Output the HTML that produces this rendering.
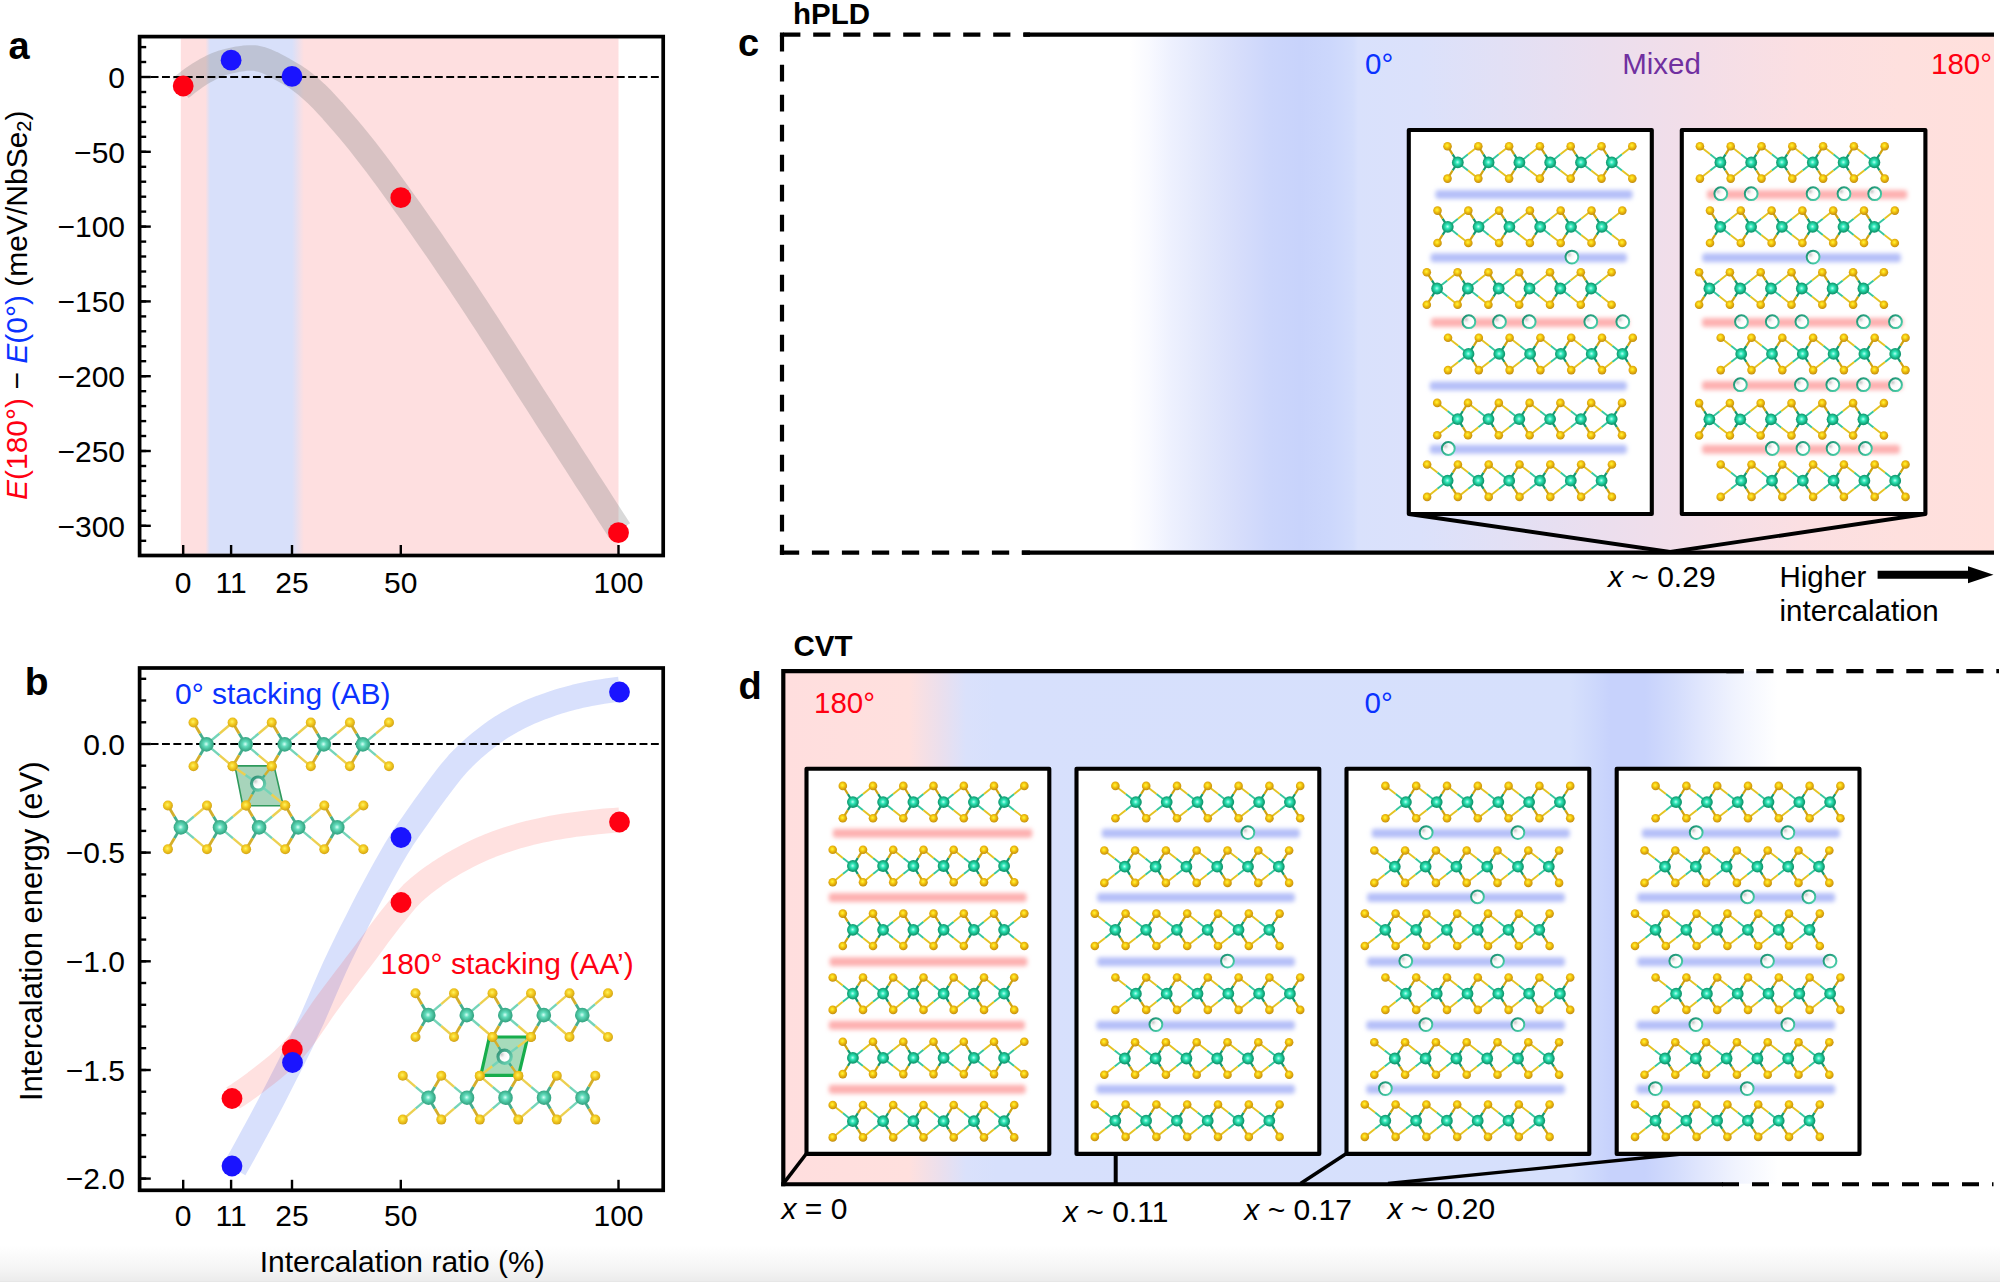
<!DOCTYPE html>
<html><head><meta charset="utf-8"><title>Figure</title>
<style>html,body{margin:0;padding:0;background:#fff}svg{display:block}text{font-family:"Liberation Sans", Arial, Helvetica, sans-serif}</style></head><body>
<svg width="2000" height="1282" viewBox="0 0 2000 1282">

<defs>
<radialGradient id="se" cx="0.45" cy="0.42" r="0.62">
<stop offset="0" stop-color="#fff23c"/><stop offset="0.25" stop-color="#fbdc1c"/><stop offset="0.55" stop-color="#e8b40c"/><stop offset="0.82" stop-color="#d09a0e"/><stop offset="1" stop-color="#ae7f12"/>
</radialGradient>
<radialGradient id="nb" cx="0.48" cy="0.48" r="0.6">
<stop offset="0" stop-color="#b8fff2"/><stop offset="0.3" stop-color="#2ee6b8"/><stop offset="0.68" stop-color="#14a87b"/><stop offset="1" stop-color="#0d805f"/>
</radialGradient>
<radialGradient id="se2" cx="0.45" cy="0.42" r="0.62">
<stop offset="0" stop-color="#fff460"/><stop offset="0.45" stop-color="#f4cc20"/><stop offset="0.8" stop-color="#dcae18"/><stop offset="1" stop-color="#c49a20"/>
</radialGradient>
<radialGradient id="nb2" cx="0.48" cy="0.48" r="0.6">
<stop offset="0" stop-color="#d8fff6"/><stop offset="0.3" stop-color="#62dcbc"/><stop offset="0.7" stop-color="#3db18e"/><stop offset="1" stop-color="#2f9878"/>
</radialGradient>
<radialGradient id="ic" cx="0.28" cy="0.32" r="0.48">
<stop offset="0" stop-color="#cacaca"/><stop offset="0.5" stop-color="#f6f6f6"/><stop offset="1" stop-color="#ffffff"/>
</radialGradient>
<linearGradient id="icr" x1="0" y1="0" x2="1" y2="1">
<stop offset="0" stop-color="#168c6c"/><stop offset="1" stop-color="#4fd6b0"/>
</linearGradient>
<linearGradient id="icr2" x1="0" y1="0" x2="1" y2="1">
<stop offset="0" stop-color="#2f8f74"/><stop offset="1" stop-color="#6fd8b8"/>
</linearGradient>
<filter id="bl" x="-5%" y="-60%" width="110%" height="220%"><feGaussianBlur stdDeviation="2"/></filter>
<linearGradient id="gc" gradientUnits="userSpaceOnUse" x1="1000" y1="0" x2="1994" y2="0">
<stop offset="0.0000" stop-color="#ffffff"/>
<stop offset="0.1308" stop-color="#ffffff"/>
<stop offset="0.1509" stop-color="#f8f9ff"/>
<stop offset="0.1710" stop-color="#eef1fe"/>
<stop offset="0.2012" stop-color="#e3e8fc"/>
<stop offset="0.2414" stop-color="#d6ddfb"/>
<stop offset="0.2716" stop-color="#ccd6fb"/>
<stop offset="0.3018" stop-color="#c8d3fb"/>
<stop offset="0.3320" stop-color="#ccd7fc"/>
<stop offset="0.3551" stop-color="#d3ddfc"/>
<stop offset="0.3602" stop-color="#d9e1fc"/>
<stop offset="0.4225" stop-color="#dbe1fb"/>
<stop offset="0.5030" stop-color="#e2e0f5"/>
<stop offset="0.6036" stop-color="#ebdeee"/>
<stop offset="0.7042" stop-color="#f3dee8"/>
<stop offset="0.8048" stop-color="#fbdfe2"/>
<stop offset="0.9054" stop-color="#fee0de"/>
<stop offset="1.0000" stop-color="#ffe0dc"/>
</linearGradient>
<linearGradient id="gd" gradientUnits="userSpaceOnUse" x1="783" y1="0" x2="1883" y2="0">
<stop offset="0.0000" stop-color="#ffdede"/>
<stop offset="0.1145" stop-color="#ffe0de"/>
<stop offset="0.1418" stop-color="#ecdfec"/>
<stop offset="0.1664" stop-color="#dae1fb"/>
<stop offset="0.1927" stop-color="#d7e0fc"/>
<stop offset="0.7155" stop-color="#d6e0fc"/>
<stop offset="0.7382" stop-color="#cdd8fc"/>
<stop offset="0.7518" stop-color="#c7d2fc"/>
<stop offset="0.7836" stop-color="#c7d2fc"/>
<stop offset="0.8109" stop-color="#d3dcfc"/>
<stop offset="0.8336" stop-color="#e0e6fd"/>
<stop offset="0.8655" stop-color="#f0f3fe"/>
<stop offset="0.9045" stop-color="#ffffff"/>
<stop offset="1.0000" stop-color="#ffffff"/>
</linearGradient>
<linearGradient id="ga" gradientUnits="userSpaceOnUse" x1="180" y1="0" x2="620" y2="0">
<stop offset="0.0000" stop-color="#fedfe0"/>
<stop offset="0.0580" stop-color="#fedfe0"/>
<stop offset="0.0682" stop-color="#d8e0fa"/>
<stop offset="0.2545" stop-color="#d8e0fa"/>
<stop offset="0.2818" stop-color="#fedfe0"/>
<stop offset="1.0000" stop-color="#fedfe0"/>
</linearGradient>
<linearGradient id="gb" x1="0" y1="0" x2="0" y2="1">
<stop offset="0" stop-color="#ffffff"/><stop offset="0.3" stop-color="#fafafa"/><stop offset="0.7" stop-color="#f3f3f3"/><stop offset="0.96" stop-color="#ececec"/><stop offset="1" stop-color="#e4e4e4"/>
</linearGradient>
</defs>

<rect x="0" y="0" width="2000" height="1282" fill="#fff"/>
<rect x="0" y="1246" width="2000" height="36" fill="url(#gb)"/>
<g id="panelA">
<rect x="180.8" y="38.4" width="437.7" height="515.3" fill="url(#ga)"/>
<polyline points="180.6,88.1 183.2,86 188.7,81.6 194.2,77.6 199.8,73.9 205.3,70.6 210.8,67.7 216.3,65.2 221.8,63 227.4,61.4 232.9,60.2 238.4,59.1 243.9,58.3 249.5,57.9 255,58.1 260.5,59.2 266,61 271.5,63.5 277.1,66.3 282.6,69.4 288.1,72.5 293.6,75.7 299.1,79.3 304.7,83.6 310.2,88.3 315.7,93.2 321.2,98.6 326.7,104.4 332.3,110.5 337.8,116.8 343.3,123.1 348.8,129.6 354.4,136.2 359.9,143 365.4,150 370.9,157.1 376.4,164.3 382,171.7 387.5,179.2 393,186.9 398.5,194.5 404,202.3 409.6,210 415.1,217.8 420.6,225.7 426.1,233.6 431.7,241.6 437.2,249.6 442.7,257.7 448.2,265.8 453.7,273.9 459.3,282.1 464.8,290.4 470.3,298.7 475.8,307.1 481.3,315.5 486.9,324 492.4,332.6 497.9,341.1 503.4,349.7 508.9,358.4 514.5,367 520,375.7 525.5,384.3 531,393 536.6,401.6 542.1,410.2 547.6,418.8 553.1,427.4 558.6,435.9 564.2,444.5 569.7,453.1 575.2,461.6 580.7,470.2 586.2,478.8 591.8,487.4 597.3,495.9 602.8,504.5 608.3,513.1 613.8,521.7 619.4,530.3" fill="none" stroke="#808080" stroke-opacity="0.3" stroke-width="25.5" stroke-linejoin="round"/>
<path d="M139.25 77H659" stroke="#000" stroke-width="2.2" stroke-dasharray="7.9 3.47" fill="none"/>
<path d="M139.6 47.1h6.6" stroke="#000" stroke-width="2.4"/><path d="M139.6 62h6.6" stroke="#000" stroke-width="2.4"/><path d="M139.6 92h6.6" stroke="#000" stroke-width="2.4"/><path d="M139.6 106.9h6.6" stroke="#000" stroke-width="2.4"/><path d="M139.6 121.9h6.6" stroke="#000" stroke-width="2.4"/><path d="M139.6 136.8h6.6" stroke="#000" stroke-width="2.4"/><path d="M139.6 151.8h6.6" stroke="#000" stroke-width="2.4"/><path d="M139.6 166.8h6.6" stroke="#000" stroke-width="2.4"/><path d="M139.6 181.7h6.6" stroke="#000" stroke-width="2.4"/><path d="M139.6 196.7h6.6" stroke="#000" stroke-width="2.4"/><path d="M139.6 211.6h6.6" stroke="#000" stroke-width="2.4"/><path d="M139.6 226.6h6.6" stroke="#000" stroke-width="2.4"/><path d="M139.6 241.6h6.6" stroke="#000" stroke-width="2.4"/><path d="M139.6 256.5h6.6" stroke="#000" stroke-width="2.4"/><path d="M139.6 271.5h6.6" stroke="#000" stroke-width="2.4"/><path d="M139.6 286.4h6.6" stroke="#000" stroke-width="2.4"/><path d="M139.6 301.4h6.6" stroke="#000" stroke-width="2.4"/><path d="M139.6 316.4h6.6" stroke="#000" stroke-width="2.4"/><path d="M139.6 331.3h6.6" stroke="#000" stroke-width="2.4"/><path d="M139.6 346.3h6.6" stroke="#000" stroke-width="2.4"/><path d="M139.6 361.2h6.6" stroke="#000" stroke-width="2.4"/><path d="M139.6 376.2h6.6" stroke="#000" stroke-width="2.4"/><path d="M139.6 391.2h6.6" stroke="#000" stroke-width="2.4"/><path d="M139.6 406.1h6.6" stroke="#000" stroke-width="2.4"/><path d="M139.6 421.1h6.6" stroke="#000" stroke-width="2.4"/><path d="M139.6 436h6.6" stroke="#000" stroke-width="2.4"/><path d="M139.6 451h6.6" stroke="#000" stroke-width="2.4"/><path d="M139.6 466h6.6" stroke="#000" stroke-width="2.4"/><path d="M139.6 480.9h6.6" stroke="#000" stroke-width="2.4"/><path d="M139.6 495.9h6.6" stroke="#000" stroke-width="2.4"/><path d="M139.6 510.8h6.6" stroke="#000" stroke-width="2.4"/><path d="M139.6 525.8h6.6" stroke="#000" stroke-width="2.4"/><path d="M139.6 540.8h6.6" stroke="#000" stroke-width="2.4"/>
<path d="M139.6 77h11.2" stroke="#000" stroke-width="2.4"/><path d="M139.6 151.8h11.2" stroke="#000" stroke-width="2.4"/><path d="M139.6 226.6h11.2" stroke="#000" stroke-width="2.4"/><path d="M139.6 301.4h11.2" stroke="#000" stroke-width="2.4"/><path d="M139.6 376.2h11.2" stroke="#000" stroke-width="2.4"/><path d="M139.6 451h11.2" stroke="#000" stroke-width="2.4"/><path d="M139.6 525.8h11.2" stroke="#000" stroke-width="2.4"/>
<path d="M183.2 555.5v-10.5" stroke="#000" stroke-width="2.4"/><path d="M231.1 555.5v-10.5" stroke="#000" stroke-width="2.4"/><path d="M292 555.5v-10.5" stroke="#000" stroke-width="2.4"/><path d="M400.8 555.5v-10.5" stroke="#000" stroke-width="2.4"/><path d="M618.5 555.5v-10.5" stroke="#000" stroke-width="2.4"/>
<circle cx="183.2" cy="86" r="10.4" fill="#ff0012"/>
<circle cx="400.8" cy="197.7" r="10.4" fill="#ff0012"/>
<circle cx="618.5" cy="532.7" r="10.4" fill="#ff0012"/>
<circle cx="231.1" cy="60.2" r="10.4" fill="#1a14ff"/>
<circle cx="292" cy="76.3" r="10.4" fill="#1a14ff"/>
<rect x="139.6" y="36.6" width="523.6" height="518.9" fill="none" stroke="#000" stroke-width="3.7"/>
<text x="125" y="87.8" font-size="30" text-anchor="end">0</text>
<text x="125" y="162.6" font-size="30" text-anchor="end">−50</text>
<text x="125" y="237.4" font-size="30" text-anchor="end">−100</text>
<text x="125" y="312.2" font-size="30" text-anchor="end">−150</text>
<text x="125" y="387" font-size="30" text-anchor="end">−200</text>
<text x="125" y="461.8" font-size="30" text-anchor="end">−250</text>
<text x="125" y="536.6" font-size="30" text-anchor="end">−300</text>
<text x="183.2" y="592.5" font-size="30" text-anchor="middle">0</text>
<text x="231.1" y="592.5" font-size="30" text-anchor="middle">11</text>
<text x="292" y="592.5" font-size="30" text-anchor="middle">25</text>
<text x="400.8" y="592.5" font-size="30" text-anchor="middle">50</text>
<text x="618.5" y="592.5" font-size="30" text-anchor="middle">100</text>
<text transform="translate(26.8 500) rotate(-90)" font-size="30"><tspan fill="#ff0012"><tspan font-style="italic">E</tspan>(180°)</tspan> − <tspan fill="#0a32ff"><tspan font-style="italic">E</tspan>(0°)</tspan> (meV/NbSe<tspan font-size="20" dy="4.5">2</tspan><tspan dy="-4.5">)</tspan></text>
<text x="8.5" y="58.6" font-size="38" font-weight="bold">a</text>
</g>
<g id="panelB">
<polyline points="234.5,1169 240.1,1159.2 245.7,1149.2 251.2,1139 256.8,1128.8 262.4,1118.3 268,1107.8 273.6,1097.1 279.1,1086.3 284.7,1075.4 290.3,1064.4 295.9,1053.2 301.5,1041.8 307,1030 312.6,1017.9 318.2,1005 323.8,991.8 329.4,978.9 334.9,966.7 340.5,954.7 346.1,943.2 351.7,931.9 357.3,920.8 362.8,909.9 368.4,899.1 374,888.6 379.6,878.3 385.2,868.1 390.7,858.2 396.3,848.6 401.9,839.6 407.5,831.3 413.1,823.3 418.6,815.5 424.2,807.6 429.8,799.8 435.4,792.2 440.9,784.8 446.5,777.4 452.1,770.3 457.7,763.8 463.3,758 468.8,752.7 474.4,747.6 480,742.9 485.6,738.4 491.2,734.1 496.7,730.2 502.3,726.6 507.9,723.2 513.5,720.1 519.1,717.2 524.6,714.5 530.2,711.9 535.8,709.6 541.4,707.4 547,705.4 552.5,703.5 558.1,701.7 563.7,700 569.3,698.5 574.9,697 580.4,695.7 586,694.5 591.6,693.3 597.2,692.4 602.8,691.5 608.3,690.6 613.9,689.9 619.5,689.3" fill="none" stroke="#3c64f0" stroke-opacity="0.2" stroke-width="25" stroke-linejoin="round"/>
<polyline points="233,1098 238.6,1094.4 244.2,1090.6 249.8,1086.6 255.4,1082.5 261,1078.2 266.6,1073.8 272.2,1069.4 277.8,1064.7 283.4,1059.7 289,1054.3 294.6,1048.4 300.2,1041.6 305.8,1034.1 311.4,1026.1 317,1017.9 322.6,1009.6 328.2,1001.7 333.8,994.1 339.4,986.7 345,979.3 350.6,972 356.2,964.6 361.8,957.3 367.4,949.9 373,942.3 378.6,934.7 384.2,927.2 389.8,919.9 395.4,913 401,906.1 406.6,899.5 412.2,893.6 417.8,888.5 423.4,883.9 429.1,879.5 434.7,875.5 440.3,871.7 445.9,868.1 451.5,864.7 457.1,861.5 462.7,858.5 468.3,855.5 473.9,852.8 479.5,850.2 485.1,847.7 490.7,845.4 496.3,843.3 501.9,841.3 507.5,839.4 513.1,837.6 518.7,835.9 524.3,834.4 529.9,832.9 535.5,831.6 541.1,830.4 546.7,829.2 552.3,828.1 557.9,827.1 563.5,826.2 569.1,825.3 574.7,824.5 580.3,823.8 585.9,823.1 591.5,822.5 597.1,821.9 602.7,821.3 608.3,820.8 613.9,820.4 619.5,820" fill="none" stroke="#ff1e14" stroke-opacity="0.135" stroke-width="25" stroke-linejoin="round"/>
<path d="M139.25 744H659" stroke="#000" stroke-width="2.2" stroke-dasharray="7.9 3.47" fill="none"/>
<path d="M139.6 678.8h6.6" stroke="#000" stroke-width="2.4"/><path d="M139.6 700.5h6.6" stroke="#000" stroke-width="2.4"/><path d="M139.6 722.3h6.6" stroke="#000" stroke-width="2.4"/><path d="M139.6 765.7h6.6" stroke="#000" stroke-width="2.4"/><path d="M139.6 787.5h6.6" stroke="#000" stroke-width="2.4"/><path d="M139.6 809.2h6.6" stroke="#000" stroke-width="2.4"/><path d="M139.6 830.9h6.6" stroke="#000" stroke-width="2.4"/><path d="M139.6 852.6h6.6" stroke="#000" stroke-width="2.4"/><path d="M139.6 874.4h6.6" stroke="#000" stroke-width="2.4"/><path d="M139.6 896.1h6.6" stroke="#000" stroke-width="2.4"/><path d="M139.6 917.8h6.6" stroke="#000" stroke-width="2.4"/><path d="M139.6 939.6h6.6" stroke="#000" stroke-width="2.4"/><path d="M139.6 961.3h6.6" stroke="#000" stroke-width="2.4"/><path d="M139.6 983h6.6" stroke="#000" stroke-width="2.4"/><path d="M139.6 1004.8h6.6" stroke="#000" stroke-width="2.4"/><path d="M139.6 1026.5h6.6" stroke="#000" stroke-width="2.4"/><path d="M139.6 1048.2h6.6" stroke="#000" stroke-width="2.4"/><path d="M139.6 1070h6.6" stroke="#000" stroke-width="2.4"/><path d="M139.6 1091.7h6.6" stroke="#000" stroke-width="2.4"/><path d="M139.6 1113.4h6.6" stroke="#000" stroke-width="2.4"/><path d="M139.6 1135.1h6.6" stroke="#000" stroke-width="2.4"/><path d="M139.6 1156.9h6.6" stroke="#000" stroke-width="2.4"/><path d="M139.6 1178.6h6.6" stroke="#000" stroke-width="2.4"/>
<path d="M139.6 744h11.2" stroke="#000" stroke-width="2.4"/><path d="M139.6 852.6h11.2" stroke="#000" stroke-width="2.4"/><path d="M139.6 961.3h11.2" stroke="#000" stroke-width="2.4"/><path d="M139.6 1070h11.2" stroke="#000" stroke-width="2.4"/><path d="M139.6 1178.6h11.2" stroke="#000" stroke-width="2.4"/>
<path d="M183.2 1190.3v-10.5" stroke="#000" stroke-width="2.4"/><path d="M231.1 1190.3v-10.5" stroke="#000" stroke-width="2.4"/><path d="M292 1190.3v-10.5" stroke="#000" stroke-width="2.4"/><path d="M400.8 1190.3v-10.5" stroke="#000" stroke-width="2.4"/><path d="M618.5 1190.3v-10.5" stroke="#000" stroke-width="2.4"/>
<g>
<path d="M234.9 765.9L274 765.9L283.3 805.7L242.8 805.7Z" fill="#3c9f68" fill-opacity="0.45" stroke="#2f9a5c" stroke-width="1.6" stroke-linejoin="round"/>
<g fill="none" stroke-linecap="butt"><path d="M206.5 744.4L200 733.5" stroke="#45ae8e" stroke-width="2.8"/><path d="M200 733.5L193.5 722.5" stroke="#d4ae2a" stroke-width="2.8"/><path d="M206.5 744.4L219.6 733.5" stroke="#74d4b8" stroke-width="2.4"/><path d="M219.6 733.5L232.6 722.5" stroke="#ecd050" stroke-width="2.4"/><path d="M206.5 744.4L200 755.3" stroke="#45ae8e" stroke-width="2.8"/><path d="M200 755.3L193.5 766.3" stroke="#d4ae2a" stroke-width="2.8"/><path d="M206.5 744.4L219.6 755.3" stroke="#74d4b8" stroke-width="2.4"/><path d="M219.6 755.3L232.6 766.3" stroke="#ecd050" stroke-width="2.4"/><path d="M245.6 744.4L239.1 733.5" stroke="#45ae8e" stroke-width="2.8"/><path d="M239.1 733.5L232.6 722.5" stroke="#d4ae2a" stroke-width="2.8"/><path d="M245.6 744.4L258.7 733.5" stroke="#74d4b8" stroke-width="2.4"/><path d="M258.7 733.5L271.7 722.5" stroke="#ecd050" stroke-width="2.4"/><path d="M245.6 744.4L239.1 755.3" stroke="#45ae8e" stroke-width="2.8"/><path d="M239.1 755.3L232.6 766.3" stroke="#d4ae2a" stroke-width="2.8"/><path d="M245.6 744.4L258.7 755.3" stroke="#74d4b8" stroke-width="2.4"/><path d="M258.7 755.3L271.7 766.3" stroke="#ecd050" stroke-width="2.4"/><path d="M284.7 744.4L278.2 733.5" stroke="#45ae8e" stroke-width="2.8"/><path d="M278.2 733.5L271.7 722.5" stroke="#d4ae2a" stroke-width="2.8"/><path d="M284.7 744.4L297.8 733.5" stroke="#74d4b8" stroke-width="2.4"/><path d="M297.8 733.5L310.8 722.5" stroke="#ecd050" stroke-width="2.4"/><path d="M284.7 744.4L278.2 755.3" stroke="#45ae8e" stroke-width="2.8"/><path d="M278.2 755.3L271.7 766.3" stroke="#d4ae2a" stroke-width="2.8"/><path d="M284.7 744.4L297.8 755.3" stroke="#74d4b8" stroke-width="2.4"/><path d="M297.8 755.3L310.8 766.3" stroke="#ecd050" stroke-width="2.4"/><path d="M323.8 744.4L317.3 733.5" stroke="#45ae8e" stroke-width="2.8"/><path d="M317.3 733.5L310.8 722.5" stroke="#d4ae2a" stroke-width="2.8"/><path d="M323.8 744.4L336.9 733.5" stroke="#74d4b8" stroke-width="2.4"/><path d="M336.9 733.5L349.9 722.5" stroke="#ecd050" stroke-width="2.4"/><path d="M323.8 744.4L317.3 755.3" stroke="#45ae8e" stroke-width="2.8"/><path d="M317.3 755.3L310.8 766.3" stroke="#d4ae2a" stroke-width="2.8"/><path d="M323.8 744.4L336.9 755.3" stroke="#74d4b8" stroke-width="2.4"/><path d="M336.9 755.3L349.9 766.3" stroke="#ecd050" stroke-width="2.4"/><path d="M362.9 744.4L356.4 733.5" stroke="#45ae8e" stroke-width="2.8"/><path d="M356.4 733.5L349.9 722.5" stroke="#d4ae2a" stroke-width="2.8"/><path d="M362.9 744.4L376 733.5" stroke="#74d4b8" stroke-width="2.4"/><path d="M376 733.5L389 722.5" stroke="#ecd050" stroke-width="2.4"/><path d="M362.9 744.4L356.4 755.3" stroke="#45ae8e" stroke-width="2.8"/><path d="M356.4 755.3L349.9 766.3" stroke="#d4ae2a" stroke-width="2.8"/><path d="M362.9 744.4L376 755.3" stroke="#74d4b8" stroke-width="2.4"/><path d="M376 755.3L389 766.3" stroke="#ecd050" stroke-width="2.4"/></g><circle cx="193.5" cy="722.5" r="5.0" fill="url(#se2)"/><circle cx="193.5" cy="766.3" r="5.0" fill="url(#se2)"/><circle cx="232.6" cy="722.5" r="5.0" fill="url(#se2)"/><circle cx="232.6" cy="766.3" r="5.0" fill="url(#se2)"/><circle cx="271.7" cy="722.5" r="5.0" fill="url(#se2)"/><circle cx="271.7" cy="766.3" r="5.0" fill="url(#se2)"/><circle cx="310.8" cy="722.5" r="5.0" fill="url(#se2)"/><circle cx="310.8" cy="766.3" r="5.0" fill="url(#se2)"/><circle cx="349.9" cy="722.5" r="5.0" fill="url(#se2)"/><circle cx="349.9" cy="766.3" r="5.0" fill="url(#se2)"/><circle cx="389" cy="722.5" r="5.0" fill="url(#se2)"/><circle cx="389" cy="766.3" r="5.0" fill="url(#se2)"/><circle cx="206.5" cy="744.4" r="7.3" fill="url(#nb2)"/><circle cx="245.6" cy="744.4" r="7.3" fill="url(#nb2)"/><circle cx="284.7" cy="744.4" r="7.3" fill="url(#nb2)"/><circle cx="323.8" cy="744.4" r="7.3" fill="url(#nb2)"/><circle cx="362.9" cy="744.4" r="7.3" fill="url(#nb2)"/>
<g fill="none" stroke-linecap="butt"><path d="M180.9 827.4L174.4 816.5" stroke="#45ae8e" stroke-width="2.8"/><path d="M174.4 816.5L167.9 805.5" stroke="#d4ae2a" stroke-width="2.8"/><path d="M180.9 827.4L194 816.5" stroke="#74d4b8" stroke-width="2.4"/><path d="M194 816.5L207 805.5" stroke="#ecd050" stroke-width="2.4"/><path d="M180.9 827.4L174.4 838.3" stroke="#45ae8e" stroke-width="2.8"/><path d="M174.4 838.3L167.9 849.3" stroke="#d4ae2a" stroke-width="2.8"/><path d="M180.9 827.4L194 838.3" stroke="#74d4b8" stroke-width="2.4"/><path d="M194 838.3L207 849.3" stroke="#ecd050" stroke-width="2.4"/><path d="M220 827.4L213.5 816.5" stroke="#45ae8e" stroke-width="2.8"/><path d="M213.5 816.5L207 805.5" stroke="#d4ae2a" stroke-width="2.8"/><path d="M220 827.4L233.1 816.5" stroke="#74d4b8" stroke-width="2.4"/><path d="M233.1 816.5L246.1 805.5" stroke="#ecd050" stroke-width="2.4"/><path d="M220 827.4L213.5 838.3" stroke="#45ae8e" stroke-width="2.8"/><path d="M213.5 838.3L207 849.3" stroke="#d4ae2a" stroke-width="2.8"/><path d="M220 827.4L233.1 838.3" stroke="#74d4b8" stroke-width="2.4"/><path d="M233.1 838.3L246.1 849.3" stroke="#ecd050" stroke-width="2.4"/><path d="M259.1 827.4L252.6 816.5" stroke="#45ae8e" stroke-width="2.8"/><path d="M252.6 816.5L246.1 805.5" stroke="#d4ae2a" stroke-width="2.8"/><path d="M259.1 827.4L272.2 816.5" stroke="#74d4b8" stroke-width="2.4"/><path d="M272.2 816.5L285.2 805.5" stroke="#ecd050" stroke-width="2.4"/><path d="M259.1 827.4L252.6 838.3" stroke="#45ae8e" stroke-width="2.8"/><path d="M252.6 838.3L246.1 849.3" stroke="#d4ae2a" stroke-width="2.8"/><path d="M259.1 827.4L272.2 838.3" stroke="#74d4b8" stroke-width="2.4"/><path d="M272.2 838.3L285.2 849.3" stroke="#ecd050" stroke-width="2.4"/><path d="M298.2 827.4L291.7 816.5" stroke="#45ae8e" stroke-width="2.8"/><path d="M291.7 816.5L285.2 805.5" stroke="#d4ae2a" stroke-width="2.8"/><path d="M298.2 827.4L311.3 816.5" stroke="#74d4b8" stroke-width="2.4"/><path d="M311.3 816.5L324.3 805.5" stroke="#ecd050" stroke-width="2.4"/><path d="M298.2 827.4L291.7 838.3" stroke="#45ae8e" stroke-width="2.8"/><path d="M291.7 838.3L285.2 849.3" stroke="#d4ae2a" stroke-width="2.8"/><path d="M298.2 827.4L311.3 838.3" stroke="#74d4b8" stroke-width="2.4"/><path d="M311.3 838.3L324.3 849.3" stroke="#ecd050" stroke-width="2.4"/><path d="M337.3 827.4L330.8 816.5" stroke="#45ae8e" stroke-width="2.8"/><path d="M330.8 816.5L324.3 805.5" stroke="#d4ae2a" stroke-width="2.8"/><path d="M337.3 827.4L350.4 816.5" stroke="#74d4b8" stroke-width="2.4"/><path d="M350.4 816.5L363.4 805.5" stroke="#ecd050" stroke-width="2.4"/><path d="M337.3 827.4L330.8 838.3" stroke="#45ae8e" stroke-width="2.8"/><path d="M330.8 838.3L324.3 849.3" stroke="#d4ae2a" stroke-width="2.8"/><path d="M337.3 827.4L350.4 838.3" stroke="#74d4b8" stroke-width="2.4"/><path d="M350.4 838.3L363.4 849.3" stroke="#ecd050" stroke-width="2.4"/></g><circle cx="167.9" cy="805.5" r="5.0" fill="url(#se2)"/><circle cx="167.9" cy="849.3" r="5.0" fill="url(#se2)"/><circle cx="207" cy="805.5" r="5.0" fill="url(#se2)"/><circle cx="207" cy="849.3" r="5.0" fill="url(#se2)"/><circle cx="246.1" cy="805.5" r="5.0" fill="url(#se2)"/><circle cx="246.1" cy="849.3" r="5.0" fill="url(#se2)"/><circle cx="285.2" cy="805.5" r="5.0" fill="url(#se2)"/><circle cx="285.2" cy="849.3" r="5.0" fill="url(#se2)"/><circle cx="324.3" cy="805.5" r="5.0" fill="url(#se2)"/><circle cx="324.3" cy="849.3" r="5.0" fill="url(#se2)"/><circle cx="363.4" cy="805.5" r="5.0" fill="url(#se2)"/><circle cx="363.4" cy="849.3" r="5.0" fill="url(#se2)"/><circle cx="180.9" cy="827.4" r="7.3" fill="url(#nb2)"/><circle cx="220" cy="827.4" r="7.3" fill="url(#nb2)"/><circle cx="259.1" cy="827.4" r="7.3" fill="url(#nb2)"/><circle cx="298.2" cy="827.4" r="7.3" fill="url(#nb2)"/><circle cx="337.3" cy="827.4" r="7.3" fill="url(#nb2)"/>
</g>
<path d="M258.1 783.6L245.4 775" stroke="#74d4b8" stroke-width="2.4" fill="none"/><path d="M245.4 775L232.6 766.3" stroke="#ecd050" stroke-width="2.4" fill="none"/><path d="M258.1 783.6L264.9 775" stroke="#45ae8e" stroke-width="2.4" fill="none"/><path d="M264.9 775L271.7 766.3" stroke="#d4ae2a" stroke-width="2.4" fill="none"/><path d="M258.1 783.6L252.1 794.5" stroke="#45ae8e" stroke-width="2.4" fill="none"/><path d="M252.1 794.5L246.1 805.5" stroke="#d4ae2a" stroke-width="2.4" fill="none"/><path d="M258.1 783.6L271.6 794.5" stroke="#74d4b8" stroke-width="2.4" fill="none"/><path d="M271.6 794.5L285.2 805.5" stroke="#ecd050" stroke-width="2.4" fill="none"/><circle cx="232.6" cy="766.3" r="5" fill="url(#se2)"/><circle cx="271.7" cy="766.3" r="5" fill="url(#se2)"/><circle cx="246.1" cy="805.5" r="5" fill="url(#se2)"/><circle cx="285.2" cy="805.5" r="5" fill="url(#se2)"/><circle cx="258.1" cy="783.6" r="6.6" fill="url(#ic)" stroke="url(#icr2)" stroke-width="3.2"/>
<path d="M489.4 1037L527.8 1037L518.6 1075.4L480.8 1075.4Z" fill="#4fb878" fill-opacity="0.5" stroke="#17ad4c" stroke-width="3.2" stroke-linejoin="round"/>
<g fill="none" stroke-linecap="butt"><path d="M428.3 1015.1L421.9 1004.2" stroke="#45ae8e" stroke-width="2.8"/><path d="M421.9 1004.2L415.5 993.2" stroke="#d4ae2a" stroke-width="2.8"/><path d="M428.3 1015.1L441.2 1004.2" stroke="#74d4b8" stroke-width="2.4"/><path d="M441.2 1004.2L454 993.2" stroke="#ecd050" stroke-width="2.4"/><path d="M428.3 1015.1L421.9 1026" stroke="#45ae8e" stroke-width="2.8"/><path d="M421.9 1026L415.5 1037" stroke="#d4ae2a" stroke-width="2.8"/><path d="M428.3 1015.1L441.2 1026" stroke="#74d4b8" stroke-width="2.4"/><path d="M441.2 1026L454 1037" stroke="#ecd050" stroke-width="2.4"/><path d="M466.8 1015.1L460.4 1004.2" stroke="#45ae8e" stroke-width="2.8"/><path d="M460.4 1004.2L454 993.2" stroke="#d4ae2a" stroke-width="2.8"/><path d="M466.8 1015.1L479.7 1004.2" stroke="#74d4b8" stroke-width="2.4"/><path d="M479.7 1004.2L492.5 993.2" stroke="#ecd050" stroke-width="2.4"/><path d="M466.8 1015.1L460.4 1026" stroke="#45ae8e" stroke-width="2.8"/><path d="M460.4 1026L454 1037" stroke="#d4ae2a" stroke-width="2.8"/><path d="M466.8 1015.1L479.7 1026" stroke="#74d4b8" stroke-width="2.4"/><path d="M479.7 1026L492.5 1037" stroke="#ecd050" stroke-width="2.4"/><path d="M505.3 1015.1L498.9 1004.2" stroke="#45ae8e" stroke-width="2.8"/><path d="M498.9 1004.2L492.5 993.2" stroke="#d4ae2a" stroke-width="2.8"/><path d="M505.3 1015.1L518.2 1004.2" stroke="#74d4b8" stroke-width="2.4"/><path d="M518.2 1004.2L531 993.2" stroke="#ecd050" stroke-width="2.4"/><path d="M505.3 1015.1L498.9 1026" stroke="#45ae8e" stroke-width="2.8"/><path d="M498.9 1026L492.5 1037" stroke="#d4ae2a" stroke-width="2.8"/><path d="M505.3 1015.1L518.2 1026" stroke="#74d4b8" stroke-width="2.4"/><path d="M518.2 1026L531 1037" stroke="#ecd050" stroke-width="2.4"/><path d="M543.8 1015.1L537.4 1004.2" stroke="#45ae8e" stroke-width="2.8"/><path d="M537.4 1004.2L531 993.2" stroke="#d4ae2a" stroke-width="2.8"/><path d="M543.8 1015.1L556.7 1004.2" stroke="#74d4b8" stroke-width="2.4"/><path d="M556.7 1004.2L569.5 993.2" stroke="#ecd050" stroke-width="2.4"/><path d="M543.8 1015.1L537.4 1026" stroke="#45ae8e" stroke-width="2.8"/><path d="M537.4 1026L531 1037" stroke="#d4ae2a" stroke-width="2.8"/><path d="M543.8 1015.1L556.7 1026" stroke="#74d4b8" stroke-width="2.4"/><path d="M556.7 1026L569.5 1037" stroke="#ecd050" stroke-width="2.4"/><path d="M582.3 1015.1L575.9 1004.2" stroke="#45ae8e" stroke-width="2.8"/><path d="M575.9 1004.2L569.5 993.2" stroke="#d4ae2a" stroke-width="2.8"/><path d="M582.3 1015.1L595.2 1004.2" stroke="#74d4b8" stroke-width="2.4"/><path d="M595.2 1004.2L608 993.2" stroke="#ecd050" stroke-width="2.4"/><path d="M582.3 1015.1L575.9 1026" stroke="#45ae8e" stroke-width="2.8"/><path d="M575.9 1026L569.5 1037" stroke="#d4ae2a" stroke-width="2.8"/><path d="M582.3 1015.1L595.2 1026" stroke="#74d4b8" stroke-width="2.4"/><path d="M595.2 1026L608 1037" stroke="#ecd050" stroke-width="2.4"/></g><circle cx="415.5" cy="993.2" r="5.0" fill="url(#se2)"/><circle cx="415.5" cy="1037" r="5.0" fill="url(#se2)"/><circle cx="454" cy="993.2" r="5.0" fill="url(#se2)"/><circle cx="454" cy="1037" r="5.0" fill="url(#se2)"/><circle cx="492.5" cy="993.2" r="5.0" fill="url(#se2)"/><circle cx="492.5" cy="1037" r="5.0" fill="url(#se2)"/><circle cx="531" cy="993.2" r="5.0" fill="url(#se2)"/><circle cx="531" cy="1037" r="5.0" fill="url(#se2)"/><circle cx="569.5" cy="993.2" r="5.0" fill="url(#se2)"/><circle cx="569.5" cy="1037" r="5.0" fill="url(#se2)"/><circle cx="608" cy="993.2" r="5.0" fill="url(#se2)"/><circle cx="608" cy="1037" r="5.0" fill="url(#se2)"/><circle cx="428.3" cy="1015.1" r="7.3" fill="url(#nb2)"/><circle cx="466.8" cy="1015.1" r="7.3" fill="url(#nb2)"/><circle cx="505.3" cy="1015.1" r="7.3" fill="url(#nb2)"/><circle cx="543.8" cy="1015.1" r="7.3" fill="url(#nb2)"/><circle cx="582.3" cy="1015.1" r="7.3" fill="url(#nb2)"/>
<g fill="none" stroke-linecap="butt"><path d="M428.5 1097.7L415.6 1086.8" stroke="#74d4b8" stroke-width="2.4"/><path d="M415.6 1086.8L402.8 1075.8" stroke="#ecd050" stroke-width="2.4"/><path d="M428.5 1097.7L434.9 1086.8" stroke="#45ae8e" stroke-width="2.8"/><path d="M434.9 1086.8L441.3 1075.8" stroke="#d4ae2a" stroke-width="2.8"/><path d="M428.5 1097.7L415.6 1108.7" stroke="#74d4b8" stroke-width="2.4"/><path d="M415.6 1108.7L402.8 1119.6" stroke="#ecd050" stroke-width="2.4"/><path d="M428.5 1097.7L434.9 1108.7" stroke="#45ae8e" stroke-width="2.8"/><path d="M434.9 1108.7L441.3 1119.6" stroke="#d4ae2a" stroke-width="2.8"/><path d="M467 1097.7L454.1 1086.8" stroke="#74d4b8" stroke-width="2.4"/><path d="M454.1 1086.8L441.3 1075.8" stroke="#ecd050" stroke-width="2.4"/><path d="M467 1097.7L473.4 1086.8" stroke="#45ae8e" stroke-width="2.8"/><path d="M473.4 1086.8L479.8 1075.8" stroke="#d4ae2a" stroke-width="2.8"/><path d="M467 1097.7L454.1 1108.7" stroke="#74d4b8" stroke-width="2.4"/><path d="M454.1 1108.7L441.3 1119.6" stroke="#ecd050" stroke-width="2.4"/><path d="M467 1097.7L473.4 1108.7" stroke="#45ae8e" stroke-width="2.8"/><path d="M473.4 1108.7L479.8 1119.6" stroke="#d4ae2a" stroke-width="2.8"/><path d="M505.5 1097.7L492.6 1086.8" stroke="#74d4b8" stroke-width="2.4"/><path d="M492.6 1086.8L479.8 1075.8" stroke="#ecd050" stroke-width="2.4"/><path d="M505.5 1097.7L511.9 1086.8" stroke="#45ae8e" stroke-width="2.8"/><path d="M511.9 1086.8L518.3 1075.8" stroke="#d4ae2a" stroke-width="2.8"/><path d="M505.5 1097.7L492.6 1108.7" stroke="#74d4b8" stroke-width="2.4"/><path d="M492.6 1108.7L479.8 1119.6" stroke="#ecd050" stroke-width="2.4"/><path d="M505.5 1097.7L511.9 1108.7" stroke="#45ae8e" stroke-width="2.8"/><path d="M511.9 1108.7L518.3 1119.6" stroke="#d4ae2a" stroke-width="2.8"/><path d="M544 1097.7L531.1 1086.8" stroke="#74d4b8" stroke-width="2.4"/><path d="M531.1 1086.8L518.3 1075.8" stroke="#ecd050" stroke-width="2.4"/><path d="M544 1097.7L550.4 1086.8" stroke="#45ae8e" stroke-width="2.8"/><path d="M550.4 1086.8L556.8 1075.8" stroke="#d4ae2a" stroke-width="2.8"/><path d="M544 1097.7L531.1 1108.7" stroke="#74d4b8" stroke-width="2.4"/><path d="M531.1 1108.7L518.3 1119.6" stroke="#ecd050" stroke-width="2.4"/><path d="M544 1097.7L550.4 1108.7" stroke="#45ae8e" stroke-width="2.8"/><path d="M550.4 1108.7L556.8 1119.6" stroke="#d4ae2a" stroke-width="2.8"/><path d="M582.5 1097.7L569.6 1086.8" stroke="#74d4b8" stroke-width="2.4"/><path d="M569.6 1086.8L556.8 1075.8" stroke="#ecd050" stroke-width="2.4"/><path d="M582.5 1097.7L588.9 1086.8" stroke="#45ae8e" stroke-width="2.8"/><path d="M588.9 1086.8L595.3 1075.8" stroke="#d4ae2a" stroke-width="2.8"/><path d="M582.5 1097.7L569.6 1108.7" stroke="#74d4b8" stroke-width="2.4"/><path d="M569.6 1108.7L556.8 1119.6" stroke="#ecd050" stroke-width="2.4"/><path d="M582.5 1097.7L588.9 1108.7" stroke="#45ae8e" stroke-width="2.8"/><path d="M588.9 1108.7L595.3 1119.6" stroke="#d4ae2a" stroke-width="2.8"/></g><circle cx="402.8" cy="1075.8" r="5.0" fill="url(#se2)"/><circle cx="402.8" cy="1119.6" r="5.0" fill="url(#se2)"/><circle cx="441.3" cy="1075.8" r="5.0" fill="url(#se2)"/><circle cx="441.3" cy="1119.6" r="5.0" fill="url(#se2)"/><circle cx="479.8" cy="1075.8" r="5.0" fill="url(#se2)"/><circle cx="479.8" cy="1119.6" r="5.0" fill="url(#se2)"/><circle cx="518.3" cy="1075.8" r="5.0" fill="url(#se2)"/><circle cx="518.3" cy="1119.6" r="5.0" fill="url(#se2)"/><circle cx="556.8" cy="1075.8" r="5.0" fill="url(#se2)"/><circle cx="556.8" cy="1119.6" r="5.0" fill="url(#se2)"/><circle cx="595.3" cy="1075.8" r="5.0" fill="url(#se2)"/><circle cx="595.3" cy="1119.6" r="5.0" fill="url(#se2)"/><circle cx="428.5" cy="1097.7" r="7.3" fill="url(#nb2)"/><circle cx="467" cy="1097.7" r="7.3" fill="url(#nb2)"/><circle cx="505.5" cy="1097.7" r="7.3" fill="url(#nb2)"/><circle cx="544" cy="1097.7" r="7.3" fill="url(#nb2)"/><circle cx="582.5" cy="1097.7" r="7.3" fill="url(#nb2)"/>
<path d="M504.6 1056.8L498.6 1046.9" stroke="#45ae8e" stroke-width="2.4" fill="none"/><path d="M498.6 1046.9L492.5 1037" stroke="#d4ae2a" stroke-width="2.4" fill="none"/><path d="M504.6 1056.8L517.8 1046.9" stroke="#74d4b8" stroke-width="2.4" fill="none"/><path d="M517.8 1046.9L531 1037" stroke="#ecd050" stroke-width="2.4" fill="none"/><path d="M504.6 1056.8L492.2 1066.3" stroke="#74d4b8" stroke-width="2.4" fill="none"/><path d="M492.2 1066.3L479.8 1075.9" stroke="#ecd050" stroke-width="2.4" fill="none"/><path d="M504.6 1056.8L511.4 1066.3" stroke="#45ae8e" stroke-width="2.4" fill="none"/><path d="M511.4 1066.3L518.3 1075.9" stroke="#d4ae2a" stroke-width="2.4" fill="none"/><circle cx="492.5" cy="1037" r="5" fill="url(#se2)"/><circle cx="531" cy="1037" r="5" fill="url(#se2)"/><circle cx="479.8" cy="1075.9" r="5" fill="url(#se2)"/><circle cx="518.3" cy="1075.9" r="5" fill="url(#se2)"/><circle cx="504.6" cy="1056.8" r="6.6" fill="url(#ic)" stroke="url(#icr2)" stroke-width="3.2"/>
<circle cx="232" cy="1098.5" r="10.4" fill="#ff0012"/>
<circle cx="292.3" cy="1049.5" r="10.4" fill="#ff0012"/>
<circle cx="401" cy="902.5" r="10.4" fill="#ff0012"/>
<circle cx="619.5" cy="822" r="10.4" fill="#ff0012"/>
<circle cx="232" cy="1166" r="10.4" fill="#1a14ff"/>
<circle cx="292.5" cy="1062.5" r="10.4" fill="#1a14ff"/>
<circle cx="401" cy="837.5" r="10.4" fill="#1a14ff"/>
<circle cx="619.5" cy="692" r="10.4" fill="#1a14ff"/>
<rect x="139.6" y="668" width="523.6" height="522.3" fill="none" stroke="#000" stroke-width="3.7"/>
<text x="125" y="754.8" font-size="30" text-anchor="end">0.0</text>
<text x="125" y="863.4" font-size="30" text-anchor="end">−0.5</text>
<text x="125" y="972.1" font-size="30" text-anchor="end">−1.0</text>
<text x="125" y="1080.8" font-size="30" text-anchor="end">−1.5</text>
<text x="125" y="1189.4" font-size="30" text-anchor="end">−2.0</text>
<text x="183.2" y="1226.4" font-size="30" text-anchor="middle">0</text>
<text x="231.1" y="1226.4" font-size="30" text-anchor="middle">11</text>
<text x="292" y="1226.4" font-size="30" text-anchor="middle">25</text>
<text x="400.8" y="1226.4" font-size="30" text-anchor="middle">50</text>
<text x="618.5" y="1226.4" font-size="30" text-anchor="middle">100</text>
<text x="402.2" y="1272" font-size="30" text-anchor="middle">Intercalation ratio (%)</text>
<text transform="translate(42 1101) rotate(-90)" font-size="31">Intercalation energy (eV)</text>
<text x="175" y="704" font-size="30" fill="#0a32ff">0° stacking (AB)</text>
<text x="380.5" y="974" font-size="30" fill="#ff0012">180° stacking (AA’)</text>
<text x="24.8" y="695" font-size="39" font-weight="bold">b</text>
</g>
<g id="panelC">
<rect x="1000" y="34.4" width="994" height="518.2" fill="url(#gc)"/>
<path d="M1023.6 34.6H1994" stroke="#000" stroke-width="4.2" fill="none"/>
<path d="M1021.8 552.7H1994" stroke="#000" stroke-width="4.2" fill="none"/>
<path d="M783.2 34.6H1030" stroke="#000" stroke-width="4.2" fill="none" stroke-dasharray="17.2 12.8"/>
<path d="M781.9 552.7H1030" stroke="#000" stroke-width="4.2" fill="none" stroke-dasharray="17.3 12.7"/>
<path d="M782 34.7V554.8" stroke="#000" stroke-width="4.2" fill="none" stroke-dasharray="16.8 13.2"/>
<path d="M779.9 34.6H784M779.9 552.7H784" stroke="#000" stroke-width="4.2" fill="none"/>
<path d="M1408.8 514L1670.2 552L1925.4 514" stroke="#000" stroke-width="3.9" fill="none" stroke-linejoin="miter"/>
<rect x="1408.8" y="130" width="243" height="384" fill="#fff" stroke="#000" stroke-width="4.1" stroke-linejoin="round"/>
<g filter="url(#bl)">
<rect x="1435.4" y="189.9" width="197.1" height="9" rx="3" fill="#b5bff8"/>
<rect x="1430.6" y="253.3" width="196.3" height="9" rx="3" fill="#b5bff8"/>
<rect x="1431" y="317.9" width="198" height="9" rx="3" fill="#fdb1b1"/>
<rect x="1429.8" y="381.4" width="197.1" height="9" rx="3" fill="#b5bff8"/>
<rect x="1429.8" y="444.7" width="197.1" height="9" rx="3" fill="#b5bff8"/>
</g>
<g fill="none" stroke-linecap="butt"><path d="M1457.8 162.4L1452.6 154.3" stroke="#139a70" stroke-width="2.2"/><path d="M1452.6 154.3L1447.5 146.2" stroke="#cfa311" stroke-width="2.2"/><path d="M1457.8 162.4L1468 154.3" stroke="#35c79f" stroke-width="1.9"/><path d="M1468 154.3L1478.3 146.2" stroke="#e4c322" stroke-width="1.9"/><path d="M1457.8 162.4L1452.6 170.5" stroke="#139a70" stroke-width="2.2"/><path d="M1452.6 170.5L1447.5 178.6" stroke="#cfa311" stroke-width="2.2"/><path d="M1457.8 162.4L1468 170.5" stroke="#35c79f" stroke-width="1.9"/><path d="M1468 170.5L1478.3 178.6" stroke="#e4c322" stroke-width="1.9"/><path d="M1488.6 162.4L1483.4 154.3" stroke="#139a70" stroke-width="2.2"/><path d="M1483.4 154.3L1478.3 146.2" stroke="#cfa311" stroke-width="2.2"/><path d="M1488.6 162.4L1498.8 154.3" stroke="#35c79f" stroke-width="1.9"/><path d="M1498.8 154.3L1509.1 146.2" stroke="#e4c322" stroke-width="1.9"/><path d="M1488.6 162.4L1483.4 170.5" stroke="#139a70" stroke-width="2.2"/><path d="M1483.4 170.5L1478.3 178.6" stroke="#cfa311" stroke-width="2.2"/><path d="M1488.6 162.4L1498.8 170.5" stroke="#35c79f" stroke-width="1.9"/><path d="M1498.8 170.5L1509.1 178.6" stroke="#e4c322" stroke-width="1.9"/><path d="M1519.4 162.4L1514.2 154.3" stroke="#139a70" stroke-width="2.2"/><path d="M1514.2 154.3L1509.1 146.2" stroke="#cfa311" stroke-width="2.2"/><path d="M1519.4 162.4L1529.6 154.3" stroke="#35c79f" stroke-width="1.9"/><path d="M1529.6 154.3L1539.9 146.2" stroke="#e4c322" stroke-width="1.9"/><path d="M1519.4 162.4L1514.2 170.5" stroke="#139a70" stroke-width="2.2"/><path d="M1514.2 170.5L1509.1 178.6" stroke="#cfa311" stroke-width="2.2"/><path d="M1519.4 162.4L1529.6 170.5" stroke="#35c79f" stroke-width="1.9"/><path d="M1529.6 170.5L1539.9 178.6" stroke="#e4c322" stroke-width="1.9"/><path d="M1550.2 162.4L1545 154.3" stroke="#139a70" stroke-width="2.2"/><path d="M1545 154.3L1539.9 146.2" stroke="#cfa311" stroke-width="2.2"/><path d="M1550.2 162.4L1560.4 154.3" stroke="#35c79f" stroke-width="1.9"/><path d="M1560.4 154.3L1570.7 146.2" stroke="#e4c322" stroke-width="1.9"/><path d="M1550.2 162.4L1545 170.5" stroke="#139a70" stroke-width="2.2"/><path d="M1545 170.5L1539.9 178.6" stroke="#cfa311" stroke-width="2.2"/><path d="M1550.2 162.4L1560.4 170.5" stroke="#35c79f" stroke-width="1.9"/><path d="M1560.4 170.5L1570.7 178.6" stroke="#e4c322" stroke-width="1.9"/><path d="M1581 162.4L1575.8 154.3" stroke="#139a70" stroke-width="2.2"/><path d="M1575.8 154.3L1570.7 146.2" stroke="#cfa311" stroke-width="2.2"/><path d="M1581 162.4L1591.2 154.3" stroke="#35c79f" stroke-width="1.9"/><path d="M1591.2 154.3L1601.5 146.2" stroke="#e4c322" stroke-width="1.9"/><path d="M1581 162.4L1575.8 170.5" stroke="#139a70" stroke-width="2.2"/><path d="M1575.8 170.5L1570.7 178.6" stroke="#cfa311" stroke-width="2.2"/><path d="M1581 162.4L1591.2 170.5" stroke="#35c79f" stroke-width="1.9"/><path d="M1591.2 170.5L1601.5 178.6" stroke="#e4c322" stroke-width="1.9"/><path d="M1611.8 162.4L1606.6 154.3" stroke="#139a70" stroke-width="2.2"/><path d="M1606.6 154.3L1601.5 146.2" stroke="#cfa311" stroke-width="2.2"/><path d="M1611.8 162.4L1622 154.3" stroke="#35c79f" stroke-width="1.9"/><path d="M1622 154.3L1632.3 146.2" stroke="#e4c322" stroke-width="1.9"/><path d="M1611.8 162.4L1606.6 170.5" stroke="#139a70" stroke-width="2.2"/><path d="M1606.6 170.5L1601.5 178.6" stroke="#cfa311" stroke-width="2.2"/><path d="M1611.8 162.4L1622 170.5" stroke="#35c79f" stroke-width="1.9"/><path d="M1622 170.5L1632.3 178.6" stroke="#e4c322" stroke-width="1.9"/></g><circle cx="1447.5" cy="146.2" r="4.3" fill="url(#se)"/><circle cx="1447.5" cy="178.6" r="4.3" fill="url(#se)"/><circle cx="1478.3" cy="146.2" r="4.3" fill="url(#se)"/><circle cx="1478.3" cy="178.6" r="4.3" fill="url(#se)"/><circle cx="1509.1" cy="146.2" r="4.3" fill="url(#se)"/><circle cx="1509.1" cy="178.6" r="4.3" fill="url(#se)"/><circle cx="1539.9" cy="146.2" r="4.3" fill="url(#se)"/><circle cx="1539.9" cy="178.6" r="4.3" fill="url(#se)"/><circle cx="1570.7" cy="146.2" r="4.3" fill="url(#se)"/><circle cx="1570.7" cy="178.6" r="4.3" fill="url(#se)"/><circle cx="1601.5" cy="146.2" r="4.3" fill="url(#se)"/><circle cx="1601.5" cy="178.6" r="4.3" fill="url(#se)"/><circle cx="1632.3" cy="146.2" r="4.3" fill="url(#se)"/><circle cx="1632.3" cy="178.6" r="4.3" fill="url(#se)"/><circle cx="1457.8" cy="162.4" r="5.9" fill="url(#nb)"/><circle cx="1488.6" cy="162.4" r="5.9" fill="url(#nb)"/><circle cx="1519.4" cy="162.4" r="5.9" fill="url(#nb)"/><circle cx="1550.2" cy="162.4" r="5.9" fill="url(#nb)"/><circle cx="1581" cy="162.4" r="5.9" fill="url(#nb)"/><circle cx="1611.8" cy="162.4" r="5.9" fill="url(#nb)"/>
<g fill="none" stroke-linecap="butt"><path d="M1447.8 226.8L1442.6 218.7" stroke="#139a70" stroke-width="2.2"/><path d="M1442.6 218.7L1437.5 210.6" stroke="#cfa311" stroke-width="2.2"/><path d="M1447.8 226.8L1458 218.7" stroke="#35c79f" stroke-width="1.9"/><path d="M1458 218.7L1468.3 210.6" stroke="#e4c322" stroke-width="1.9"/><path d="M1447.8 226.8L1442.6 234.9" stroke="#139a70" stroke-width="2.2"/><path d="M1442.6 234.9L1437.5 243" stroke="#cfa311" stroke-width="2.2"/><path d="M1447.8 226.8L1458 234.9" stroke="#35c79f" stroke-width="1.9"/><path d="M1458 234.9L1468.3 243" stroke="#e4c322" stroke-width="1.9"/><path d="M1478.6 226.8L1473.4 218.7" stroke="#139a70" stroke-width="2.2"/><path d="M1473.4 218.7L1468.3 210.6" stroke="#cfa311" stroke-width="2.2"/><path d="M1478.6 226.8L1488.8 218.7" stroke="#35c79f" stroke-width="1.9"/><path d="M1488.8 218.7L1499.1 210.6" stroke="#e4c322" stroke-width="1.9"/><path d="M1478.6 226.8L1473.4 234.9" stroke="#139a70" stroke-width="2.2"/><path d="M1473.4 234.9L1468.3 243" stroke="#cfa311" stroke-width="2.2"/><path d="M1478.6 226.8L1488.8 234.9" stroke="#35c79f" stroke-width="1.9"/><path d="M1488.8 234.9L1499.1 243" stroke="#e4c322" stroke-width="1.9"/><path d="M1509.4 226.8L1504.2 218.7" stroke="#139a70" stroke-width="2.2"/><path d="M1504.2 218.7L1499.1 210.6" stroke="#cfa311" stroke-width="2.2"/><path d="M1509.4 226.8L1519.6 218.7" stroke="#35c79f" stroke-width="1.9"/><path d="M1519.6 218.7L1529.9 210.6" stroke="#e4c322" stroke-width="1.9"/><path d="M1509.4 226.8L1504.2 234.9" stroke="#139a70" stroke-width="2.2"/><path d="M1504.2 234.9L1499.1 243" stroke="#cfa311" stroke-width="2.2"/><path d="M1509.4 226.8L1519.6 234.9" stroke="#35c79f" stroke-width="1.9"/><path d="M1519.6 234.9L1529.9 243" stroke="#e4c322" stroke-width="1.9"/><path d="M1540.2 226.8L1535 218.7" stroke="#139a70" stroke-width="2.2"/><path d="M1535 218.7L1529.9 210.6" stroke="#cfa311" stroke-width="2.2"/><path d="M1540.2 226.8L1550.4 218.7" stroke="#35c79f" stroke-width="1.9"/><path d="M1550.4 218.7L1560.7 210.6" stroke="#e4c322" stroke-width="1.9"/><path d="M1540.2 226.8L1535 234.9" stroke="#139a70" stroke-width="2.2"/><path d="M1535 234.9L1529.9 243" stroke="#cfa311" stroke-width="2.2"/><path d="M1540.2 226.8L1550.4 234.9" stroke="#35c79f" stroke-width="1.9"/><path d="M1550.4 234.9L1560.7 243" stroke="#e4c322" stroke-width="1.9"/><path d="M1571 226.8L1565.8 218.7" stroke="#139a70" stroke-width="2.2"/><path d="M1565.8 218.7L1560.7 210.6" stroke="#cfa311" stroke-width="2.2"/><path d="M1571 226.8L1581.2 218.7" stroke="#35c79f" stroke-width="1.9"/><path d="M1581.2 218.7L1591.5 210.6" stroke="#e4c322" stroke-width="1.9"/><path d="M1571 226.8L1565.8 234.9" stroke="#139a70" stroke-width="2.2"/><path d="M1565.8 234.9L1560.7 243" stroke="#cfa311" stroke-width="2.2"/><path d="M1571 226.8L1581.2 234.9" stroke="#35c79f" stroke-width="1.9"/><path d="M1581.2 234.9L1591.5 243" stroke="#e4c322" stroke-width="1.9"/><path d="M1601.8 226.8L1596.6 218.7" stroke="#139a70" stroke-width="2.2"/><path d="M1596.6 218.7L1591.5 210.6" stroke="#cfa311" stroke-width="2.2"/><path d="M1601.8 226.8L1612 218.7" stroke="#35c79f" stroke-width="1.9"/><path d="M1612 218.7L1622.3 210.6" stroke="#e4c322" stroke-width="1.9"/><path d="M1601.8 226.8L1596.6 234.9" stroke="#139a70" stroke-width="2.2"/><path d="M1596.6 234.9L1591.5 243" stroke="#cfa311" stroke-width="2.2"/><path d="M1601.8 226.8L1612 234.9" stroke="#35c79f" stroke-width="1.9"/><path d="M1612 234.9L1622.3 243" stroke="#e4c322" stroke-width="1.9"/></g><circle cx="1437.5" cy="210.6" r="4.3" fill="url(#se)"/><circle cx="1437.5" cy="243" r="4.3" fill="url(#se)"/><circle cx="1468.3" cy="210.6" r="4.3" fill="url(#se)"/><circle cx="1468.3" cy="243" r="4.3" fill="url(#se)"/><circle cx="1499.1" cy="210.6" r="4.3" fill="url(#se)"/><circle cx="1499.1" cy="243" r="4.3" fill="url(#se)"/><circle cx="1529.9" cy="210.6" r="4.3" fill="url(#se)"/><circle cx="1529.9" cy="243" r="4.3" fill="url(#se)"/><circle cx="1560.7" cy="210.6" r="4.3" fill="url(#se)"/><circle cx="1560.7" cy="243" r="4.3" fill="url(#se)"/><circle cx="1591.5" cy="210.6" r="4.3" fill="url(#se)"/><circle cx="1591.5" cy="243" r="4.3" fill="url(#se)"/><circle cx="1622.3" cy="210.6" r="4.3" fill="url(#se)"/><circle cx="1622.3" cy="243" r="4.3" fill="url(#se)"/><circle cx="1447.8" cy="226.8" r="5.9" fill="url(#nb)"/><circle cx="1478.6" cy="226.8" r="5.9" fill="url(#nb)"/><circle cx="1509.4" cy="226.8" r="5.9" fill="url(#nb)"/><circle cx="1540.2" cy="226.8" r="5.9" fill="url(#nb)"/><circle cx="1571" cy="226.8" r="5.9" fill="url(#nb)"/><circle cx="1601.8" cy="226.8" r="5.9" fill="url(#nb)"/>
<g fill="none" stroke-linecap="butt"><path d="M1437.1 288.5L1431.9 280.4" stroke="#139a70" stroke-width="2.2"/><path d="M1431.9 280.4L1426.8 272.3" stroke="#cfa311" stroke-width="2.2"/><path d="M1437.1 288.5L1447.3 280.4" stroke="#35c79f" stroke-width="1.9"/><path d="M1447.3 280.4L1457.6 272.3" stroke="#e4c322" stroke-width="1.9"/><path d="M1437.1 288.5L1431.9 296.6" stroke="#139a70" stroke-width="2.2"/><path d="M1431.9 296.6L1426.8 304.7" stroke="#cfa311" stroke-width="2.2"/><path d="M1437.1 288.5L1447.3 296.6" stroke="#35c79f" stroke-width="1.9"/><path d="M1447.3 296.6L1457.6 304.7" stroke="#e4c322" stroke-width="1.9"/><path d="M1467.9 288.5L1462.7 280.4" stroke="#139a70" stroke-width="2.2"/><path d="M1462.7 280.4L1457.6 272.3" stroke="#cfa311" stroke-width="2.2"/><path d="M1467.9 288.5L1478.1 280.4" stroke="#35c79f" stroke-width="1.9"/><path d="M1478.1 280.4L1488.4 272.3" stroke="#e4c322" stroke-width="1.9"/><path d="M1467.9 288.5L1462.7 296.6" stroke="#139a70" stroke-width="2.2"/><path d="M1462.7 296.6L1457.6 304.7" stroke="#cfa311" stroke-width="2.2"/><path d="M1467.9 288.5L1478.1 296.6" stroke="#35c79f" stroke-width="1.9"/><path d="M1478.1 296.6L1488.4 304.7" stroke="#e4c322" stroke-width="1.9"/><path d="M1498.7 288.5L1493.5 280.4" stroke="#139a70" stroke-width="2.2"/><path d="M1493.5 280.4L1488.4 272.3" stroke="#cfa311" stroke-width="2.2"/><path d="M1498.7 288.5L1508.9 280.4" stroke="#35c79f" stroke-width="1.9"/><path d="M1508.9 280.4L1519.2 272.3" stroke="#e4c322" stroke-width="1.9"/><path d="M1498.7 288.5L1493.5 296.6" stroke="#139a70" stroke-width="2.2"/><path d="M1493.5 296.6L1488.4 304.7" stroke="#cfa311" stroke-width="2.2"/><path d="M1498.7 288.5L1508.9 296.6" stroke="#35c79f" stroke-width="1.9"/><path d="M1508.9 296.6L1519.2 304.7" stroke="#e4c322" stroke-width="1.9"/><path d="M1529.5 288.5L1524.3 280.4" stroke="#139a70" stroke-width="2.2"/><path d="M1524.3 280.4L1519.2 272.3" stroke="#cfa311" stroke-width="2.2"/><path d="M1529.5 288.5L1539.7 280.4" stroke="#35c79f" stroke-width="1.9"/><path d="M1539.7 280.4L1550 272.3" stroke="#e4c322" stroke-width="1.9"/><path d="M1529.5 288.5L1524.3 296.6" stroke="#139a70" stroke-width="2.2"/><path d="M1524.3 296.6L1519.2 304.7" stroke="#cfa311" stroke-width="2.2"/><path d="M1529.5 288.5L1539.7 296.6" stroke="#35c79f" stroke-width="1.9"/><path d="M1539.7 296.6L1550 304.7" stroke="#e4c322" stroke-width="1.9"/><path d="M1560.3 288.5L1555.1 280.4" stroke="#139a70" stroke-width="2.2"/><path d="M1555.1 280.4L1550 272.3" stroke="#cfa311" stroke-width="2.2"/><path d="M1560.3 288.5L1570.5 280.4" stroke="#35c79f" stroke-width="1.9"/><path d="M1570.5 280.4L1580.8 272.3" stroke="#e4c322" stroke-width="1.9"/><path d="M1560.3 288.5L1555.1 296.6" stroke="#139a70" stroke-width="2.2"/><path d="M1555.1 296.6L1550 304.7" stroke="#cfa311" stroke-width="2.2"/><path d="M1560.3 288.5L1570.5 296.6" stroke="#35c79f" stroke-width="1.9"/><path d="M1570.5 296.6L1580.8 304.7" stroke="#e4c322" stroke-width="1.9"/><path d="M1591.1 288.5L1585.9 280.4" stroke="#139a70" stroke-width="2.2"/><path d="M1585.9 280.4L1580.8 272.3" stroke="#cfa311" stroke-width="2.2"/><path d="M1591.1 288.5L1601.3 280.4" stroke="#35c79f" stroke-width="1.9"/><path d="M1601.3 280.4L1611.6 272.3" stroke="#e4c322" stroke-width="1.9"/><path d="M1591.1 288.5L1585.9 296.6" stroke="#139a70" stroke-width="2.2"/><path d="M1585.9 296.6L1580.8 304.7" stroke="#cfa311" stroke-width="2.2"/><path d="M1591.1 288.5L1601.3 296.6" stroke="#35c79f" stroke-width="1.9"/><path d="M1601.3 296.6L1611.6 304.7" stroke="#e4c322" stroke-width="1.9"/></g><circle cx="1426.8" cy="272.3" r="4.3" fill="url(#se)"/><circle cx="1426.8" cy="304.7" r="4.3" fill="url(#se)"/><circle cx="1457.6" cy="272.3" r="4.3" fill="url(#se)"/><circle cx="1457.6" cy="304.7" r="4.3" fill="url(#se)"/><circle cx="1488.4" cy="272.3" r="4.3" fill="url(#se)"/><circle cx="1488.4" cy="304.7" r="4.3" fill="url(#se)"/><circle cx="1519.2" cy="272.3" r="4.3" fill="url(#se)"/><circle cx="1519.2" cy="304.7" r="4.3" fill="url(#se)"/><circle cx="1550" cy="272.3" r="4.3" fill="url(#se)"/><circle cx="1550" cy="304.7" r="4.3" fill="url(#se)"/><circle cx="1580.8" cy="272.3" r="4.3" fill="url(#se)"/><circle cx="1580.8" cy="304.7" r="4.3" fill="url(#se)"/><circle cx="1611.6" cy="272.3" r="4.3" fill="url(#se)"/><circle cx="1611.6" cy="304.7" r="4.3" fill="url(#se)"/><circle cx="1437.1" cy="288.5" r="5.9" fill="url(#nb)"/><circle cx="1467.9" cy="288.5" r="5.9" fill="url(#nb)"/><circle cx="1498.7" cy="288.5" r="5.9" fill="url(#nb)"/><circle cx="1529.5" cy="288.5" r="5.9" fill="url(#nb)"/><circle cx="1560.3" cy="288.5" r="5.9" fill="url(#nb)"/><circle cx="1591.1" cy="288.5" r="5.9" fill="url(#nb)"/>
<g fill="none" stroke-linecap="butt"><path d="M1468.5 353.9L1458.3 345.8" stroke="#35c79f" stroke-width="1.9"/><path d="M1458.3 345.8L1448 337.7" stroke="#e4c322" stroke-width="1.9"/><path d="M1468.5 353.9L1473.7 345.8" stroke="#139a70" stroke-width="2.2"/><path d="M1473.7 345.8L1478.8 337.7" stroke="#cfa311" stroke-width="2.2"/><path d="M1468.5 353.9L1458.3 362" stroke="#35c79f" stroke-width="1.9"/><path d="M1458.3 362L1448 370.1" stroke="#e4c322" stroke-width="1.9"/><path d="M1468.5 353.9L1473.7 362" stroke="#139a70" stroke-width="2.2"/><path d="M1473.7 362L1478.8 370.1" stroke="#cfa311" stroke-width="2.2"/><path d="M1499.3 353.9L1489.1 345.8" stroke="#35c79f" stroke-width="1.9"/><path d="M1489.1 345.8L1478.8 337.7" stroke="#e4c322" stroke-width="1.9"/><path d="M1499.3 353.9L1504.5 345.8" stroke="#139a70" stroke-width="2.2"/><path d="M1504.5 345.8L1509.6 337.7" stroke="#cfa311" stroke-width="2.2"/><path d="M1499.3 353.9L1489.1 362" stroke="#35c79f" stroke-width="1.9"/><path d="M1489.1 362L1478.8 370.1" stroke="#e4c322" stroke-width="1.9"/><path d="M1499.3 353.9L1504.5 362" stroke="#139a70" stroke-width="2.2"/><path d="M1504.5 362L1509.6 370.1" stroke="#cfa311" stroke-width="2.2"/><path d="M1530.1 353.9L1519.9 345.8" stroke="#35c79f" stroke-width="1.9"/><path d="M1519.9 345.8L1509.6 337.7" stroke="#e4c322" stroke-width="1.9"/><path d="M1530.1 353.9L1535.3 345.8" stroke="#139a70" stroke-width="2.2"/><path d="M1535.3 345.8L1540.4 337.7" stroke="#cfa311" stroke-width="2.2"/><path d="M1530.1 353.9L1519.9 362" stroke="#35c79f" stroke-width="1.9"/><path d="M1519.9 362L1509.6 370.1" stroke="#e4c322" stroke-width="1.9"/><path d="M1530.1 353.9L1535.3 362" stroke="#139a70" stroke-width="2.2"/><path d="M1535.3 362L1540.4 370.1" stroke="#cfa311" stroke-width="2.2"/><path d="M1560.9 353.9L1550.7 345.8" stroke="#35c79f" stroke-width="1.9"/><path d="M1550.7 345.8L1540.4 337.7" stroke="#e4c322" stroke-width="1.9"/><path d="M1560.9 353.9L1566.1 345.8" stroke="#139a70" stroke-width="2.2"/><path d="M1566.1 345.8L1571.2 337.7" stroke="#cfa311" stroke-width="2.2"/><path d="M1560.9 353.9L1550.7 362" stroke="#35c79f" stroke-width="1.9"/><path d="M1550.7 362L1540.4 370.1" stroke="#e4c322" stroke-width="1.9"/><path d="M1560.9 353.9L1566.1 362" stroke="#139a70" stroke-width="2.2"/><path d="M1566.1 362L1571.2 370.1" stroke="#cfa311" stroke-width="2.2"/><path d="M1591.7 353.9L1581.5 345.8" stroke="#35c79f" stroke-width="1.9"/><path d="M1581.5 345.8L1571.2 337.7" stroke="#e4c322" stroke-width="1.9"/><path d="M1591.7 353.9L1596.9 345.8" stroke="#139a70" stroke-width="2.2"/><path d="M1596.9 345.8L1602 337.7" stroke="#cfa311" stroke-width="2.2"/><path d="M1591.7 353.9L1581.5 362" stroke="#35c79f" stroke-width="1.9"/><path d="M1581.5 362L1571.2 370.1" stroke="#e4c322" stroke-width="1.9"/><path d="M1591.7 353.9L1596.9 362" stroke="#139a70" stroke-width="2.2"/><path d="M1596.9 362L1602 370.1" stroke="#cfa311" stroke-width="2.2"/><path d="M1622.5 353.9L1612.3 345.8" stroke="#35c79f" stroke-width="1.9"/><path d="M1612.3 345.8L1602 337.7" stroke="#e4c322" stroke-width="1.9"/><path d="M1622.5 353.9L1627.7 345.8" stroke="#139a70" stroke-width="2.2"/><path d="M1627.7 345.8L1632.8 337.7" stroke="#cfa311" stroke-width="2.2"/><path d="M1622.5 353.9L1612.3 362" stroke="#35c79f" stroke-width="1.9"/><path d="M1612.3 362L1602 370.1" stroke="#e4c322" stroke-width="1.9"/><path d="M1622.5 353.9L1627.7 362" stroke="#139a70" stroke-width="2.2"/><path d="M1627.7 362L1632.8 370.1" stroke="#cfa311" stroke-width="2.2"/></g><circle cx="1448" cy="337.7" r="4.3" fill="url(#se)"/><circle cx="1448" cy="370.1" r="4.3" fill="url(#se)"/><circle cx="1478.8" cy="337.7" r="4.3" fill="url(#se)"/><circle cx="1478.8" cy="370.1" r="4.3" fill="url(#se)"/><circle cx="1509.6" cy="337.7" r="4.3" fill="url(#se)"/><circle cx="1509.6" cy="370.1" r="4.3" fill="url(#se)"/><circle cx="1540.4" cy="337.7" r="4.3" fill="url(#se)"/><circle cx="1540.4" cy="370.1" r="4.3" fill="url(#se)"/><circle cx="1571.2" cy="337.7" r="4.3" fill="url(#se)"/><circle cx="1571.2" cy="370.1" r="4.3" fill="url(#se)"/><circle cx="1602" cy="337.7" r="4.3" fill="url(#se)"/><circle cx="1602" cy="370.1" r="4.3" fill="url(#se)"/><circle cx="1632.8" cy="337.7" r="4.3" fill="url(#se)"/><circle cx="1632.8" cy="370.1" r="4.3" fill="url(#se)"/><circle cx="1468.5" cy="353.9" r="5.9" fill="url(#nb)"/><circle cx="1499.3" cy="353.9" r="5.9" fill="url(#nb)"/><circle cx="1530.1" cy="353.9" r="5.9" fill="url(#nb)"/><circle cx="1560.9" cy="353.9" r="5.9" fill="url(#nb)"/><circle cx="1591.7" cy="353.9" r="5.9" fill="url(#nb)"/><circle cx="1622.5" cy="353.9" r="5.9" fill="url(#nb)"/>
<g fill="none" stroke-linecap="butt"><path d="M1457.7 419.1L1447.5 411" stroke="#35c79f" stroke-width="1.9"/><path d="M1447.5 411L1437.2 402.9" stroke="#e4c322" stroke-width="1.9"/><path d="M1457.7 419.1L1462.9 411" stroke="#139a70" stroke-width="2.2"/><path d="M1462.9 411L1468 402.9" stroke="#cfa311" stroke-width="2.2"/><path d="M1457.7 419.1L1447.5 427.2" stroke="#35c79f" stroke-width="1.9"/><path d="M1447.5 427.2L1437.2 435.3" stroke="#e4c322" stroke-width="1.9"/><path d="M1457.7 419.1L1462.9 427.2" stroke="#139a70" stroke-width="2.2"/><path d="M1462.9 427.2L1468 435.3" stroke="#cfa311" stroke-width="2.2"/><path d="M1488.5 419.1L1478.3 411" stroke="#35c79f" stroke-width="1.9"/><path d="M1478.3 411L1468 402.9" stroke="#e4c322" stroke-width="1.9"/><path d="M1488.5 419.1L1493.7 411" stroke="#139a70" stroke-width="2.2"/><path d="M1493.7 411L1498.8 402.9" stroke="#cfa311" stroke-width="2.2"/><path d="M1488.5 419.1L1478.3 427.2" stroke="#35c79f" stroke-width="1.9"/><path d="M1478.3 427.2L1468 435.3" stroke="#e4c322" stroke-width="1.9"/><path d="M1488.5 419.1L1493.7 427.2" stroke="#139a70" stroke-width="2.2"/><path d="M1493.7 427.2L1498.8 435.3" stroke="#cfa311" stroke-width="2.2"/><path d="M1519.3 419.1L1509.1 411" stroke="#35c79f" stroke-width="1.9"/><path d="M1509.1 411L1498.8 402.9" stroke="#e4c322" stroke-width="1.9"/><path d="M1519.3 419.1L1524.5 411" stroke="#139a70" stroke-width="2.2"/><path d="M1524.5 411L1529.6 402.9" stroke="#cfa311" stroke-width="2.2"/><path d="M1519.3 419.1L1509.1 427.2" stroke="#35c79f" stroke-width="1.9"/><path d="M1509.1 427.2L1498.8 435.3" stroke="#e4c322" stroke-width="1.9"/><path d="M1519.3 419.1L1524.5 427.2" stroke="#139a70" stroke-width="2.2"/><path d="M1524.5 427.2L1529.6 435.3" stroke="#cfa311" stroke-width="2.2"/><path d="M1550.1 419.1L1539.9 411" stroke="#35c79f" stroke-width="1.9"/><path d="M1539.9 411L1529.6 402.9" stroke="#e4c322" stroke-width="1.9"/><path d="M1550.1 419.1L1555.3 411" stroke="#139a70" stroke-width="2.2"/><path d="M1555.3 411L1560.4 402.9" stroke="#cfa311" stroke-width="2.2"/><path d="M1550.1 419.1L1539.9 427.2" stroke="#35c79f" stroke-width="1.9"/><path d="M1539.9 427.2L1529.6 435.3" stroke="#e4c322" stroke-width="1.9"/><path d="M1550.1 419.1L1555.3 427.2" stroke="#139a70" stroke-width="2.2"/><path d="M1555.3 427.2L1560.4 435.3" stroke="#cfa311" stroke-width="2.2"/><path d="M1580.9 419.1L1570.7 411" stroke="#35c79f" stroke-width="1.9"/><path d="M1570.7 411L1560.4 402.9" stroke="#e4c322" stroke-width="1.9"/><path d="M1580.9 419.1L1586.1 411" stroke="#139a70" stroke-width="2.2"/><path d="M1586.1 411L1591.2 402.9" stroke="#cfa311" stroke-width="2.2"/><path d="M1580.9 419.1L1570.7 427.2" stroke="#35c79f" stroke-width="1.9"/><path d="M1570.7 427.2L1560.4 435.3" stroke="#e4c322" stroke-width="1.9"/><path d="M1580.9 419.1L1586.1 427.2" stroke="#139a70" stroke-width="2.2"/><path d="M1586.1 427.2L1591.2 435.3" stroke="#cfa311" stroke-width="2.2"/><path d="M1611.7 419.1L1601.5 411" stroke="#35c79f" stroke-width="1.9"/><path d="M1601.5 411L1591.2 402.9" stroke="#e4c322" stroke-width="1.9"/><path d="M1611.7 419.1L1616.9 411" stroke="#139a70" stroke-width="2.2"/><path d="M1616.9 411L1622 402.9" stroke="#cfa311" stroke-width="2.2"/><path d="M1611.7 419.1L1601.5 427.2" stroke="#35c79f" stroke-width="1.9"/><path d="M1601.5 427.2L1591.2 435.3" stroke="#e4c322" stroke-width="1.9"/><path d="M1611.7 419.1L1616.9 427.2" stroke="#139a70" stroke-width="2.2"/><path d="M1616.9 427.2L1622 435.3" stroke="#cfa311" stroke-width="2.2"/></g><circle cx="1437.2" cy="402.9" r="4.3" fill="url(#se)"/><circle cx="1437.2" cy="435.3" r="4.3" fill="url(#se)"/><circle cx="1468" cy="402.9" r="4.3" fill="url(#se)"/><circle cx="1468" cy="435.3" r="4.3" fill="url(#se)"/><circle cx="1498.8" cy="402.9" r="4.3" fill="url(#se)"/><circle cx="1498.8" cy="435.3" r="4.3" fill="url(#se)"/><circle cx="1529.6" cy="402.9" r="4.3" fill="url(#se)"/><circle cx="1529.6" cy="435.3" r="4.3" fill="url(#se)"/><circle cx="1560.4" cy="402.9" r="4.3" fill="url(#se)"/><circle cx="1560.4" cy="435.3" r="4.3" fill="url(#se)"/><circle cx="1591.2" cy="402.9" r="4.3" fill="url(#se)"/><circle cx="1591.2" cy="435.3" r="4.3" fill="url(#se)"/><circle cx="1622" cy="402.9" r="4.3" fill="url(#se)"/><circle cx="1622" cy="435.3" r="4.3" fill="url(#se)"/><circle cx="1457.7" cy="419.1" r="5.9" fill="url(#nb)"/><circle cx="1488.5" cy="419.1" r="5.9" fill="url(#nb)"/><circle cx="1519.3" cy="419.1" r="5.9" fill="url(#nb)"/><circle cx="1550.1" cy="419.1" r="5.9" fill="url(#nb)"/><circle cx="1580.9" cy="419.1" r="5.9" fill="url(#nb)"/><circle cx="1611.7" cy="419.1" r="5.9" fill="url(#nb)"/>
<g fill="none" stroke-linecap="butt"><path d="M1447.6 480.7L1437.4 472.6" stroke="#35c79f" stroke-width="1.9"/><path d="M1437.4 472.6L1427.1 464.5" stroke="#e4c322" stroke-width="1.9"/><path d="M1447.6 480.7L1452.8 472.6" stroke="#139a70" stroke-width="2.2"/><path d="M1452.8 472.6L1457.9 464.5" stroke="#cfa311" stroke-width="2.2"/><path d="M1447.6 480.7L1437.4 488.8" stroke="#35c79f" stroke-width="1.9"/><path d="M1437.4 488.8L1427.1 496.9" stroke="#e4c322" stroke-width="1.9"/><path d="M1447.6 480.7L1452.8 488.8" stroke="#139a70" stroke-width="2.2"/><path d="M1452.8 488.8L1457.9 496.9" stroke="#cfa311" stroke-width="2.2"/><path d="M1478.4 480.7L1468.2 472.6" stroke="#35c79f" stroke-width="1.9"/><path d="M1468.2 472.6L1457.9 464.5" stroke="#e4c322" stroke-width="1.9"/><path d="M1478.4 480.7L1483.6 472.6" stroke="#139a70" stroke-width="2.2"/><path d="M1483.6 472.6L1488.7 464.5" stroke="#cfa311" stroke-width="2.2"/><path d="M1478.4 480.7L1468.2 488.8" stroke="#35c79f" stroke-width="1.9"/><path d="M1468.2 488.8L1457.9 496.9" stroke="#e4c322" stroke-width="1.9"/><path d="M1478.4 480.7L1483.6 488.8" stroke="#139a70" stroke-width="2.2"/><path d="M1483.6 488.8L1488.7 496.9" stroke="#cfa311" stroke-width="2.2"/><path d="M1509.2 480.7L1499 472.6" stroke="#35c79f" stroke-width="1.9"/><path d="M1499 472.6L1488.7 464.5" stroke="#e4c322" stroke-width="1.9"/><path d="M1509.2 480.7L1514.4 472.6" stroke="#139a70" stroke-width="2.2"/><path d="M1514.4 472.6L1519.5 464.5" stroke="#cfa311" stroke-width="2.2"/><path d="M1509.2 480.7L1499 488.8" stroke="#35c79f" stroke-width="1.9"/><path d="M1499 488.8L1488.7 496.9" stroke="#e4c322" stroke-width="1.9"/><path d="M1509.2 480.7L1514.4 488.8" stroke="#139a70" stroke-width="2.2"/><path d="M1514.4 488.8L1519.5 496.9" stroke="#cfa311" stroke-width="2.2"/><path d="M1540 480.7L1529.8 472.6" stroke="#35c79f" stroke-width="1.9"/><path d="M1529.8 472.6L1519.5 464.5" stroke="#e4c322" stroke-width="1.9"/><path d="M1540 480.7L1545.2 472.6" stroke="#139a70" stroke-width="2.2"/><path d="M1545.2 472.6L1550.3 464.5" stroke="#cfa311" stroke-width="2.2"/><path d="M1540 480.7L1529.8 488.8" stroke="#35c79f" stroke-width="1.9"/><path d="M1529.8 488.8L1519.5 496.9" stroke="#e4c322" stroke-width="1.9"/><path d="M1540 480.7L1545.2 488.8" stroke="#139a70" stroke-width="2.2"/><path d="M1545.2 488.8L1550.3 496.9" stroke="#cfa311" stroke-width="2.2"/><path d="M1570.8 480.7L1560.6 472.6" stroke="#35c79f" stroke-width="1.9"/><path d="M1560.6 472.6L1550.3 464.5" stroke="#e4c322" stroke-width="1.9"/><path d="M1570.8 480.7L1576 472.6" stroke="#139a70" stroke-width="2.2"/><path d="M1576 472.6L1581.1 464.5" stroke="#cfa311" stroke-width="2.2"/><path d="M1570.8 480.7L1560.6 488.8" stroke="#35c79f" stroke-width="1.9"/><path d="M1560.6 488.8L1550.3 496.9" stroke="#e4c322" stroke-width="1.9"/><path d="M1570.8 480.7L1576 488.8" stroke="#139a70" stroke-width="2.2"/><path d="M1576 488.8L1581.1 496.9" stroke="#cfa311" stroke-width="2.2"/><path d="M1601.6 480.7L1591.4 472.6" stroke="#35c79f" stroke-width="1.9"/><path d="M1591.4 472.6L1581.1 464.5" stroke="#e4c322" stroke-width="1.9"/><path d="M1601.6 480.7L1606.8 472.6" stroke="#139a70" stroke-width="2.2"/><path d="M1606.8 472.6L1611.9 464.5" stroke="#cfa311" stroke-width="2.2"/><path d="M1601.6 480.7L1591.4 488.8" stroke="#35c79f" stroke-width="1.9"/><path d="M1591.4 488.8L1581.1 496.9" stroke="#e4c322" stroke-width="1.9"/><path d="M1601.6 480.7L1606.8 488.8" stroke="#139a70" stroke-width="2.2"/><path d="M1606.8 488.8L1611.9 496.9" stroke="#cfa311" stroke-width="2.2"/></g><circle cx="1427.1" cy="464.5" r="4.3" fill="url(#se)"/><circle cx="1427.1" cy="496.9" r="4.3" fill="url(#se)"/><circle cx="1457.9" cy="464.5" r="4.3" fill="url(#se)"/><circle cx="1457.9" cy="496.9" r="4.3" fill="url(#se)"/><circle cx="1488.7" cy="464.5" r="4.3" fill="url(#se)"/><circle cx="1488.7" cy="496.9" r="4.3" fill="url(#se)"/><circle cx="1519.5" cy="464.5" r="4.3" fill="url(#se)"/><circle cx="1519.5" cy="496.9" r="4.3" fill="url(#se)"/><circle cx="1550.3" cy="464.5" r="4.3" fill="url(#se)"/><circle cx="1550.3" cy="496.9" r="4.3" fill="url(#se)"/><circle cx="1581.1" cy="464.5" r="4.3" fill="url(#se)"/><circle cx="1581.1" cy="496.9" r="4.3" fill="url(#se)"/><circle cx="1611.9" cy="464.5" r="4.3" fill="url(#se)"/><circle cx="1611.9" cy="496.9" r="4.3" fill="url(#se)"/><circle cx="1447.6" cy="480.7" r="5.9" fill="url(#nb)"/><circle cx="1478.4" cy="480.7" r="5.9" fill="url(#nb)"/><circle cx="1509.2" cy="480.7" r="5.9" fill="url(#nb)"/><circle cx="1540" cy="480.7" r="5.9" fill="url(#nb)"/><circle cx="1570.8" cy="480.7" r="5.9" fill="url(#nb)"/><circle cx="1601.6" cy="480.7" r="5.9" fill="url(#nb)"/>
<circle cx="1571.9" cy="257.1" r="6.4" fill="url(#ic)" stroke="url(#icr)" stroke-width="2.0"/>
<circle cx="1468.9" cy="321.7" r="6.4" fill="url(#ic)" stroke="url(#icr)" stroke-width="2.0"/>
<circle cx="1499.5" cy="321.7" r="6.4" fill="url(#ic)" stroke="url(#icr)" stroke-width="2.0"/>
<circle cx="1529.2" cy="321.7" r="6.4" fill="url(#ic)" stroke="url(#icr)" stroke-width="2.0"/>
<circle cx="1590.8" cy="321.7" r="6.4" fill="url(#ic)" stroke="url(#icr)" stroke-width="2.0"/>
<circle cx="1622.8" cy="321.7" r="6.4" fill="url(#ic)" stroke="url(#icr)" stroke-width="2.0"/>
<circle cx="1448.3" cy="448.5" r="6.4" fill="url(#ic)" stroke="url(#icr)" stroke-width="2.0"/>
<rect x="1681.8" y="130" width="243.6" height="384" fill="#fff" stroke="#000" stroke-width="4.1" stroke-linejoin="round"/>
<g filter="url(#bl)">
<rect x="1707" y="189.9" width="200.2" height="9" rx="3" fill="#fdb1b1"/>
<rect x="1702.2" y="253.3" width="198.7" height="9" rx="3" fill="#b5bff8"/>
<rect x="1702" y="317.9" width="201" height="9" rx="3" fill="#fdb1b1"/>
<rect x="1702" y="380.9" width="200.5" height="9" rx="3" fill="#fdb1b1"/>
<rect x="1702" y="444.7" width="198" height="9" rx="3" fill="#fdb1b1"/>
</g>
<g fill="none" stroke-linecap="butt"><path d="M1720.4 162.4L1710.2 154.3" stroke="#35c79f" stroke-width="1.9"/><path d="M1710.2 154.3L1699.9 146.2" stroke="#e4c322" stroke-width="1.9"/><path d="M1720.4 162.4L1725.6 154.3" stroke="#139a70" stroke-width="2.2"/><path d="M1725.6 154.3L1730.7 146.2" stroke="#cfa311" stroke-width="2.2"/><path d="M1720.4 162.4L1710.2 170.5" stroke="#35c79f" stroke-width="1.9"/><path d="M1710.2 170.5L1699.9 178.6" stroke="#e4c322" stroke-width="1.9"/><path d="M1720.4 162.4L1725.6 170.5" stroke="#139a70" stroke-width="2.2"/><path d="M1725.6 170.5L1730.7 178.6" stroke="#cfa311" stroke-width="2.2"/><path d="M1751.2 162.4L1741 154.3" stroke="#35c79f" stroke-width="1.9"/><path d="M1741 154.3L1730.7 146.2" stroke="#e4c322" stroke-width="1.9"/><path d="M1751.2 162.4L1756.4 154.3" stroke="#139a70" stroke-width="2.2"/><path d="M1756.4 154.3L1761.5 146.2" stroke="#cfa311" stroke-width="2.2"/><path d="M1751.2 162.4L1741 170.5" stroke="#35c79f" stroke-width="1.9"/><path d="M1741 170.5L1730.7 178.6" stroke="#e4c322" stroke-width="1.9"/><path d="M1751.2 162.4L1756.4 170.5" stroke="#139a70" stroke-width="2.2"/><path d="M1756.4 170.5L1761.5 178.6" stroke="#cfa311" stroke-width="2.2"/><path d="M1782 162.4L1771.8 154.3" stroke="#35c79f" stroke-width="1.9"/><path d="M1771.8 154.3L1761.5 146.2" stroke="#e4c322" stroke-width="1.9"/><path d="M1782 162.4L1787.2 154.3" stroke="#139a70" stroke-width="2.2"/><path d="M1787.2 154.3L1792.3 146.2" stroke="#cfa311" stroke-width="2.2"/><path d="M1782 162.4L1771.8 170.5" stroke="#35c79f" stroke-width="1.9"/><path d="M1771.8 170.5L1761.5 178.6" stroke="#e4c322" stroke-width="1.9"/><path d="M1782 162.4L1787.2 170.5" stroke="#139a70" stroke-width="2.2"/><path d="M1787.2 170.5L1792.3 178.6" stroke="#cfa311" stroke-width="2.2"/><path d="M1812.8 162.4L1802.6 154.3" stroke="#35c79f" stroke-width="1.9"/><path d="M1802.6 154.3L1792.3 146.2" stroke="#e4c322" stroke-width="1.9"/><path d="M1812.8 162.4L1818 154.3" stroke="#139a70" stroke-width="2.2"/><path d="M1818 154.3L1823.1 146.2" stroke="#cfa311" stroke-width="2.2"/><path d="M1812.8 162.4L1802.6 170.5" stroke="#35c79f" stroke-width="1.9"/><path d="M1802.6 170.5L1792.3 178.6" stroke="#e4c322" stroke-width="1.9"/><path d="M1812.8 162.4L1818 170.5" stroke="#139a70" stroke-width="2.2"/><path d="M1818 170.5L1823.1 178.6" stroke="#cfa311" stroke-width="2.2"/><path d="M1843.6 162.4L1833.4 154.3" stroke="#35c79f" stroke-width="1.9"/><path d="M1833.4 154.3L1823.1 146.2" stroke="#e4c322" stroke-width="1.9"/><path d="M1843.6 162.4L1848.8 154.3" stroke="#139a70" stroke-width="2.2"/><path d="M1848.8 154.3L1853.9 146.2" stroke="#cfa311" stroke-width="2.2"/><path d="M1843.6 162.4L1833.4 170.5" stroke="#35c79f" stroke-width="1.9"/><path d="M1833.4 170.5L1823.1 178.6" stroke="#e4c322" stroke-width="1.9"/><path d="M1843.6 162.4L1848.8 170.5" stroke="#139a70" stroke-width="2.2"/><path d="M1848.8 170.5L1853.9 178.6" stroke="#cfa311" stroke-width="2.2"/><path d="M1874.4 162.4L1864.2 154.3" stroke="#35c79f" stroke-width="1.9"/><path d="M1864.2 154.3L1853.9 146.2" stroke="#e4c322" stroke-width="1.9"/><path d="M1874.4 162.4L1879.6 154.3" stroke="#139a70" stroke-width="2.2"/><path d="M1879.6 154.3L1884.7 146.2" stroke="#cfa311" stroke-width="2.2"/><path d="M1874.4 162.4L1864.2 170.5" stroke="#35c79f" stroke-width="1.9"/><path d="M1864.2 170.5L1853.9 178.6" stroke="#e4c322" stroke-width="1.9"/><path d="M1874.4 162.4L1879.6 170.5" stroke="#139a70" stroke-width="2.2"/><path d="M1879.6 170.5L1884.7 178.6" stroke="#cfa311" stroke-width="2.2"/></g><circle cx="1699.9" cy="146.2" r="4.3" fill="url(#se)"/><circle cx="1699.9" cy="178.6" r="4.3" fill="url(#se)"/><circle cx="1730.7" cy="146.2" r="4.3" fill="url(#se)"/><circle cx="1730.7" cy="178.6" r="4.3" fill="url(#se)"/><circle cx="1761.5" cy="146.2" r="4.3" fill="url(#se)"/><circle cx="1761.5" cy="178.6" r="4.3" fill="url(#se)"/><circle cx="1792.3" cy="146.2" r="4.3" fill="url(#se)"/><circle cx="1792.3" cy="178.6" r="4.3" fill="url(#se)"/><circle cx="1823.1" cy="146.2" r="4.3" fill="url(#se)"/><circle cx="1823.1" cy="178.6" r="4.3" fill="url(#se)"/><circle cx="1853.9" cy="146.2" r="4.3" fill="url(#se)"/><circle cx="1853.9" cy="178.6" r="4.3" fill="url(#se)"/><circle cx="1884.7" cy="146.2" r="4.3" fill="url(#se)"/><circle cx="1884.7" cy="178.6" r="4.3" fill="url(#se)"/><circle cx="1720.4" cy="162.4" r="5.9" fill="url(#nb)"/><circle cx="1751.2" cy="162.4" r="5.9" fill="url(#nb)"/><circle cx="1782" cy="162.4" r="5.9" fill="url(#nb)"/><circle cx="1812.8" cy="162.4" r="5.9" fill="url(#nb)"/><circle cx="1843.6" cy="162.4" r="5.9" fill="url(#nb)"/><circle cx="1874.4" cy="162.4" r="5.9" fill="url(#nb)"/>
<g fill="none" stroke-linecap="butt"><path d="M1720.3 226.8L1715.1 218.7" stroke="#139a70" stroke-width="2.2"/><path d="M1715.1 218.7L1710 210.6" stroke="#cfa311" stroke-width="2.2"/><path d="M1720.3 226.8L1730.5 218.7" stroke="#35c79f" stroke-width="1.9"/><path d="M1730.5 218.7L1740.8 210.6" stroke="#e4c322" stroke-width="1.9"/><path d="M1720.3 226.8L1715.1 234.9" stroke="#139a70" stroke-width="2.2"/><path d="M1715.1 234.9L1710 243" stroke="#cfa311" stroke-width="2.2"/><path d="M1720.3 226.8L1730.5 234.9" stroke="#35c79f" stroke-width="1.9"/><path d="M1730.5 234.9L1740.8 243" stroke="#e4c322" stroke-width="1.9"/><path d="M1751.1 226.8L1745.9 218.7" stroke="#139a70" stroke-width="2.2"/><path d="M1745.9 218.7L1740.8 210.6" stroke="#cfa311" stroke-width="2.2"/><path d="M1751.1 226.8L1761.3 218.7" stroke="#35c79f" stroke-width="1.9"/><path d="M1761.3 218.7L1771.6 210.6" stroke="#e4c322" stroke-width="1.9"/><path d="M1751.1 226.8L1745.9 234.9" stroke="#139a70" stroke-width="2.2"/><path d="M1745.9 234.9L1740.8 243" stroke="#cfa311" stroke-width="2.2"/><path d="M1751.1 226.8L1761.3 234.9" stroke="#35c79f" stroke-width="1.9"/><path d="M1761.3 234.9L1771.6 243" stroke="#e4c322" stroke-width="1.9"/><path d="M1781.9 226.8L1776.7 218.7" stroke="#139a70" stroke-width="2.2"/><path d="M1776.7 218.7L1771.6 210.6" stroke="#cfa311" stroke-width="2.2"/><path d="M1781.9 226.8L1792.1 218.7" stroke="#35c79f" stroke-width="1.9"/><path d="M1792.1 218.7L1802.4 210.6" stroke="#e4c322" stroke-width="1.9"/><path d="M1781.9 226.8L1776.7 234.9" stroke="#139a70" stroke-width="2.2"/><path d="M1776.7 234.9L1771.6 243" stroke="#cfa311" stroke-width="2.2"/><path d="M1781.9 226.8L1792.1 234.9" stroke="#35c79f" stroke-width="1.9"/><path d="M1792.1 234.9L1802.4 243" stroke="#e4c322" stroke-width="1.9"/><path d="M1812.7 226.8L1807.5 218.7" stroke="#139a70" stroke-width="2.2"/><path d="M1807.5 218.7L1802.4 210.6" stroke="#cfa311" stroke-width="2.2"/><path d="M1812.7 226.8L1822.9 218.7" stroke="#35c79f" stroke-width="1.9"/><path d="M1822.9 218.7L1833.2 210.6" stroke="#e4c322" stroke-width="1.9"/><path d="M1812.7 226.8L1807.5 234.9" stroke="#139a70" stroke-width="2.2"/><path d="M1807.5 234.9L1802.4 243" stroke="#cfa311" stroke-width="2.2"/><path d="M1812.7 226.8L1822.9 234.9" stroke="#35c79f" stroke-width="1.9"/><path d="M1822.9 234.9L1833.2 243" stroke="#e4c322" stroke-width="1.9"/><path d="M1843.5 226.8L1838.3 218.7" stroke="#139a70" stroke-width="2.2"/><path d="M1838.3 218.7L1833.2 210.6" stroke="#cfa311" stroke-width="2.2"/><path d="M1843.5 226.8L1853.7 218.7" stroke="#35c79f" stroke-width="1.9"/><path d="M1853.7 218.7L1864 210.6" stroke="#e4c322" stroke-width="1.9"/><path d="M1843.5 226.8L1838.3 234.9" stroke="#139a70" stroke-width="2.2"/><path d="M1838.3 234.9L1833.2 243" stroke="#cfa311" stroke-width="2.2"/><path d="M1843.5 226.8L1853.7 234.9" stroke="#35c79f" stroke-width="1.9"/><path d="M1853.7 234.9L1864 243" stroke="#e4c322" stroke-width="1.9"/><path d="M1874.3 226.8L1869.1 218.7" stroke="#139a70" stroke-width="2.2"/><path d="M1869.1 218.7L1864 210.6" stroke="#cfa311" stroke-width="2.2"/><path d="M1874.3 226.8L1884.5 218.7" stroke="#35c79f" stroke-width="1.9"/><path d="M1884.5 218.7L1894.8 210.6" stroke="#e4c322" stroke-width="1.9"/><path d="M1874.3 226.8L1869.1 234.9" stroke="#139a70" stroke-width="2.2"/><path d="M1869.1 234.9L1864 243" stroke="#cfa311" stroke-width="2.2"/><path d="M1874.3 226.8L1884.5 234.9" stroke="#35c79f" stroke-width="1.9"/><path d="M1884.5 234.9L1894.8 243" stroke="#e4c322" stroke-width="1.9"/></g><circle cx="1710" cy="210.6" r="4.3" fill="url(#se)"/><circle cx="1710" cy="243" r="4.3" fill="url(#se)"/><circle cx="1740.8" cy="210.6" r="4.3" fill="url(#se)"/><circle cx="1740.8" cy="243" r="4.3" fill="url(#se)"/><circle cx="1771.6" cy="210.6" r="4.3" fill="url(#se)"/><circle cx="1771.6" cy="243" r="4.3" fill="url(#se)"/><circle cx="1802.4" cy="210.6" r="4.3" fill="url(#se)"/><circle cx="1802.4" cy="243" r="4.3" fill="url(#se)"/><circle cx="1833.2" cy="210.6" r="4.3" fill="url(#se)"/><circle cx="1833.2" cy="243" r="4.3" fill="url(#se)"/><circle cx="1864" cy="210.6" r="4.3" fill="url(#se)"/><circle cx="1864" cy="243" r="4.3" fill="url(#se)"/><circle cx="1894.8" cy="210.6" r="4.3" fill="url(#se)"/><circle cx="1894.8" cy="243" r="4.3" fill="url(#se)"/><circle cx="1720.3" cy="226.8" r="5.9" fill="url(#nb)"/><circle cx="1751.1" cy="226.8" r="5.9" fill="url(#nb)"/><circle cx="1781.9" cy="226.8" r="5.9" fill="url(#nb)"/><circle cx="1812.7" cy="226.8" r="5.9" fill="url(#nb)"/><circle cx="1843.5" cy="226.8" r="5.9" fill="url(#nb)"/><circle cx="1874.3" cy="226.8" r="5.9" fill="url(#nb)"/>
<g fill="none" stroke-linecap="butt"><path d="M1709.4 288.5L1704.2 280.4" stroke="#139a70" stroke-width="2.2"/><path d="M1704.2 280.4L1699.1 272.3" stroke="#cfa311" stroke-width="2.2"/><path d="M1709.4 288.5L1719.6 280.4" stroke="#35c79f" stroke-width="1.9"/><path d="M1719.6 280.4L1729.9 272.3" stroke="#e4c322" stroke-width="1.9"/><path d="M1709.4 288.5L1704.2 296.6" stroke="#139a70" stroke-width="2.2"/><path d="M1704.2 296.6L1699.1 304.7" stroke="#cfa311" stroke-width="2.2"/><path d="M1709.4 288.5L1719.6 296.6" stroke="#35c79f" stroke-width="1.9"/><path d="M1719.6 296.6L1729.9 304.7" stroke="#e4c322" stroke-width="1.9"/><path d="M1740.2 288.5L1735 280.4" stroke="#139a70" stroke-width="2.2"/><path d="M1735 280.4L1729.9 272.3" stroke="#cfa311" stroke-width="2.2"/><path d="M1740.2 288.5L1750.4 280.4" stroke="#35c79f" stroke-width="1.9"/><path d="M1750.4 280.4L1760.7 272.3" stroke="#e4c322" stroke-width="1.9"/><path d="M1740.2 288.5L1735 296.6" stroke="#139a70" stroke-width="2.2"/><path d="M1735 296.6L1729.9 304.7" stroke="#cfa311" stroke-width="2.2"/><path d="M1740.2 288.5L1750.4 296.6" stroke="#35c79f" stroke-width="1.9"/><path d="M1750.4 296.6L1760.7 304.7" stroke="#e4c322" stroke-width="1.9"/><path d="M1771 288.5L1765.8 280.4" stroke="#139a70" stroke-width="2.2"/><path d="M1765.8 280.4L1760.7 272.3" stroke="#cfa311" stroke-width="2.2"/><path d="M1771 288.5L1781.2 280.4" stroke="#35c79f" stroke-width="1.9"/><path d="M1781.2 280.4L1791.5 272.3" stroke="#e4c322" stroke-width="1.9"/><path d="M1771 288.5L1765.8 296.6" stroke="#139a70" stroke-width="2.2"/><path d="M1765.8 296.6L1760.7 304.7" stroke="#cfa311" stroke-width="2.2"/><path d="M1771 288.5L1781.2 296.6" stroke="#35c79f" stroke-width="1.9"/><path d="M1781.2 296.6L1791.5 304.7" stroke="#e4c322" stroke-width="1.9"/><path d="M1801.8 288.5L1796.6 280.4" stroke="#139a70" stroke-width="2.2"/><path d="M1796.6 280.4L1791.5 272.3" stroke="#cfa311" stroke-width="2.2"/><path d="M1801.8 288.5L1812 280.4" stroke="#35c79f" stroke-width="1.9"/><path d="M1812 280.4L1822.3 272.3" stroke="#e4c322" stroke-width="1.9"/><path d="M1801.8 288.5L1796.6 296.6" stroke="#139a70" stroke-width="2.2"/><path d="M1796.6 296.6L1791.5 304.7" stroke="#cfa311" stroke-width="2.2"/><path d="M1801.8 288.5L1812 296.6" stroke="#35c79f" stroke-width="1.9"/><path d="M1812 296.6L1822.3 304.7" stroke="#e4c322" stroke-width="1.9"/><path d="M1832.6 288.5L1827.4 280.4" stroke="#139a70" stroke-width="2.2"/><path d="M1827.4 280.4L1822.3 272.3" stroke="#cfa311" stroke-width="2.2"/><path d="M1832.6 288.5L1842.8 280.4" stroke="#35c79f" stroke-width="1.9"/><path d="M1842.8 280.4L1853.1 272.3" stroke="#e4c322" stroke-width="1.9"/><path d="M1832.6 288.5L1827.4 296.6" stroke="#139a70" stroke-width="2.2"/><path d="M1827.4 296.6L1822.3 304.7" stroke="#cfa311" stroke-width="2.2"/><path d="M1832.6 288.5L1842.8 296.6" stroke="#35c79f" stroke-width="1.9"/><path d="M1842.8 296.6L1853.1 304.7" stroke="#e4c322" stroke-width="1.9"/><path d="M1863.4 288.5L1858.2 280.4" stroke="#139a70" stroke-width="2.2"/><path d="M1858.2 280.4L1853.1 272.3" stroke="#cfa311" stroke-width="2.2"/><path d="M1863.4 288.5L1873.6 280.4" stroke="#35c79f" stroke-width="1.9"/><path d="M1873.6 280.4L1883.9 272.3" stroke="#e4c322" stroke-width="1.9"/><path d="M1863.4 288.5L1858.2 296.6" stroke="#139a70" stroke-width="2.2"/><path d="M1858.2 296.6L1853.1 304.7" stroke="#cfa311" stroke-width="2.2"/><path d="M1863.4 288.5L1873.6 296.6" stroke="#35c79f" stroke-width="1.9"/><path d="M1873.6 296.6L1883.9 304.7" stroke="#e4c322" stroke-width="1.9"/></g><circle cx="1699.1" cy="272.3" r="4.3" fill="url(#se)"/><circle cx="1699.1" cy="304.7" r="4.3" fill="url(#se)"/><circle cx="1729.9" cy="272.3" r="4.3" fill="url(#se)"/><circle cx="1729.9" cy="304.7" r="4.3" fill="url(#se)"/><circle cx="1760.7" cy="272.3" r="4.3" fill="url(#se)"/><circle cx="1760.7" cy="304.7" r="4.3" fill="url(#se)"/><circle cx="1791.5" cy="272.3" r="4.3" fill="url(#se)"/><circle cx="1791.5" cy="304.7" r="4.3" fill="url(#se)"/><circle cx="1822.3" cy="272.3" r="4.3" fill="url(#se)"/><circle cx="1822.3" cy="304.7" r="4.3" fill="url(#se)"/><circle cx="1853.1" cy="272.3" r="4.3" fill="url(#se)"/><circle cx="1853.1" cy="304.7" r="4.3" fill="url(#se)"/><circle cx="1883.9" cy="272.3" r="4.3" fill="url(#se)"/><circle cx="1883.9" cy="304.7" r="4.3" fill="url(#se)"/><circle cx="1709.4" cy="288.5" r="5.9" fill="url(#nb)"/><circle cx="1740.2" cy="288.5" r="5.9" fill="url(#nb)"/><circle cx="1771" cy="288.5" r="5.9" fill="url(#nb)"/><circle cx="1801.8" cy="288.5" r="5.9" fill="url(#nb)"/><circle cx="1832.6" cy="288.5" r="5.9" fill="url(#nb)"/><circle cx="1863.4" cy="288.5" r="5.9" fill="url(#nb)"/>
<g fill="none" stroke-linecap="butt"><path d="M1741.2 353.9L1731 345.8" stroke="#35c79f" stroke-width="1.9"/><path d="M1731 345.8L1720.7 337.7" stroke="#e4c322" stroke-width="1.9"/><path d="M1741.2 353.9L1746.4 345.8" stroke="#139a70" stroke-width="2.2"/><path d="M1746.4 345.8L1751.5 337.7" stroke="#cfa311" stroke-width="2.2"/><path d="M1741.2 353.9L1731 362" stroke="#35c79f" stroke-width="1.9"/><path d="M1731 362L1720.7 370.1" stroke="#e4c322" stroke-width="1.9"/><path d="M1741.2 353.9L1746.4 362" stroke="#139a70" stroke-width="2.2"/><path d="M1746.4 362L1751.5 370.1" stroke="#cfa311" stroke-width="2.2"/><path d="M1772 353.9L1761.8 345.8" stroke="#35c79f" stroke-width="1.9"/><path d="M1761.8 345.8L1751.5 337.7" stroke="#e4c322" stroke-width="1.9"/><path d="M1772 353.9L1777.2 345.8" stroke="#139a70" stroke-width="2.2"/><path d="M1777.2 345.8L1782.3 337.7" stroke="#cfa311" stroke-width="2.2"/><path d="M1772 353.9L1761.8 362" stroke="#35c79f" stroke-width="1.9"/><path d="M1761.8 362L1751.5 370.1" stroke="#e4c322" stroke-width="1.9"/><path d="M1772 353.9L1777.2 362" stroke="#139a70" stroke-width="2.2"/><path d="M1777.2 362L1782.3 370.1" stroke="#cfa311" stroke-width="2.2"/><path d="M1802.8 353.9L1792.6 345.8" stroke="#35c79f" stroke-width="1.9"/><path d="M1792.6 345.8L1782.3 337.7" stroke="#e4c322" stroke-width="1.9"/><path d="M1802.8 353.9L1808 345.8" stroke="#139a70" stroke-width="2.2"/><path d="M1808 345.8L1813.1 337.7" stroke="#cfa311" stroke-width="2.2"/><path d="M1802.8 353.9L1792.6 362" stroke="#35c79f" stroke-width="1.9"/><path d="M1792.6 362L1782.3 370.1" stroke="#e4c322" stroke-width="1.9"/><path d="M1802.8 353.9L1808 362" stroke="#139a70" stroke-width="2.2"/><path d="M1808 362L1813.1 370.1" stroke="#cfa311" stroke-width="2.2"/><path d="M1833.6 353.9L1823.4 345.8" stroke="#35c79f" stroke-width="1.9"/><path d="M1823.4 345.8L1813.1 337.7" stroke="#e4c322" stroke-width="1.9"/><path d="M1833.6 353.9L1838.8 345.8" stroke="#139a70" stroke-width="2.2"/><path d="M1838.8 345.8L1843.9 337.7" stroke="#cfa311" stroke-width="2.2"/><path d="M1833.6 353.9L1823.4 362" stroke="#35c79f" stroke-width="1.9"/><path d="M1823.4 362L1813.1 370.1" stroke="#e4c322" stroke-width="1.9"/><path d="M1833.6 353.9L1838.8 362" stroke="#139a70" stroke-width="2.2"/><path d="M1838.8 362L1843.9 370.1" stroke="#cfa311" stroke-width="2.2"/><path d="M1864.4 353.9L1854.2 345.8" stroke="#35c79f" stroke-width="1.9"/><path d="M1854.2 345.8L1843.9 337.7" stroke="#e4c322" stroke-width="1.9"/><path d="M1864.4 353.9L1869.6 345.8" stroke="#139a70" stroke-width="2.2"/><path d="M1869.6 345.8L1874.7 337.7" stroke="#cfa311" stroke-width="2.2"/><path d="M1864.4 353.9L1854.2 362" stroke="#35c79f" stroke-width="1.9"/><path d="M1854.2 362L1843.9 370.1" stroke="#e4c322" stroke-width="1.9"/><path d="M1864.4 353.9L1869.6 362" stroke="#139a70" stroke-width="2.2"/><path d="M1869.6 362L1874.7 370.1" stroke="#cfa311" stroke-width="2.2"/><path d="M1895.2 353.9L1885 345.8" stroke="#35c79f" stroke-width="1.9"/><path d="M1885 345.8L1874.7 337.7" stroke="#e4c322" stroke-width="1.9"/><path d="M1895.2 353.9L1900.4 345.8" stroke="#139a70" stroke-width="2.2"/><path d="M1900.4 345.8L1905.5 337.7" stroke="#cfa311" stroke-width="2.2"/><path d="M1895.2 353.9L1885 362" stroke="#35c79f" stroke-width="1.9"/><path d="M1885 362L1874.7 370.1" stroke="#e4c322" stroke-width="1.9"/><path d="M1895.2 353.9L1900.4 362" stroke="#139a70" stroke-width="2.2"/><path d="M1900.4 362L1905.5 370.1" stroke="#cfa311" stroke-width="2.2"/></g><circle cx="1720.7" cy="337.7" r="4.3" fill="url(#se)"/><circle cx="1720.7" cy="370.1" r="4.3" fill="url(#se)"/><circle cx="1751.5" cy="337.7" r="4.3" fill="url(#se)"/><circle cx="1751.5" cy="370.1" r="4.3" fill="url(#se)"/><circle cx="1782.3" cy="337.7" r="4.3" fill="url(#se)"/><circle cx="1782.3" cy="370.1" r="4.3" fill="url(#se)"/><circle cx="1813.1" cy="337.7" r="4.3" fill="url(#se)"/><circle cx="1813.1" cy="370.1" r="4.3" fill="url(#se)"/><circle cx="1843.9" cy="337.7" r="4.3" fill="url(#se)"/><circle cx="1843.9" cy="370.1" r="4.3" fill="url(#se)"/><circle cx="1874.7" cy="337.7" r="4.3" fill="url(#se)"/><circle cx="1874.7" cy="370.1" r="4.3" fill="url(#se)"/><circle cx="1905.5" cy="337.7" r="4.3" fill="url(#se)"/><circle cx="1905.5" cy="370.1" r="4.3" fill="url(#se)"/><circle cx="1741.2" cy="353.9" r="5.9" fill="url(#nb)"/><circle cx="1772" cy="353.9" r="5.9" fill="url(#nb)"/><circle cx="1802.8" cy="353.9" r="5.9" fill="url(#nb)"/><circle cx="1833.6" cy="353.9" r="5.9" fill="url(#nb)"/><circle cx="1864.4" cy="353.9" r="5.9" fill="url(#nb)"/><circle cx="1895.2" cy="353.9" r="5.9" fill="url(#nb)"/>
<g fill="none" stroke-linecap="butt"><path d="M1709.4 419.3L1704.2 411.2" stroke="#139a70" stroke-width="2.2"/><path d="M1704.2 411.2L1699.1 403.1" stroke="#cfa311" stroke-width="2.2"/><path d="M1709.4 419.3L1719.6 411.2" stroke="#35c79f" stroke-width="1.9"/><path d="M1719.6 411.2L1729.9 403.1" stroke="#e4c322" stroke-width="1.9"/><path d="M1709.4 419.3L1704.2 427.4" stroke="#139a70" stroke-width="2.2"/><path d="M1704.2 427.4L1699.1 435.5" stroke="#cfa311" stroke-width="2.2"/><path d="M1709.4 419.3L1719.6 427.4" stroke="#35c79f" stroke-width="1.9"/><path d="M1719.6 427.4L1729.9 435.5" stroke="#e4c322" stroke-width="1.9"/><path d="M1740.2 419.3L1735 411.2" stroke="#139a70" stroke-width="2.2"/><path d="M1735 411.2L1729.9 403.1" stroke="#cfa311" stroke-width="2.2"/><path d="M1740.2 419.3L1750.4 411.2" stroke="#35c79f" stroke-width="1.9"/><path d="M1750.4 411.2L1760.7 403.1" stroke="#e4c322" stroke-width="1.9"/><path d="M1740.2 419.3L1735 427.4" stroke="#139a70" stroke-width="2.2"/><path d="M1735 427.4L1729.9 435.5" stroke="#cfa311" stroke-width="2.2"/><path d="M1740.2 419.3L1750.4 427.4" stroke="#35c79f" stroke-width="1.9"/><path d="M1750.4 427.4L1760.7 435.5" stroke="#e4c322" stroke-width="1.9"/><path d="M1771 419.3L1765.8 411.2" stroke="#139a70" stroke-width="2.2"/><path d="M1765.8 411.2L1760.7 403.1" stroke="#cfa311" stroke-width="2.2"/><path d="M1771 419.3L1781.2 411.2" stroke="#35c79f" stroke-width="1.9"/><path d="M1781.2 411.2L1791.5 403.1" stroke="#e4c322" stroke-width="1.9"/><path d="M1771 419.3L1765.8 427.4" stroke="#139a70" stroke-width="2.2"/><path d="M1765.8 427.4L1760.7 435.5" stroke="#cfa311" stroke-width="2.2"/><path d="M1771 419.3L1781.2 427.4" stroke="#35c79f" stroke-width="1.9"/><path d="M1781.2 427.4L1791.5 435.5" stroke="#e4c322" stroke-width="1.9"/><path d="M1801.8 419.3L1796.6 411.2" stroke="#139a70" stroke-width="2.2"/><path d="M1796.6 411.2L1791.5 403.1" stroke="#cfa311" stroke-width="2.2"/><path d="M1801.8 419.3L1812 411.2" stroke="#35c79f" stroke-width="1.9"/><path d="M1812 411.2L1822.3 403.1" stroke="#e4c322" stroke-width="1.9"/><path d="M1801.8 419.3L1796.6 427.4" stroke="#139a70" stroke-width="2.2"/><path d="M1796.6 427.4L1791.5 435.5" stroke="#cfa311" stroke-width="2.2"/><path d="M1801.8 419.3L1812 427.4" stroke="#35c79f" stroke-width="1.9"/><path d="M1812 427.4L1822.3 435.5" stroke="#e4c322" stroke-width="1.9"/><path d="M1832.6 419.3L1827.4 411.2" stroke="#139a70" stroke-width="2.2"/><path d="M1827.4 411.2L1822.3 403.1" stroke="#cfa311" stroke-width="2.2"/><path d="M1832.6 419.3L1842.8 411.2" stroke="#35c79f" stroke-width="1.9"/><path d="M1842.8 411.2L1853.1 403.1" stroke="#e4c322" stroke-width="1.9"/><path d="M1832.6 419.3L1827.4 427.4" stroke="#139a70" stroke-width="2.2"/><path d="M1827.4 427.4L1822.3 435.5" stroke="#cfa311" stroke-width="2.2"/><path d="M1832.6 419.3L1842.8 427.4" stroke="#35c79f" stroke-width="1.9"/><path d="M1842.8 427.4L1853.1 435.5" stroke="#e4c322" stroke-width="1.9"/><path d="M1863.4 419.3L1858.2 411.2" stroke="#139a70" stroke-width="2.2"/><path d="M1858.2 411.2L1853.1 403.1" stroke="#cfa311" stroke-width="2.2"/><path d="M1863.4 419.3L1873.6 411.2" stroke="#35c79f" stroke-width="1.9"/><path d="M1873.6 411.2L1883.9 403.1" stroke="#e4c322" stroke-width="1.9"/><path d="M1863.4 419.3L1858.2 427.4" stroke="#139a70" stroke-width="2.2"/><path d="M1858.2 427.4L1853.1 435.5" stroke="#cfa311" stroke-width="2.2"/><path d="M1863.4 419.3L1873.6 427.4" stroke="#35c79f" stroke-width="1.9"/><path d="M1873.6 427.4L1883.9 435.5" stroke="#e4c322" stroke-width="1.9"/></g><circle cx="1699.1" cy="403.1" r="4.3" fill="url(#se)"/><circle cx="1699.1" cy="435.5" r="4.3" fill="url(#se)"/><circle cx="1729.9" cy="403.1" r="4.3" fill="url(#se)"/><circle cx="1729.9" cy="435.5" r="4.3" fill="url(#se)"/><circle cx="1760.7" cy="403.1" r="4.3" fill="url(#se)"/><circle cx="1760.7" cy="435.5" r="4.3" fill="url(#se)"/><circle cx="1791.5" cy="403.1" r="4.3" fill="url(#se)"/><circle cx="1791.5" cy="435.5" r="4.3" fill="url(#se)"/><circle cx="1822.3" cy="403.1" r="4.3" fill="url(#se)"/><circle cx="1822.3" cy="435.5" r="4.3" fill="url(#se)"/><circle cx="1853.1" cy="403.1" r="4.3" fill="url(#se)"/><circle cx="1853.1" cy="435.5" r="4.3" fill="url(#se)"/><circle cx="1883.9" cy="403.1" r="4.3" fill="url(#se)"/><circle cx="1883.9" cy="435.5" r="4.3" fill="url(#se)"/><circle cx="1709.4" cy="419.3" r="5.9" fill="url(#nb)"/><circle cx="1740.2" cy="419.3" r="5.9" fill="url(#nb)"/><circle cx="1771" cy="419.3" r="5.9" fill="url(#nb)"/><circle cx="1801.8" cy="419.3" r="5.9" fill="url(#nb)"/><circle cx="1832.6" cy="419.3" r="5.9" fill="url(#nb)"/><circle cx="1863.4" cy="419.3" r="5.9" fill="url(#nb)"/>
<g fill="none" stroke-linecap="butt"><path d="M1741.2 480.7L1731 472.6" stroke="#35c79f" stroke-width="1.9"/><path d="M1731 472.6L1720.7 464.5" stroke="#e4c322" stroke-width="1.9"/><path d="M1741.2 480.7L1746.4 472.6" stroke="#139a70" stroke-width="2.2"/><path d="M1746.4 472.6L1751.5 464.5" stroke="#cfa311" stroke-width="2.2"/><path d="M1741.2 480.7L1731 488.8" stroke="#35c79f" stroke-width="1.9"/><path d="M1731 488.8L1720.7 496.9" stroke="#e4c322" stroke-width="1.9"/><path d="M1741.2 480.7L1746.4 488.8" stroke="#139a70" stroke-width="2.2"/><path d="M1746.4 488.8L1751.5 496.9" stroke="#cfa311" stroke-width="2.2"/><path d="M1772 480.7L1761.8 472.6" stroke="#35c79f" stroke-width="1.9"/><path d="M1761.8 472.6L1751.5 464.5" stroke="#e4c322" stroke-width="1.9"/><path d="M1772 480.7L1777.2 472.6" stroke="#139a70" stroke-width="2.2"/><path d="M1777.2 472.6L1782.3 464.5" stroke="#cfa311" stroke-width="2.2"/><path d="M1772 480.7L1761.8 488.8" stroke="#35c79f" stroke-width="1.9"/><path d="M1761.8 488.8L1751.5 496.9" stroke="#e4c322" stroke-width="1.9"/><path d="M1772 480.7L1777.2 488.8" stroke="#139a70" stroke-width="2.2"/><path d="M1777.2 488.8L1782.3 496.9" stroke="#cfa311" stroke-width="2.2"/><path d="M1802.8 480.7L1792.6 472.6" stroke="#35c79f" stroke-width="1.9"/><path d="M1792.6 472.6L1782.3 464.5" stroke="#e4c322" stroke-width="1.9"/><path d="M1802.8 480.7L1808 472.6" stroke="#139a70" stroke-width="2.2"/><path d="M1808 472.6L1813.1 464.5" stroke="#cfa311" stroke-width="2.2"/><path d="M1802.8 480.7L1792.6 488.8" stroke="#35c79f" stroke-width="1.9"/><path d="M1792.6 488.8L1782.3 496.9" stroke="#e4c322" stroke-width="1.9"/><path d="M1802.8 480.7L1808 488.8" stroke="#139a70" stroke-width="2.2"/><path d="M1808 488.8L1813.1 496.9" stroke="#cfa311" stroke-width="2.2"/><path d="M1833.6 480.7L1823.4 472.6" stroke="#35c79f" stroke-width="1.9"/><path d="M1823.4 472.6L1813.1 464.5" stroke="#e4c322" stroke-width="1.9"/><path d="M1833.6 480.7L1838.8 472.6" stroke="#139a70" stroke-width="2.2"/><path d="M1838.8 472.6L1843.9 464.5" stroke="#cfa311" stroke-width="2.2"/><path d="M1833.6 480.7L1823.4 488.8" stroke="#35c79f" stroke-width="1.9"/><path d="M1823.4 488.8L1813.1 496.9" stroke="#e4c322" stroke-width="1.9"/><path d="M1833.6 480.7L1838.8 488.8" stroke="#139a70" stroke-width="2.2"/><path d="M1838.8 488.8L1843.9 496.9" stroke="#cfa311" stroke-width="2.2"/><path d="M1864.4 480.7L1854.2 472.6" stroke="#35c79f" stroke-width="1.9"/><path d="M1854.2 472.6L1843.9 464.5" stroke="#e4c322" stroke-width="1.9"/><path d="M1864.4 480.7L1869.6 472.6" stroke="#139a70" stroke-width="2.2"/><path d="M1869.6 472.6L1874.7 464.5" stroke="#cfa311" stroke-width="2.2"/><path d="M1864.4 480.7L1854.2 488.8" stroke="#35c79f" stroke-width="1.9"/><path d="M1854.2 488.8L1843.9 496.9" stroke="#e4c322" stroke-width="1.9"/><path d="M1864.4 480.7L1869.6 488.8" stroke="#139a70" stroke-width="2.2"/><path d="M1869.6 488.8L1874.7 496.9" stroke="#cfa311" stroke-width="2.2"/><path d="M1895.2 480.7L1885 472.6" stroke="#35c79f" stroke-width="1.9"/><path d="M1885 472.6L1874.7 464.5" stroke="#e4c322" stroke-width="1.9"/><path d="M1895.2 480.7L1900.4 472.6" stroke="#139a70" stroke-width="2.2"/><path d="M1900.4 472.6L1905.5 464.5" stroke="#cfa311" stroke-width="2.2"/><path d="M1895.2 480.7L1885 488.8" stroke="#35c79f" stroke-width="1.9"/><path d="M1885 488.8L1874.7 496.9" stroke="#e4c322" stroke-width="1.9"/><path d="M1895.2 480.7L1900.4 488.8" stroke="#139a70" stroke-width="2.2"/><path d="M1900.4 488.8L1905.5 496.9" stroke="#cfa311" stroke-width="2.2"/></g><circle cx="1720.7" cy="464.5" r="4.3" fill="url(#se)"/><circle cx="1720.7" cy="496.9" r="4.3" fill="url(#se)"/><circle cx="1751.5" cy="464.5" r="4.3" fill="url(#se)"/><circle cx="1751.5" cy="496.9" r="4.3" fill="url(#se)"/><circle cx="1782.3" cy="464.5" r="4.3" fill="url(#se)"/><circle cx="1782.3" cy="496.9" r="4.3" fill="url(#se)"/><circle cx="1813.1" cy="464.5" r="4.3" fill="url(#se)"/><circle cx="1813.1" cy="496.9" r="4.3" fill="url(#se)"/><circle cx="1843.9" cy="464.5" r="4.3" fill="url(#se)"/><circle cx="1843.9" cy="496.9" r="4.3" fill="url(#se)"/><circle cx="1874.7" cy="464.5" r="4.3" fill="url(#se)"/><circle cx="1874.7" cy="496.9" r="4.3" fill="url(#se)"/><circle cx="1905.5" cy="464.5" r="4.3" fill="url(#se)"/><circle cx="1905.5" cy="496.9" r="4.3" fill="url(#se)"/><circle cx="1741.2" cy="480.7" r="5.9" fill="url(#nb)"/><circle cx="1772" cy="480.7" r="5.9" fill="url(#nb)"/><circle cx="1802.8" cy="480.7" r="5.9" fill="url(#nb)"/><circle cx="1833.6" cy="480.7" r="5.9" fill="url(#nb)"/><circle cx="1864.4" cy="480.7" r="5.9" fill="url(#nb)"/><circle cx="1895.2" cy="480.7" r="5.9" fill="url(#nb)"/>
<circle cx="1720.8" cy="193.7" r="6.4" fill="url(#ic)" stroke="url(#icr)" stroke-width="2.0"/>
<circle cx="1751.2" cy="193.7" r="6.4" fill="url(#ic)" stroke="url(#icr)" stroke-width="2.0"/>
<circle cx="1813.1" cy="193.7" r="6.4" fill="url(#ic)" stroke="url(#icr)" stroke-width="2.0"/>
<circle cx="1844" cy="193.7" r="6.4" fill="url(#ic)" stroke="url(#icr)" stroke-width="2.0"/>
<circle cx="1874.7" cy="193.7" r="6.4" fill="url(#ic)" stroke="url(#icr)" stroke-width="2.0"/>
<circle cx="1813.1" cy="257.1" r="6.4" fill="url(#ic)" stroke="url(#icr)" stroke-width="2.0"/>
<circle cx="1741.5" cy="321.7" r="6.4" fill="url(#ic)" stroke="url(#icr)" stroke-width="2.0"/>
<circle cx="1772.3" cy="321.7" r="6.4" fill="url(#ic)" stroke="url(#icr)" stroke-width="2.0"/>
<circle cx="1801.9" cy="321.7" r="6.4" fill="url(#ic)" stroke="url(#icr)" stroke-width="2.0"/>
<circle cx="1863.5" cy="321.7" r="6.4" fill="url(#ic)" stroke="url(#icr)" stroke-width="2.0"/>
<circle cx="1895.5" cy="321.7" r="6.4" fill="url(#ic)" stroke="url(#icr)" stroke-width="2.0"/>
<circle cx="1740.4" cy="384.7" r="6.4" fill="url(#ic)" stroke="url(#icr)" stroke-width="2.0"/>
<circle cx="1801.4" cy="384.7" r="6.4" fill="url(#ic)" stroke="url(#icr)" stroke-width="2.0"/>
<circle cx="1832.8" cy="384.7" r="6.4" fill="url(#ic)" stroke="url(#icr)" stroke-width="2.0"/>
<circle cx="1863.5" cy="384.7" r="6.4" fill="url(#ic)" stroke="url(#icr)" stroke-width="2.0"/>
<circle cx="1895.5" cy="384.7" r="6.4" fill="url(#ic)" stroke="url(#icr)" stroke-width="2.0"/>
<circle cx="1772.3" cy="448.5" r="6.4" fill="url(#ic)" stroke="url(#icr)" stroke-width="2.0"/>
<circle cx="1803" cy="448.5" r="6.4" fill="url(#ic)" stroke="url(#icr)" stroke-width="2.0"/>
<circle cx="1833.1" cy="448.5" r="6.4" fill="url(#ic)" stroke="url(#icr)" stroke-width="2.0"/>
<circle cx="1865.4" cy="448.5" r="6.4" fill="url(#ic)" stroke="url(#icr)" stroke-width="2.0"/>
<text x="793" y="24" font-size="29.5" font-weight="bold">hPLD</text>
<text x="738" y="56.3" font-size="38" font-weight="bold">c</text>
<text x="1365" y="73.8" font-size="29.5" fill="#0a32ff">0°</text>
<text x="1661.5" y="73.8" font-size="29.5" fill="#7030a0" text-anchor="middle">Mixed</text>
<text x="1992" y="73.8" font-size="29.5" fill="#ff0012" text-anchor="end">180°</text>
<text x="1608" y="586.7" font-size="30"><tspan font-style="italic">x</tspan> ~ 0.29</text>
<text x="1779.5" y="586.7" font-size="29.5">Higher</text>
<text x="1779.5" y="620.7" font-size="29.5">intercalation</text>
<path d="M1877.6 570.8H1968V566.3L1993.5 574.8L1968 583.3V578.8H1877.6Z" fill="#000"/>
</g>
<g id="panelD">
<rect x="783.3" y="671.2" width="1100" height="512.5" fill="url(#gd)"/>
<path d="M783.3 1186.3V671.2H1743.7" stroke="#000" stroke-width="4.2" fill="none"/>
<path d="M781.2 1184.3H1723" stroke="#000" stroke-width="4.1" fill="none"/>
<path d="M1726.3 671.2H1999" stroke="#000" stroke-width="4.2" fill="none" stroke-dasharray="17.2 12.8"/>
<path d="M1722 1184.3H1993.5" stroke="#000" stroke-width="4.1" fill="none" stroke-dasharray="17 13"/>
<path d="M806.5 1153.5L783.8 1183.2" stroke="#000" stroke-width="3.6" fill="none"/>
<path d="M1115.7 1153.5V1183.7" stroke="#000" stroke-width="4" fill="none"/>
<path d="M1346.5 1153.5L1300.6 1183.5" stroke="#000" stroke-width="3.6" fill="none"/>
<path d="M1682 1154L1388 1183.5" stroke="#000" stroke-width="3.4" fill="none"/>
<rect x="806.5" y="768.8" width="242.8" height="385.1" fill="#fff" stroke="#000" stroke-width="4.1" stroke-linejoin="round"/>
<g filter="url(#bl)">
<rect x="832.8" y="828.8" width="199.5" height="9" rx="3" fill="#fdb1b1"/>
<rect x="828.8" y="893" width="197.8" height="9" rx="3" fill="#fdb1b1"/>
<rect x="829.6" y="957.3" width="197.8" height="9" rx="3" fill="#fdb1b1"/>
<rect x="828.8" y="1020.8" width="196.2" height="9" rx="3" fill="#fdb1b1"/>
<rect x="828.8" y="1084.8" width="196.9" height="9" rx="3" fill="#fdb1b1"/>
</g>
<g fill="none" stroke-linecap="butt"><path d="M852.9 802.1L847.8 794" stroke="#139a70" stroke-width="2.2"/><path d="M847.8 794L842.8 785.9" stroke="#cfa311" stroke-width="2.2"/><path d="M852.9 802.1L863 794" stroke="#35c79f" stroke-width="1.9"/><path d="M863 794L873 785.9" stroke="#e4c322" stroke-width="1.9"/><path d="M852.9 802.1L847.8 810.2" stroke="#139a70" stroke-width="2.2"/><path d="M847.8 810.2L842.8 818.3" stroke="#cfa311" stroke-width="2.2"/><path d="M852.9 802.1L863 810.2" stroke="#35c79f" stroke-width="1.9"/><path d="M863 810.2L873 818.3" stroke="#e4c322" stroke-width="1.9"/><path d="M883.1 802.1L878.1 794" stroke="#139a70" stroke-width="2.2"/><path d="M878.1 794L873 785.9" stroke="#cfa311" stroke-width="2.2"/><path d="M883.1 802.1L893.2 794" stroke="#35c79f" stroke-width="1.9"/><path d="M893.2 794L903.3 785.9" stroke="#e4c322" stroke-width="1.9"/><path d="M883.1 802.1L878.1 810.2" stroke="#139a70" stroke-width="2.2"/><path d="M878.1 810.2L873 818.3" stroke="#cfa311" stroke-width="2.2"/><path d="M883.1 802.1L893.2 810.2" stroke="#35c79f" stroke-width="1.9"/><path d="M893.2 810.2L903.3 818.3" stroke="#e4c322" stroke-width="1.9"/><path d="M913.4 802.1L908.3 794" stroke="#139a70" stroke-width="2.2"/><path d="M908.3 794L903.3 785.9" stroke="#cfa311" stroke-width="2.2"/><path d="M913.4 802.1L923.5 794" stroke="#35c79f" stroke-width="1.9"/><path d="M923.5 794L933.5 785.9" stroke="#e4c322" stroke-width="1.9"/><path d="M913.4 802.1L908.3 810.2" stroke="#139a70" stroke-width="2.2"/><path d="M908.3 810.2L903.3 818.3" stroke="#cfa311" stroke-width="2.2"/><path d="M913.4 802.1L923.5 810.2" stroke="#35c79f" stroke-width="1.9"/><path d="M923.5 810.2L933.5 818.3" stroke="#e4c322" stroke-width="1.9"/><path d="M943.6 802.1L938.6 794" stroke="#139a70" stroke-width="2.2"/><path d="M938.6 794L933.5 785.9" stroke="#cfa311" stroke-width="2.2"/><path d="M943.6 802.1L953.7 794" stroke="#35c79f" stroke-width="1.9"/><path d="M953.7 794L963.8 785.9" stroke="#e4c322" stroke-width="1.9"/><path d="M943.6 802.1L938.6 810.2" stroke="#139a70" stroke-width="2.2"/><path d="M938.6 810.2L933.5 818.3" stroke="#cfa311" stroke-width="2.2"/><path d="M943.6 802.1L953.7 810.2" stroke="#35c79f" stroke-width="1.9"/><path d="M953.7 810.2L963.8 818.3" stroke="#e4c322" stroke-width="1.9"/><path d="M973.9 802.1L968.8 794" stroke="#139a70" stroke-width="2.2"/><path d="M968.8 794L963.8 785.9" stroke="#cfa311" stroke-width="2.2"/><path d="M973.9 802.1L984 794" stroke="#35c79f" stroke-width="1.9"/><path d="M984 794L994 785.9" stroke="#e4c322" stroke-width="1.9"/><path d="M973.9 802.1L968.8 810.2" stroke="#139a70" stroke-width="2.2"/><path d="M968.8 810.2L963.8 818.3" stroke="#cfa311" stroke-width="2.2"/><path d="M973.9 802.1L984 810.2" stroke="#35c79f" stroke-width="1.9"/><path d="M984 810.2L994 818.3" stroke="#e4c322" stroke-width="1.9"/><path d="M1004.1 802.1L999.1 794" stroke="#139a70" stroke-width="2.2"/><path d="M999.1 794L994 785.9" stroke="#cfa311" stroke-width="2.2"/><path d="M1004.1 802.1L1014.2 794" stroke="#35c79f" stroke-width="1.9"/><path d="M1014.2 794L1024.3 785.9" stroke="#e4c322" stroke-width="1.9"/><path d="M1004.1 802.1L999.1 810.2" stroke="#139a70" stroke-width="2.2"/><path d="M999.1 810.2L994 818.3" stroke="#cfa311" stroke-width="2.2"/><path d="M1004.1 802.1L1014.2 810.2" stroke="#35c79f" stroke-width="1.9"/><path d="M1014.2 810.2L1024.3 818.3" stroke="#e4c322" stroke-width="1.9"/></g><circle cx="842.8" cy="785.9" r="4.3" fill="url(#se)"/><circle cx="842.8" cy="818.3" r="4.3" fill="url(#se)"/><circle cx="873" cy="785.9" r="4.3" fill="url(#se)"/><circle cx="873" cy="818.3" r="4.3" fill="url(#se)"/><circle cx="903.3" cy="785.9" r="4.3" fill="url(#se)"/><circle cx="903.3" cy="818.3" r="4.3" fill="url(#se)"/><circle cx="933.5" cy="785.9" r="4.3" fill="url(#se)"/><circle cx="933.5" cy="818.3" r="4.3" fill="url(#se)"/><circle cx="963.8" cy="785.9" r="4.3" fill="url(#se)"/><circle cx="963.8" cy="818.3" r="4.3" fill="url(#se)"/><circle cx="994" cy="785.9" r="4.3" fill="url(#se)"/><circle cx="994" cy="818.3" r="4.3" fill="url(#se)"/><circle cx="1024.3" cy="785.9" r="4.3" fill="url(#se)"/><circle cx="1024.3" cy="818.3" r="4.3" fill="url(#se)"/><circle cx="852.9" cy="802.1" r="5.9" fill="url(#nb)"/><circle cx="883.1" cy="802.1" r="5.9" fill="url(#nb)"/><circle cx="913.4" cy="802.1" r="5.9" fill="url(#nb)"/><circle cx="943.6" cy="802.1" r="5.9" fill="url(#nb)"/><circle cx="973.9" cy="802.1" r="5.9" fill="url(#nb)"/><circle cx="1004.1" cy="802.1" r="5.9" fill="url(#nb)"/>
<g fill="none" stroke-linecap="butt"><path d="M852.9 866L842.8 857.9" stroke="#35c79f" stroke-width="1.9"/><path d="M842.8 857.9L832.7 849.8" stroke="#e4c322" stroke-width="1.9"/><path d="M852.9 866L857.9 857.9" stroke="#139a70" stroke-width="2.2"/><path d="M857.9 857.9L863 849.8" stroke="#cfa311" stroke-width="2.2"/><path d="M852.9 866L842.8 874.1" stroke="#35c79f" stroke-width="1.9"/><path d="M842.8 874.1L832.7 882.2" stroke="#e4c322" stroke-width="1.9"/><path d="M852.9 866L857.9 874.1" stroke="#139a70" stroke-width="2.2"/><path d="M857.9 874.1L863 882.2" stroke="#cfa311" stroke-width="2.2"/><path d="M883.1 866L873 857.9" stroke="#35c79f" stroke-width="1.9"/><path d="M873 857.9L863 849.8" stroke="#e4c322" stroke-width="1.9"/><path d="M883.1 866L888.2 857.9" stroke="#139a70" stroke-width="2.2"/><path d="M888.2 857.9L893.2 849.8" stroke="#cfa311" stroke-width="2.2"/><path d="M883.1 866L873 874.1" stroke="#35c79f" stroke-width="1.9"/><path d="M873 874.1L863 882.2" stroke="#e4c322" stroke-width="1.9"/><path d="M883.1 866L888.2 874.1" stroke="#139a70" stroke-width="2.2"/><path d="M888.2 874.1L893.2 882.2" stroke="#cfa311" stroke-width="2.2"/><path d="M913.4 866L903.3 857.9" stroke="#35c79f" stroke-width="1.9"/><path d="M903.3 857.9L893.2 849.8" stroke="#e4c322" stroke-width="1.9"/><path d="M913.4 866L918.4 857.9" stroke="#139a70" stroke-width="2.2"/><path d="M918.4 857.9L923.5 849.8" stroke="#cfa311" stroke-width="2.2"/><path d="M913.4 866L903.3 874.1" stroke="#35c79f" stroke-width="1.9"/><path d="M903.3 874.1L893.2 882.2" stroke="#e4c322" stroke-width="1.9"/><path d="M913.4 866L918.4 874.1" stroke="#139a70" stroke-width="2.2"/><path d="M918.4 874.1L923.5 882.2" stroke="#cfa311" stroke-width="2.2"/><path d="M943.6 866L933.5 857.9" stroke="#35c79f" stroke-width="1.9"/><path d="M933.5 857.9L923.5 849.8" stroke="#e4c322" stroke-width="1.9"/><path d="M943.6 866L948.7 857.9" stroke="#139a70" stroke-width="2.2"/><path d="M948.7 857.9L953.7 849.8" stroke="#cfa311" stroke-width="2.2"/><path d="M943.6 866L933.5 874.1" stroke="#35c79f" stroke-width="1.9"/><path d="M933.5 874.1L923.5 882.2" stroke="#e4c322" stroke-width="1.9"/><path d="M943.6 866L948.7 874.1" stroke="#139a70" stroke-width="2.2"/><path d="M948.7 874.1L953.7 882.2" stroke="#cfa311" stroke-width="2.2"/><path d="M973.9 866L963.8 857.9" stroke="#35c79f" stroke-width="1.9"/><path d="M963.8 857.9L953.7 849.8" stroke="#e4c322" stroke-width="1.9"/><path d="M973.9 866L978.9 857.9" stroke="#139a70" stroke-width="2.2"/><path d="M978.9 857.9L984 849.8" stroke="#cfa311" stroke-width="2.2"/><path d="M973.9 866L963.8 874.1" stroke="#35c79f" stroke-width="1.9"/><path d="M963.8 874.1L953.7 882.2" stroke="#e4c322" stroke-width="1.9"/><path d="M973.9 866L978.9 874.1" stroke="#139a70" stroke-width="2.2"/><path d="M978.9 874.1L984 882.2" stroke="#cfa311" stroke-width="2.2"/><path d="M1004.1 866L994 857.9" stroke="#35c79f" stroke-width="1.9"/><path d="M994 857.9L984 849.8" stroke="#e4c322" stroke-width="1.9"/><path d="M1004.1 866L1009.2 857.9" stroke="#139a70" stroke-width="2.2"/><path d="M1009.2 857.9L1014.2 849.8" stroke="#cfa311" stroke-width="2.2"/><path d="M1004.1 866L994 874.1" stroke="#35c79f" stroke-width="1.9"/><path d="M994 874.1L984 882.2" stroke="#e4c322" stroke-width="1.9"/><path d="M1004.1 866L1009.2 874.1" stroke="#139a70" stroke-width="2.2"/><path d="M1009.2 874.1L1014.2 882.2" stroke="#cfa311" stroke-width="2.2"/></g><circle cx="832.7" cy="849.8" r="4.3" fill="url(#se)"/><circle cx="832.7" cy="882.2" r="4.3" fill="url(#se)"/><circle cx="863" cy="849.8" r="4.3" fill="url(#se)"/><circle cx="863" cy="882.2" r="4.3" fill="url(#se)"/><circle cx="893.2" cy="849.8" r="4.3" fill="url(#se)"/><circle cx="893.2" cy="882.2" r="4.3" fill="url(#se)"/><circle cx="923.5" cy="849.8" r="4.3" fill="url(#se)"/><circle cx="923.5" cy="882.2" r="4.3" fill="url(#se)"/><circle cx="953.7" cy="849.8" r="4.3" fill="url(#se)"/><circle cx="953.7" cy="882.2" r="4.3" fill="url(#se)"/><circle cx="984" cy="849.8" r="4.3" fill="url(#se)"/><circle cx="984" cy="882.2" r="4.3" fill="url(#se)"/><circle cx="1014.2" cy="849.8" r="4.3" fill="url(#se)"/><circle cx="1014.2" cy="882.2" r="4.3" fill="url(#se)"/><circle cx="852.9" cy="866" r="5.9" fill="url(#nb)"/><circle cx="883.1" cy="866" r="5.9" fill="url(#nb)"/><circle cx="913.4" cy="866" r="5.9" fill="url(#nb)"/><circle cx="943.6" cy="866" r="5.9" fill="url(#nb)"/><circle cx="973.9" cy="866" r="5.9" fill="url(#nb)"/><circle cx="1004.1" cy="866" r="5.9" fill="url(#nb)"/>
<g fill="none" stroke-linecap="butt"><path d="M852.9 929.8L847.8 921.7" stroke="#139a70" stroke-width="2.2"/><path d="M847.8 921.7L842.8 913.6" stroke="#cfa311" stroke-width="2.2"/><path d="M852.9 929.8L863 921.7" stroke="#35c79f" stroke-width="1.9"/><path d="M863 921.7L873 913.6" stroke="#e4c322" stroke-width="1.9"/><path d="M852.9 929.8L847.8 937.9" stroke="#139a70" stroke-width="2.2"/><path d="M847.8 937.9L842.8 946" stroke="#cfa311" stroke-width="2.2"/><path d="M852.9 929.8L863 937.9" stroke="#35c79f" stroke-width="1.9"/><path d="M863 937.9L873 946" stroke="#e4c322" stroke-width="1.9"/><path d="M883.1 929.8L878.1 921.7" stroke="#139a70" stroke-width="2.2"/><path d="M878.1 921.7L873 913.6" stroke="#cfa311" stroke-width="2.2"/><path d="M883.1 929.8L893.2 921.7" stroke="#35c79f" stroke-width="1.9"/><path d="M893.2 921.7L903.3 913.6" stroke="#e4c322" stroke-width="1.9"/><path d="M883.1 929.8L878.1 937.9" stroke="#139a70" stroke-width="2.2"/><path d="M878.1 937.9L873 946" stroke="#cfa311" stroke-width="2.2"/><path d="M883.1 929.8L893.2 937.9" stroke="#35c79f" stroke-width="1.9"/><path d="M893.2 937.9L903.3 946" stroke="#e4c322" stroke-width="1.9"/><path d="M913.4 929.8L908.3 921.7" stroke="#139a70" stroke-width="2.2"/><path d="M908.3 921.7L903.3 913.6" stroke="#cfa311" stroke-width="2.2"/><path d="M913.4 929.8L923.5 921.7" stroke="#35c79f" stroke-width="1.9"/><path d="M923.5 921.7L933.5 913.6" stroke="#e4c322" stroke-width="1.9"/><path d="M913.4 929.8L908.3 937.9" stroke="#139a70" stroke-width="2.2"/><path d="M908.3 937.9L903.3 946" stroke="#cfa311" stroke-width="2.2"/><path d="M913.4 929.8L923.5 937.9" stroke="#35c79f" stroke-width="1.9"/><path d="M923.5 937.9L933.5 946" stroke="#e4c322" stroke-width="1.9"/><path d="M943.6 929.8L938.6 921.7" stroke="#139a70" stroke-width="2.2"/><path d="M938.6 921.7L933.5 913.6" stroke="#cfa311" stroke-width="2.2"/><path d="M943.6 929.8L953.7 921.7" stroke="#35c79f" stroke-width="1.9"/><path d="M953.7 921.7L963.8 913.6" stroke="#e4c322" stroke-width="1.9"/><path d="M943.6 929.8L938.6 937.9" stroke="#139a70" stroke-width="2.2"/><path d="M938.6 937.9L933.5 946" stroke="#cfa311" stroke-width="2.2"/><path d="M943.6 929.8L953.7 937.9" stroke="#35c79f" stroke-width="1.9"/><path d="M953.7 937.9L963.8 946" stroke="#e4c322" stroke-width="1.9"/><path d="M973.9 929.8L968.8 921.7" stroke="#139a70" stroke-width="2.2"/><path d="M968.8 921.7L963.8 913.6" stroke="#cfa311" stroke-width="2.2"/><path d="M973.9 929.8L984 921.7" stroke="#35c79f" stroke-width="1.9"/><path d="M984 921.7L994 913.6" stroke="#e4c322" stroke-width="1.9"/><path d="M973.9 929.8L968.8 937.9" stroke="#139a70" stroke-width="2.2"/><path d="M968.8 937.9L963.8 946" stroke="#cfa311" stroke-width="2.2"/><path d="M973.9 929.8L984 937.9" stroke="#35c79f" stroke-width="1.9"/><path d="M984 937.9L994 946" stroke="#e4c322" stroke-width="1.9"/><path d="M1004.1 929.8L999.1 921.7" stroke="#139a70" stroke-width="2.2"/><path d="M999.1 921.7L994 913.6" stroke="#cfa311" stroke-width="2.2"/><path d="M1004.1 929.8L1014.2 921.7" stroke="#35c79f" stroke-width="1.9"/><path d="M1014.2 921.7L1024.3 913.6" stroke="#e4c322" stroke-width="1.9"/><path d="M1004.1 929.8L999.1 937.9" stroke="#139a70" stroke-width="2.2"/><path d="M999.1 937.9L994 946" stroke="#cfa311" stroke-width="2.2"/><path d="M1004.1 929.8L1014.2 937.9" stroke="#35c79f" stroke-width="1.9"/><path d="M1014.2 937.9L1024.3 946" stroke="#e4c322" stroke-width="1.9"/></g><circle cx="842.8" cy="913.6" r="4.3" fill="url(#se)"/><circle cx="842.8" cy="946" r="4.3" fill="url(#se)"/><circle cx="873" cy="913.6" r="4.3" fill="url(#se)"/><circle cx="873" cy="946" r="4.3" fill="url(#se)"/><circle cx="903.3" cy="913.6" r="4.3" fill="url(#se)"/><circle cx="903.3" cy="946" r="4.3" fill="url(#se)"/><circle cx="933.5" cy="913.6" r="4.3" fill="url(#se)"/><circle cx="933.5" cy="946" r="4.3" fill="url(#se)"/><circle cx="963.8" cy="913.6" r="4.3" fill="url(#se)"/><circle cx="963.8" cy="946" r="4.3" fill="url(#se)"/><circle cx="994" cy="913.6" r="4.3" fill="url(#se)"/><circle cx="994" cy="946" r="4.3" fill="url(#se)"/><circle cx="1024.3" cy="913.6" r="4.3" fill="url(#se)"/><circle cx="1024.3" cy="946" r="4.3" fill="url(#se)"/><circle cx="852.9" cy="929.8" r="5.9" fill="url(#nb)"/><circle cx="883.1" cy="929.8" r="5.9" fill="url(#nb)"/><circle cx="913.4" cy="929.8" r="5.9" fill="url(#nb)"/><circle cx="943.6" cy="929.8" r="5.9" fill="url(#nb)"/><circle cx="973.9" cy="929.8" r="5.9" fill="url(#nb)"/><circle cx="1004.1" cy="929.8" r="5.9" fill="url(#nb)"/>
<g fill="none" stroke-linecap="butt"><path d="M852.9 993.7L842.8 985.6" stroke="#35c79f" stroke-width="1.9"/><path d="M842.8 985.6L832.7 977.5" stroke="#e4c322" stroke-width="1.9"/><path d="M852.9 993.7L857.9 985.6" stroke="#139a70" stroke-width="2.2"/><path d="M857.9 985.6L863 977.5" stroke="#cfa311" stroke-width="2.2"/><path d="M852.9 993.7L842.8 1001.8" stroke="#35c79f" stroke-width="1.9"/><path d="M842.8 1001.8L832.7 1009.9" stroke="#e4c322" stroke-width="1.9"/><path d="M852.9 993.7L857.9 1001.8" stroke="#139a70" stroke-width="2.2"/><path d="M857.9 1001.8L863 1009.9" stroke="#cfa311" stroke-width="2.2"/><path d="M883.1 993.7L873 985.6" stroke="#35c79f" stroke-width="1.9"/><path d="M873 985.6L863 977.5" stroke="#e4c322" stroke-width="1.9"/><path d="M883.1 993.7L888.2 985.6" stroke="#139a70" stroke-width="2.2"/><path d="M888.2 985.6L893.2 977.5" stroke="#cfa311" stroke-width="2.2"/><path d="M883.1 993.7L873 1001.8" stroke="#35c79f" stroke-width="1.9"/><path d="M873 1001.8L863 1009.9" stroke="#e4c322" stroke-width="1.9"/><path d="M883.1 993.7L888.2 1001.8" stroke="#139a70" stroke-width="2.2"/><path d="M888.2 1001.8L893.2 1009.9" stroke="#cfa311" stroke-width="2.2"/><path d="M913.4 993.7L903.3 985.6" stroke="#35c79f" stroke-width="1.9"/><path d="M903.3 985.6L893.2 977.5" stroke="#e4c322" stroke-width="1.9"/><path d="M913.4 993.7L918.4 985.6" stroke="#139a70" stroke-width="2.2"/><path d="M918.4 985.6L923.5 977.5" stroke="#cfa311" stroke-width="2.2"/><path d="M913.4 993.7L903.3 1001.8" stroke="#35c79f" stroke-width="1.9"/><path d="M903.3 1001.8L893.2 1009.9" stroke="#e4c322" stroke-width="1.9"/><path d="M913.4 993.7L918.4 1001.8" stroke="#139a70" stroke-width="2.2"/><path d="M918.4 1001.8L923.5 1009.9" stroke="#cfa311" stroke-width="2.2"/><path d="M943.6 993.7L933.5 985.6" stroke="#35c79f" stroke-width="1.9"/><path d="M933.5 985.6L923.5 977.5" stroke="#e4c322" stroke-width="1.9"/><path d="M943.6 993.7L948.7 985.6" stroke="#139a70" stroke-width="2.2"/><path d="M948.7 985.6L953.7 977.5" stroke="#cfa311" stroke-width="2.2"/><path d="M943.6 993.7L933.5 1001.8" stroke="#35c79f" stroke-width="1.9"/><path d="M933.5 1001.8L923.5 1009.9" stroke="#e4c322" stroke-width="1.9"/><path d="M943.6 993.7L948.7 1001.8" stroke="#139a70" stroke-width="2.2"/><path d="M948.7 1001.8L953.7 1009.9" stroke="#cfa311" stroke-width="2.2"/><path d="M973.9 993.7L963.8 985.6" stroke="#35c79f" stroke-width="1.9"/><path d="M963.8 985.6L953.7 977.5" stroke="#e4c322" stroke-width="1.9"/><path d="M973.9 993.7L978.9 985.6" stroke="#139a70" stroke-width="2.2"/><path d="M978.9 985.6L984 977.5" stroke="#cfa311" stroke-width="2.2"/><path d="M973.9 993.7L963.8 1001.8" stroke="#35c79f" stroke-width="1.9"/><path d="M963.8 1001.8L953.7 1009.9" stroke="#e4c322" stroke-width="1.9"/><path d="M973.9 993.7L978.9 1001.8" stroke="#139a70" stroke-width="2.2"/><path d="M978.9 1001.8L984 1009.9" stroke="#cfa311" stroke-width="2.2"/><path d="M1004.1 993.7L994 985.6" stroke="#35c79f" stroke-width="1.9"/><path d="M994 985.6L984 977.5" stroke="#e4c322" stroke-width="1.9"/><path d="M1004.1 993.7L1009.2 985.6" stroke="#139a70" stroke-width="2.2"/><path d="M1009.2 985.6L1014.2 977.5" stroke="#cfa311" stroke-width="2.2"/><path d="M1004.1 993.7L994 1001.8" stroke="#35c79f" stroke-width="1.9"/><path d="M994 1001.8L984 1009.9" stroke="#e4c322" stroke-width="1.9"/><path d="M1004.1 993.7L1009.2 1001.8" stroke="#139a70" stroke-width="2.2"/><path d="M1009.2 1001.8L1014.2 1009.9" stroke="#cfa311" stroke-width="2.2"/></g><circle cx="832.7" cy="977.5" r="4.3" fill="url(#se)"/><circle cx="832.7" cy="1009.9" r="4.3" fill="url(#se)"/><circle cx="863" cy="977.5" r="4.3" fill="url(#se)"/><circle cx="863" cy="1009.9" r="4.3" fill="url(#se)"/><circle cx="893.2" cy="977.5" r="4.3" fill="url(#se)"/><circle cx="893.2" cy="1009.9" r="4.3" fill="url(#se)"/><circle cx="923.5" cy="977.5" r="4.3" fill="url(#se)"/><circle cx="923.5" cy="1009.9" r="4.3" fill="url(#se)"/><circle cx="953.7" cy="977.5" r="4.3" fill="url(#se)"/><circle cx="953.7" cy="1009.9" r="4.3" fill="url(#se)"/><circle cx="984" cy="977.5" r="4.3" fill="url(#se)"/><circle cx="984" cy="1009.9" r="4.3" fill="url(#se)"/><circle cx="1014.2" cy="977.5" r="4.3" fill="url(#se)"/><circle cx="1014.2" cy="1009.9" r="4.3" fill="url(#se)"/><circle cx="852.9" cy="993.7" r="5.9" fill="url(#nb)"/><circle cx="883.1" cy="993.7" r="5.9" fill="url(#nb)"/><circle cx="913.4" cy="993.7" r="5.9" fill="url(#nb)"/><circle cx="943.6" cy="993.7" r="5.9" fill="url(#nb)"/><circle cx="973.9" cy="993.7" r="5.9" fill="url(#nb)"/><circle cx="1004.1" cy="993.7" r="5.9" fill="url(#nb)"/>
<g fill="none" stroke-linecap="butt"><path d="M852.9 1057.9L847.8 1049.8" stroke="#139a70" stroke-width="2.2"/><path d="M847.8 1049.8L842.8 1041.7" stroke="#cfa311" stroke-width="2.2"/><path d="M852.9 1057.9L863 1049.8" stroke="#35c79f" stroke-width="1.9"/><path d="M863 1049.8L873 1041.7" stroke="#e4c322" stroke-width="1.9"/><path d="M852.9 1057.9L847.8 1066" stroke="#139a70" stroke-width="2.2"/><path d="M847.8 1066L842.8 1074.1" stroke="#cfa311" stroke-width="2.2"/><path d="M852.9 1057.9L863 1066" stroke="#35c79f" stroke-width="1.9"/><path d="M863 1066L873 1074.1" stroke="#e4c322" stroke-width="1.9"/><path d="M883.1 1057.9L878.1 1049.8" stroke="#139a70" stroke-width="2.2"/><path d="M878.1 1049.8L873 1041.7" stroke="#cfa311" stroke-width="2.2"/><path d="M883.1 1057.9L893.2 1049.8" stroke="#35c79f" stroke-width="1.9"/><path d="M893.2 1049.8L903.3 1041.7" stroke="#e4c322" stroke-width="1.9"/><path d="M883.1 1057.9L878.1 1066" stroke="#139a70" stroke-width="2.2"/><path d="M878.1 1066L873 1074.1" stroke="#cfa311" stroke-width="2.2"/><path d="M883.1 1057.9L893.2 1066" stroke="#35c79f" stroke-width="1.9"/><path d="M893.2 1066L903.3 1074.1" stroke="#e4c322" stroke-width="1.9"/><path d="M913.4 1057.9L908.3 1049.8" stroke="#139a70" stroke-width="2.2"/><path d="M908.3 1049.8L903.3 1041.7" stroke="#cfa311" stroke-width="2.2"/><path d="M913.4 1057.9L923.5 1049.8" stroke="#35c79f" stroke-width="1.9"/><path d="M923.5 1049.8L933.5 1041.7" stroke="#e4c322" stroke-width="1.9"/><path d="M913.4 1057.9L908.3 1066" stroke="#139a70" stroke-width="2.2"/><path d="M908.3 1066L903.3 1074.1" stroke="#cfa311" stroke-width="2.2"/><path d="M913.4 1057.9L923.5 1066" stroke="#35c79f" stroke-width="1.9"/><path d="M923.5 1066L933.5 1074.1" stroke="#e4c322" stroke-width="1.9"/><path d="M943.6 1057.9L938.6 1049.8" stroke="#139a70" stroke-width="2.2"/><path d="M938.6 1049.8L933.5 1041.7" stroke="#cfa311" stroke-width="2.2"/><path d="M943.6 1057.9L953.7 1049.8" stroke="#35c79f" stroke-width="1.9"/><path d="M953.7 1049.8L963.8 1041.7" stroke="#e4c322" stroke-width="1.9"/><path d="M943.6 1057.9L938.6 1066" stroke="#139a70" stroke-width="2.2"/><path d="M938.6 1066L933.5 1074.1" stroke="#cfa311" stroke-width="2.2"/><path d="M943.6 1057.9L953.7 1066" stroke="#35c79f" stroke-width="1.9"/><path d="M953.7 1066L963.8 1074.1" stroke="#e4c322" stroke-width="1.9"/><path d="M973.9 1057.9L968.8 1049.8" stroke="#139a70" stroke-width="2.2"/><path d="M968.8 1049.8L963.8 1041.7" stroke="#cfa311" stroke-width="2.2"/><path d="M973.9 1057.9L984 1049.8" stroke="#35c79f" stroke-width="1.9"/><path d="M984 1049.8L994 1041.7" stroke="#e4c322" stroke-width="1.9"/><path d="M973.9 1057.9L968.8 1066" stroke="#139a70" stroke-width="2.2"/><path d="M968.8 1066L963.8 1074.1" stroke="#cfa311" stroke-width="2.2"/><path d="M973.9 1057.9L984 1066" stroke="#35c79f" stroke-width="1.9"/><path d="M984 1066L994 1074.1" stroke="#e4c322" stroke-width="1.9"/><path d="M1004.1 1057.9L999.1 1049.8" stroke="#139a70" stroke-width="2.2"/><path d="M999.1 1049.8L994 1041.7" stroke="#cfa311" stroke-width="2.2"/><path d="M1004.1 1057.9L1014.2 1049.8" stroke="#35c79f" stroke-width="1.9"/><path d="M1014.2 1049.8L1024.3 1041.7" stroke="#e4c322" stroke-width="1.9"/><path d="M1004.1 1057.9L999.1 1066" stroke="#139a70" stroke-width="2.2"/><path d="M999.1 1066L994 1074.1" stroke="#cfa311" stroke-width="2.2"/><path d="M1004.1 1057.9L1014.2 1066" stroke="#35c79f" stroke-width="1.9"/><path d="M1014.2 1066L1024.3 1074.1" stroke="#e4c322" stroke-width="1.9"/></g><circle cx="842.8" cy="1041.7" r="4.3" fill="url(#se)"/><circle cx="842.8" cy="1074.1" r="4.3" fill="url(#se)"/><circle cx="873" cy="1041.7" r="4.3" fill="url(#se)"/><circle cx="873" cy="1074.1" r="4.3" fill="url(#se)"/><circle cx="903.3" cy="1041.7" r="4.3" fill="url(#se)"/><circle cx="903.3" cy="1074.1" r="4.3" fill="url(#se)"/><circle cx="933.5" cy="1041.7" r="4.3" fill="url(#se)"/><circle cx="933.5" cy="1074.1" r="4.3" fill="url(#se)"/><circle cx="963.8" cy="1041.7" r="4.3" fill="url(#se)"/><circle cx="963.8" cy="1074.1" r="4.3" fill="url(#se)"/><circle cx="994" cy="1041.7" r="4.3" fill="url(#se)"/><circle cx="994" cy="1074.1" r="4.3" fill="url(#se)"/><circle cx="1024.3" cy="1041.7" r="4.3" fill="url(#se)"/><circle cx="1024.3" cy="1074.1" r="4.3" fill="url(#se)"/><circle cx="852.9" cy="1057.9" r="5.9" fill="url(#nb)"/><circle cx="883.1" cy="1057.9" r="5.9" fill="url(#nb)"/><circle cx="913.4" cy="1057.9" r="5.9" fill="url(#nb)"/><circle cx="943.6" cy="1057.9" r="5.9" fill="url(#nb)"/><circle cx="973.9" cy="1057.9" r="5.9" fill="url(#nb)"/><circle cx="1004.1" cy="1057.9" r="5.9" fill="url(#nb)"/>
<g fill="none" stroke-linecap="butt"><path d="M852.9 1121.2L842.8 1113.1" stroke="#35c79f" stroke-width="1.9"/><path d="M842.8 1113.1L832.7 1105" stroke="#e4c322" stroke-width="1.9"/><path d="M852.9 1121.2L857.9 1113.1" stroke="#139a70" stroke-width="2.2"/><path d="M857.9 1113.1L863 1105" stroke="#cfa311" stroke-width="2.2"/><path d="M852.9 1121.2L842.8 1129.3" stroke="#35c79f" stroke-width="1.9"/><path d="M842.8 1129.3L832.7 1137.4" stroke="#e4c322" stroke-width="1.9"/><path d="M852.9 1121.2L857.9 1129.3" stroke="#139a70" stroke-width="2.2"/><path d="M857.9 1129.3L863 1137.4" stroke="#cfa311" stroke-width="2.2"/><path d="M883.1 1121.2L873 1113.1" stroke="#35c79f" stroke-width="1.9"/><path d="M873 1113.1L863 1105" stroke="#e4c322" stroke-width="1.9"/><path d="M883.1 1121.2L888.2 1113.1" stroke="#139a70" stroke-width="2.2"/><path d="M888.2 1113.1L893.2 1105" stroke="#cfa311" stroke-width="2.2"/><path d="M883.1 1121.2L873 1129.3" stroke="#35c79f" stroke-width="1.9"/><path d="M873 1129.3L863 1137.4" stroke="#e4c322" stroke-width="1.9"/><path d="M883.1 1121.2L888.2 1129.3" stroke="#139a70" stroke-width="2.2"/><path d="M888.2 1129.3L893.2 1137.4" stroke="#cfa311" stroke-width="2.2"/><path d="M913.4 1121.2L903.3 1113.1" stroke="#35c79f" stroke-width="1.9"/><path d="M903.3 1113.1L893.2 1105" stroke="#e4c322" stroke-width="1.9"/><path d="M913.4 1121.2L918.4 1113.1" stroke="#139a70" stroke-width="2.2"/><path d="M918.4 1113.1L923.5 1105" stroke="#cfa311" stroke-width="2.2"/><path d="M913.4 1121.2L903.3 1129.3" stroke="#35c79f" stroke-width="1.9"/><path d="M903.3 1129.3L893.2 1137.4" stroke="#e4c322" stroke-width="1.9"/><path d="M913.4 1121.2L918.4 1129.3" stroke="#139a70" stroke-width="2.2"/><path d="M918.4 1129.3L923.5 1137.4" stroke="#cfa311" stroke-width="2.2"/><path d="M943.6 1121.2L933.5 1113.1" stroke="#35c79f" stroke-width="1.9"/><path d="M933.5 1113.1L923.5 1105" stroke="#e4c322" stroke-width="1.9"/><path d="M943.6 1121.2L948.7 1113.1" stroke="#139a70" stroke-width="2.2"/><path d="M948.7 1113.1L953.7 1105" stroke="#cfa311" stroke-width="2.2"/><path d="M943.6 1121.2L933.5 1129.3" stroke="#35c79f" stroke-width="1.9"/><path d="M933.5 1129.3L923.5 1137.4" stroke="#e4c322" stroke-width="1.9"/><path d="M943.6 1121.2L948.7 1129.3" stroke="#139a70" stroke-width="2.2"/><path d="M948.7 1129.3L953.7 1137.4" stroke="#cfa311" stroke-width="2.2"/><path d="M973.9 1121.2L963.8 1113.1" stroke="#35c79f" stroke-width="1.9"/><path d="M963.8 1113.1L953.7 1105" stroke="#e4c322" stroke-width="1.9"/><path d="M973.9 1121.2L978.9 1113.1" stroke="#139a70" stroke-width="2.2"/><path d="M978.9 1113.1L984 1105" stroke="#cfa311" stroke-width="2.2"/><path d="M973.9 1121.2L963.8 1129.3" stroke="#35c79f" stroke-width="1.9"/><path d="M963.8 1129.3L953.7 1137.4" stroke="#e4c322" stroke-width="1.9"/><path d="M973.9 1121.2L978.9 1129.3" stroke="#139a70" stroke-width="2.2"/><path d="M978.9 1129.3L984 1137.4" stroke="#cfa311" stroke-width="2.2"/><path d="M1004.1 1121.2L994 1113.1" stroke="#35c79f" stroke-width="1.9"/><path d="M994 1113.1L984 1105" stroke="#e4c322" stroke-width="1.9"/><path d="M1004.1 1121.2L1009.2 1113.1" stroke="#139a70" stroke-width="2.2"/><path d="M1009.2 1113.1L1014.2 1105" stroke="#cfa311" stroke-width="2.2"/><path d="M1004.1 1121.2L994 1129.3" stroke="#35c79f" stroke-width="1.9"/><path d="M994 1129.3L984 1137.4" stroke="#e4c322" stroke-width="1.9"/><path d="M1004.1 1121.2L1009.2 1129.3" stroke="#139a70" stroke-width="2.2"/><path d="M1009.2 1129.3L1014.2 1137.4" stroke="#cfa311" stroke-width="2.2"/></g><circle cx="832.7" cy="1105" r="4.3" fill="url(#se)"/><circle cx="832.7" cy="1137.4" r="4.3" fill="url(#se)"/><circle cx="863" cy="1105" r="4.3" fill="url(#se)"/><circle cx="863" cy="1137.4" r="4.3" fill="url(#se)"/><circle cx="893.2" cy="1105" r="4.3" fill="url(#se)"/><circle cx="893.2" cy="1137.4" r="4.3" fill="url(#se)"/><circle cx="923.5" cy="1105" r="4.3" fill="url(#se)"/><circle cx="923.5" cy="1137.4" r="4.3" fill="url(#se)"/><circle cx="953.7" cy="1105" r="4.3" fill="url(#se)"/><circle cx="953.7" cy="1137.4" r="4.3" fill="url(#se)"/><circle cx="984" cy="1105" r="4.3" fill="url(#se)"/><circle cx="984" cy="1137.4" r="4.3" fill="url(#se)"/><circle cx="1014.2" cy="1105" r="4.3" fill="url(#se)"/><circle cx="1014.2" cy="1137.4" r="4.3" fill="url(#se)"/><circle cx="852.9" cy="1121.2" r="5.9" fill="url(#nb)"/><circle cx="883.1" cy="1121.2" r="5.9" fill="url(#nb)"/><circle cx="913.4" cy="1121.2" r="5.9" fill="url(#nb)"/><circle cx="943.6" cy="1121.2" r="5.9" fill="url(#nb)"/><circle cx="973.9" cy="1121.2" r="5.9" fill="url(#nb)"/><circle cx="1004.1" cy="1121.2" r="5.9" fill="url(#nb)"/>
<rect x="1076.5" y="768.8" width="242.8" height="385.1" fill="#fff" stroke="#000" stroke-width="4.1" stroke-linejoin="round"/>
<g filter="url(#bl)">
<rect x="1101.7" y="828.8" width="198.1" height="9" rx="3" fill="#b5bff8"/>
<rect x="1097.1" y="893" width="197.8" height="9" rx="3" fill="#b5bff8"/>
<rect x="1097.1" y="957.3" width="197.8" height="9" rx="3" fill="#b5bff8"/>
<rect x="1096.3" y="1020.8" width="198.6" height="9" rx="3" fill="#b5bff8"/>
<rect x="1096.3" y="1084.8" width="198.6" height="9" rx="3" fill="#b5bff8"/>
</g>
<g fill="none" stroke-linecap="butt"><path d="M1135.9 802.1L1125.7 794" stroke="#35c79f" stroke-width="1.9"/><path d="M1125.7 794L1115.4 785.9" stroke="#e4c322" stroke-width="1.9"/><path d="M1135.9 802.1L1141.1 794" stroke="#139a70" stroke-width="2.2"/><path d="M1141.1 794L1146.2 785.9" stroke="#cfa311" stroke-width="2.2"/><path d="M1135.9 802.1L1125.7 810.2" stroke="#35c79f" stroke-width="1.9"/><path d="M1125.7 810.2L1115.4 818.3" stroke="#e4c322" stroke-width="1.9"/><path d="M1135.9 802.1L1141.1 810.2" stroke="#139a70" stroke-width="2.2"/><path d="M1141.1 810.2L1146.2 818.3" stroke="#cfa311" stroke-width="2.2"/><path d="M1166.7 802.1L1156.5 794" stroke="#35c79f" stroke-width="1.9"/><path d="M1156.5 794L1146.2 785.9" stroke="#e4c322" stroke-width="1.9"/><path d="M1166.7 802.1L1171.9 794" stroke="#139a70" stroke-width="2.2"/><path d="M1171.9 794L1177 785.9" stroke="#cfa311" stroke-width="2.2"/><path d="M1166.7 802.1L1156.5 810.2" stroke="#35c79f" stroke-width="1.9"/><path d="M1156.5 810.2L1146.2 818.3" stroke="#e4c322" stroke-width="1.9"/><path d="M1166.7 802.1L1171.9 810.2" stroke="#139a70" stroke-width="2.2"/><path d="M1171.9 810.2L1177 818.3" stroke="#cfa311" stroke-width="2.2"/><path d="M1197.5 802.1L1187.3 794" stroke="#35c79f" stroke-width="1.9"/><path d="M1187.3 794L1177 785.9" stroke="#e4c322" stroke-width="1.9"/><path d="M1197.5 802.1L1202.7 794" stroke="#139a70" stroke-width="2.2"/><path d="M1202.7 794L1207.8 785.9" stroke="#cfa311" stroke-width="2.2"/><path d="M1197.5 802.1L1187.3 810.2" stroke="#35c79f" stroke-width="1.9"/><path d="M1187.3 810.2L1177 818.3" stroke="#e4c322" stroke-width="1.9"/><path d="M1197.5 802.1L1202.7 810.2" stroke="#139a70" stroke-width="2.2"/><path d="M1202.7 810.2L1207.8 818.3" stroke="#cfa311" stroke-width="2.2"/><path d="M1228.3 802.1L1218.1 794" stroke="#35c79f" stroke-width="1.9"/><path d="M1218.1 794L1207.8 785.9" stroke="#e4c322" stroke-width="1.9"/><path d="M1228.3 802.1L1233.5 794" stroke="#139a70" stroke-width="2.2"/><path d="M1233.5 794L1238.6 785.9" stroke="#cfa311" stroke-width="2.2"/><path d="M1228.3 802.1L1218.1 810.2" stroke="#35c79f" stroke-width="1.9"/><path d="M1218.1 810.2L1207.8 818.3" stroke="#e4c322" stroke-width="1.9"/><path d="M1228.3 802.1L1233.5 810.2" stroke="#139a70" stroke-width="2.2"/><path d="M1233.5 810.2L1238.6 818.3" stroke="#cfa311" stroke-width="2.2"/><path d="M1259.1 802.1L1248.9 794" stroke="#35c79f" stroke-width="1.9"/><path d="M1248.9 794L1238.6 785.9" stroke="#e4c322" stroke-width="1.9"/><path d="M1259.1 802.1L1264.3 794" stroke="#139a70" stroke-width="2.2"/><path d="M1264.3 794L1269.4 785.9" stroke="#cfa311" stroke-width="2.2"/><path d="M1259.1 802.1L1248.9 810.2" stroke="#35c79f" stroke-width="1.9"/><path d="M1248.9 810.2L1238.6 818.3" stroke="#e4c322" stroke-width="1.9"/><path d="M1259.1 802.1L1264.3 810.2" stroke="#139a70" stroke-width="2.2"/><path d="M1264.3 810.2L1269.4 818.3" stroke="#cfa311" stroke-width="2.2"/><path d="M1289.9 802.1L1279.7 794" stroke="#35c79f" stroke-width="1.9"/><path d="M1279.7 794L1269.4 785.9" stroke="#e4c322" stroke-width="1.9"/><path d="M1289.9 802.1L1295.1 794" stroke="#139a70" stroke-width="2.2"/><path d="M1295.1 794L1300.2 785.9" stroke="#cfa311" stroke-width="2.2"/><path d="M1289.9 802.1L1279.7 810.2" stroke="#35c79f" stroke-width="1.9"/><path d="M1279.7 810.2L1269.4 818.3" stroke="#e4c322" stroke-width="1.9"/><path d="M1289.9 802.1L1295.1 810.2" stroke="#139a70" stroke-width="2.2"/><path d="M1295.1 810.2L1300.2 818.3" stroke="#cfa311" stroke-width="2.2"/></g><circle cx="1115.4" cy="785.9" r="4.3" fill="url(#se)"/><circle cx="1115.4" cy="818.3" r="4.3" fill="url(#se)"/><circle cx="1146.2" cy="785.9" r="4.3" fill="url(#se)"/><circle cx="1146.2" cy="818.3" r="4.3" fill="url(#se)"/><circle cx="1177" cy="785.9" r="4.3" fill="url(#se)"/><circle cx="1177" cy="818.3" r="4.3" fill="url(#se)"/><circle cx="1207.8" cy="785.9" r="4.3" fill="url(#se)"/><circle cx="1207.8" cy="818.3" r="4.3" fill="url(#se)"/><circle cx="1238.6" cy="785.9" r="4.3" fill="url(#se)"/><circle cx="1238.6" cy="818.3" r="4.3" fill="url(#se)"/><circle cx="1269.4" cy="785.9" r="4.3" fill="url(#se)"/><circle cx="1269.4" cy="818.3" r="4.3" fill="url(#se)"/><circle cx="1300.2" cy="785.9" r="4.3" fill="url(#se)"/><circle cx="1300.2" cy="818.3" r="4.3" fill="url(#se)"/><circle cx="1135.9" cy="802.1" r="5.9" fill="url(#nb)"/><circle cx="1166.7" cy="802.1" r="5.9" fill="url(#nb)"/><circle cx="1197.5" cy="802.1" r="5.9" fill="url(#nb)"/><circle cx="1228.3" cy="802.1" r="5.9" fill="url(#nb)"/><circle cx="1259.1" cy="802.1" r="5.9" fill="url(#nb)"/><circle cx="1289.9" cy="802.1" r="5.9" fill="url(#nb)"/>
<g fill="none" stroke-linecap="butt"><path d="M1124.8 866.7L1114.6 858.6" stroke="#35c79f" stroke-width="1.9"/><path d="M1114.6 858.6L1104.3 850.5" stroke="#e4c322" stroke-width="1.9"/><path d="M1124.8 866.7L1130 858.6" stroke="#139a70" stroke-width="2.2"/><path d="M1130 858.6L1135.1 850.5" stroke="#cfa311" stroke-width="2.2"/><path d="M1124.8 866.7L1114.6 874.8" stroke="#35c79f" stroke-width="1.9"/><path d="M1114.6 874.8L1104.3 882.9" stroke="#e4c322" stroke-width="1.9"/><path d="M1124.8 866.7L1130 874.8" stroke="#139a70" stroke-width="2.2"/><path d="M1130 874.8L1135.1 882.9" stroke="#cfa311" stroke-width="2.2"/><path d="M1155.6 866.7L1145.4 858.6" stroke="#35c79f" stroke-width="1.9"/><path d="M1145.4 858.6L1135.1 850.5" stroke="#e4c322" stroke-width="1.9"/><path d="M1155.6 866.7L1160.8 858.6" stroke="#139a70" stroke-width="2.2"/><path d="M1160.8 858.6L1165.9 850.5" stroke="#cfa311" stroke-width="2.2"/><path d="M1155.6 866.7L1145.4 874.8" stroke="#35c79f" stroke-width="1.9"/><path d="M1145.4 874.8L1135.1 882.9" stroke="#e4c322" stroke-width="1.9"/><path d="M1155.6 866.7L1160.8 874.8" stroke="#139a70" stroke-width="2.2"/><path d="M1160.8 874.8L1165.9 882.9" stroke="#cfa311" stroke-width="2.2"/><path d="M1186.4 866.7L1176.2 858.6" stroke="#35c79f" stroke-width="1.9"/><path d="M1176.2 858.6L1165.9 850.5" stroke="#e4c322" stroke-width="1.9"/><path d="M1186.4 866.7L1191.6 858.6" stroke="#139a70" stroke-width="2.2"/><path d="M1191.6 858.6L1196.7 850.5" stroke="#cfa311" stroke-width="2.2"/><path d="M1186.4 866.7L1176.2 874.8" stroke="#35c79f" stroke-width="1.9"/><path d="M1176.2 874.8L1165.9 882.9" stroke="#e4c322" stroke-width="1.9"/><path d="M1186.4 866.7L1191.6 874.8" stroke="#139a70" stroke-width="2.2"/><path d="M1191.6 874.8L1196.7 882.9" stroke="#cfa311" stroke-width="2.2"/><path d="M1217.2 866.7L1207 858.6" stroke="#35c79f" stroke-width="1.9"/><path d="M1207 858.6L1196.7 850.5" stroke="#e4c322" stroke-width="1.9"/><path d="M1217.2 866.7L1222.4 858.6" stroke="#139a70" stroke-width="2.2"/><path d="M1222.4 858.6L1227.5 850.5" stroke="#cfa311" stroke-width="2.2"/><path d="M1217.2 866.7L1207 874.8" stroke="#35c79f" stroke-width="1.9"/><path d="M1207 874.8L1196.7 882.9" stroke="#e4c322" stroke-width="1.9"/><path d="M1217.2 866.7L1222.4 874.8" stroke="#139a70" stroke-width="2.2"/><path d="M1222.4 874.8L1227.5 882.9" stroke="#cfa311" stroke-width="2.2"/><path d="M1248 866.7L1237.8 858.6" stroke="#35c79f" stroke-width="1.9"/><path d="M1237.8 858.6L1227.5 850.5" stroke="#e4c322" stroke-width="1.9"/><path d="M1248 866.7L1253.2 858.6" stroke="#139a70" stroke-width="2.2"/><path d="M1253.2 858.6L1258.3 850.5" stroke="#cfa311" stroke-width="2.2"/><path d="M1248 866.7L1237.8 874.8" stroke="#35c79f" stroke-width="1.9"/><path d="M1237.8 874.8L1227.5 882.9" stroke="#e4c322" stroke-width="1.9"/><path d="M1248 866.7L1253.2 874.8" stroke="#139a70" stroke-width="2.2"/><path d="M1253.2 874.8L1258.3 882.9" stroke="#cfa311" stroke-width="2.2"/><path d="M1278.8 866.7L1268.6 858.6" stroke="#35c79f" stroke-width="1.9"/><path d="M1268.6 858.6L1258.3 850.5" stroke="#e4c322" stroke-width="1.9"/><path d="M1278.8 866.7L1284 858.6" stroke="#139a70" stroke-width="2.2"/><path d="M1284 858.6L1289.1 850.5" stroke="#cfa311" stroke-width="2.2"/><path d="M1278.8 866.7L1268.6 874.8" stroke="#35c79f" stroke-width="1.9"/><path d="M1268.6 874.8L1258.3 882.9" stroke="#e4c322" stroke-width="1.9"/><path d="M1278.8 866.7L1284 874.8" stroke="#139a70" stroke-width="2.2"/><path d="M1284 874.8L1289.1 882.9" stroke="#cfa311" stroke-width="2.2"/></g><circle cx="1104.3" cy="850.5" r="4.3" fill="url(#se)"/><circle cx="1104.3" cy="882.9" r="4.3" fill="url(#se)"/><circle cx="1135.1" cy="850.5" r="4.3" fill="url(#se)"/><circle cx="1135.1" cy="882.9" r="4.3" fill="url(#se)"/><circle cx="1165.9" cy="850.5" r="4.3" fill="url(#se)"/><circle cx="1165.9" cy="882.9" r="4.3" fill="url(#se)"/><circle cx="1196.7" cy="850.5" r="4.3" fill="url(#se)"/><circle cx="1196.7" cy="882.9" r="4.3" fill="url(#se)"/><circle cx="1227.5" cy="850.5" r="4.3" fill="url(#se)"/><circle cx="1227.5" cy="882.9" r="4.3" fill="url(#se)"/><circle cx="1258.3" cy="850.5" r="4.3" fill="url(#se)"/><circle cx="1258.3" cy="882.9" r="4.3" fill="url(#se)"/><circle cx="1289.1" cy="850.5" r="4.3" fill="url(#se)"/><circle cx="1289.1" cy="882.9" r="4.3" fill="url(#se)"/><circle cx="1124.8" cy="866.7" r="5.9" fill="url(#nb)"/><circle cx="1155.6" cy="866.7" r="5.9" fill="url(#nb)"/><circle cx="1186.4" cy="866.7" r="5.9" fill="url(#nb)"/><circle cx="1217.2" cy="866.7" r="5.9" fill="url(#nb)"/><circle cx="1248" cy="866.7" r="5.9" fill="url(#nb)"/><circle cx="1278.8" cy="866.7" r="5.9" fill="url(#nb)"/>
<g fill="none" stroke-linecap="butt"><path d="M1115.3 929.8L1105.1 921.7" stroke="#35c79f" stroke-width="1.9"/><path d="M1105.1 921.7L1094.8 913.6" stroke="#e4c322" stroke-width="1.9"/><path d="M1115.3 929.8L1120.5 921.7" stroke="#139a70" stroke-width="2.2"/><path d="M1120.5 921.7L1125.6 913.6" stroke="#cfa311" stroke-width="2.2"/><path d="M1115.3 929.8L1105.1 937.9" stroke="#35c79f" stroke-width="1.9"/><path d="M1105.1 937.9L1094.8 946" stroke="#e4c322" stroke-width="1.9"/><path d="M1115.3 929.8L1120.5 937.9" stroke="#139a70" stroke-width="2.2"/><path d="M1120.5 937.9L1125.6 946" stroke="#cfa311" stroke-width="2.2"/><path d="M1146.1 929.8L1135.9 921.7" stroke="#35c79f" stroke-width="1.9"/><path d="M1135.9 921.7L1125.6 913.6" stroke="#e4c322" stroke-width="1.9"/><path d="M1146.1 929.8L1151.3 921.7" stroke="#139a70" stroke-width="2.2"/><path d="M1151.3 921.7L1156.4 913.6" stroke="#cfa311" stroke-width="2.2"/><path d="M1146.1 929.8L1135.9 937.9" stroke="#35c79f" stroke-width="1.9"/><path d="M1135.9 937.9L1125.6 946" stroke="#e4c322" stroke-width="1.9"/><path d="M1146.1 929.8L1151.3 937.9" stroke="#139a70" stroke-width="2.2"/><path d="M1151.3 937.9L1156.4 946" stroke="#cfa311" stroke-width="2.2"/><path d="M1176.9 929.8L1166.7 921.7" stroke="#35c79f" stroke-width="1.9"/><path d="M1166.7 921.7L1156.4 913.6" stroke="#e4c322" stroke-width="1.9"/><path d="M1176.9 929.8L1182.1 921.7" stroke="#139a70" stroke-width="2.2"/><path d="M1182.1 921.7L1187.2 913.6" stroke="#cfa311" stroke-width="2.2"/><path d="M1176.9 929.8L1166.7 937.9" stroke="#35c79f" stroke-width="1.9"/><path d="M1166.7 937.9L1156.4 946" stroke="#e4c322" stroke-width="1.9"/><path d="M1176.9 929.8L1182.1 937.9" stroke="#139a70" stroke-width="2.2"/><path d="M1182.1 937.9L1187.2 946" stroke="#cfa311" stroke-width="2.2"/><path d="M1207.7 929.8L1197.5 921.7" stroke="#35c79f" stroke-width="1.9"/><path d="M1197.5 921.7L1187.2 913.6" stroke="#e4c322" stroke-width="1.9"/><path d="M1207.7 929.8L1212.9 921.7" stroke="#139a70" stroke-width="2.2"/><path d="M1212.9 921.7L1218 913.6" stroke="#cfa311" stroke-width="2.2"/><path d="M1207.7 929.8L1197.5 937.9" stroke="#35c79f" stroke-width="1.9"/><path d="M1197.5 937.9L1187.2 946" stroke="#e4c322" stroke-width="1.9"/><path d="M1207.7 929.8L1212.9 937.9" stroke="#139a70" stroke-width="2.2"/><path d="M1212.9 937.9L1218 946" stroke="#cfa311" stroke-width="2.2"/><path d="M1238.5 929.8L1228.3 921.7" stroke="#35c79f" stroke-width="1.9"/><path d="M1228.3 921.7L1218 913.6" stroke="#e4c322" stroke-width="1.9"/><path d="M1238.5 929.8L1243.7 921.7" stroke="#139a70" stroke-width="2.2"/><path d="M1243.7 921.7L1248.8 913.6" stroke="#cfa311" stroke-width="2.2"/><path d="M1238.5 929.8L1228.3 937.9" stroke="#35c79f" stroke-width="1.9"/><path d="M1228.3 937.9L1218 946" stroke="#e4c322" stroke-width="1.9"/><path d="M1238.5 929.8L1243.7 937.9" stroke="#139a70" stroke-width="2.2"/><path d="M1243.7 937.9L1248.8 946" stroke="#cfa311" stroke-width="2.2"/><path d="M1269.3 929.8L1259.1 921.7" stroke="#35c79f" stroke-width="1.9"/><path d="M1259.1 921.7L1248.8 913.6" stroke="#e4c322" stroke-width="1.9"/><path d="M1269.3 929.8L1274.5 921.7" stroke="#139a70" stroke-width="2.2"/><path d="M1274.5 921.7L1279.6 913.6" stroke="#cfa311" stroke-width="2.2"/><path d="M1269.3 929.8L1259.1 937.9" stroke="#35c79f" stroke-width="1.9"/><path d="M1259.1 937.9L1248.8 946" stroke="#e4c322" stroke-width="1.9"/><path d="M1269.3 929.8L1274.5 937.9" stroke="#139a70" stroke-width="2.2"/><path d="M1274.5 937.9L1279.6 946" stroke="#cfa311" stroke-width="2.2"/></g><circle cx="1094.8" cy="913.6" r="4.3" fill="url(#se)"/><circle cx="1094.8" cy="946" r="4.3" fill="url(#se)"/><circle cx="1125.6" cy="913.6" r="4.3" fill="url(#se)"/><circle cx="1125.6" cy="946" r="4.3" fill="url(#se)"/><circle cx="1156.4" cy="913.6" r="4.3" fill="url(#se)"/><circle cx="1156.4" cy="946" r="4.3" fill="url(#se)"/><circle cx="1187.2" cy="913.6" r="4.3" fill="url(#se)"/><circle cx="1187.2" cy="946" r="4.3" fill="url(#se)"/><circle cx="1218" cy="913.6" r="4.3" fill="url(#se)"/><circle cx="1218" cy="946" r="4.3" fill="url(#se)"/><circle cx="1248.8" cy="913.6" r="4.3" fill="url(#se)"/><circle cx="1248.8" cy="946" r="4.3" fill="url(#se)"/><circle cx="1279.6" cy="913.6" r="4.3" fill="url(#se)"/><circle cx="1279.6" cy="946" r="4.3" fill="url(#se)"/><circle cx="1115.3" cy="929.8" r="5.9" fill="url(#nb)"/><circle cx="1146.1" cy="929.8" r="5.9" fill="url(#nb)"/><circle cx="1176.9" cy="929.8" r="5.9" fill="url(#nb)"/><circle cx="1207.7" cy="929.8" r="5.9" fill="url(#nb)"/><circle cx="1238.5" cy="929.8" r="5.9" fill="url(#nb)"/><circle cx="1269.3" cy="929.8" r="5.9" fill="url(#nb)"/>
<g fill="none" stroke-linecap="butt"><path d="M1135.9 993.7L1125.7 985.6" stroke="#35c79f" stroke-width="1.9"/><path d="M1125.7 985.6L1115.4 977.5" stroke="#e4c322" stroke-width="1.9"/><path d="M1135.9 993.7L1141.1 985.6" stroke="#139a70" stroke-width="2.2"/><path d="M1141.1 985.6L1146.2 977.5" stroke="#cfa311" stroke-width="2.2"/><path d="M1135.9 993.7L1125.7 1001.8" stroke="#35c79f" stroke-width="1.9"/><path d="M1125.7 1001.8L1115.4 1009.9" stroke="#e4c322" stroke-width="1.9"/><path d="M1135.9 993.7L1141.1 1001.8" stroke="#139a70" stroke-width="2.2"/><path d="M1141.1 1001.8L1146.2 1009.9" stroke="#cfa311" stroke-width="2.2"/><path d="M1166.7 993.7L1156.5 985.6" stroke="#35c79f" stroke-width="1.9"/><path d="M1156.5 985.6L1146.2 977.5" stroke="#e4c322" stroke-width="1.9"/><path d="M1166.7 993.7L1171.9 985.6" stroke="#139a70" stroke-width="2.2"/><path d="M1171.9 985.6L1177 977.5" stroke="#cfa311" stroke-width="2.2"/><path d="M1166.7 993.7L1156.5 1001.8" stroke="#35c79f" stroke-width="1.9"/><path d="M1156.5 1001.8L1146.2 1009.9" stroke="#e4c322" stroke-width="1.9"/><path d="M1166.7 993.7L1171.9 1001.8" stroke="#139a70" stroke-width="2.2"/><path d="M1171.9 1001.8L1177 1009.9" stroke="#cfa311" stroke-width="2.2"/><path d="M1197.5 993.7L1187.3 985.6" stroke="#35c79f" stroke-width="1.9"/><path d="M1187.3 985.6L1177 977.5" stroke="#e4c322" stroke-width="1.9"/><path d="M1197.5 993.7L1202.7 985.6" stroke="#139a70" stroke-width="2.2"/><path d="M1202.7 985.6L1207.8 977.5" stroke="#cfa311" stroke-width="2.2"/><path d="M1197.5 993.7L1187.3 1001.8" stroke="#35c79f" stroke-width="1.9"/><path d="M1187.3 1001.8L1177 1009.9" stroke="#e4c322" stroke-width="1.9"/><path d="M1197.5 993.7L1202.7 1001.8" stroke="#139a70" stroke-width="2.2"/><path d="M1202.7 1001.8L1207.8 1009.9" stroke="#cfa311" stroke-width="2.2"/><path d="M1228.3 993.7L1218.1 985.6" stroke="#35c79f" stroke-width="1.9"/><path d="M1218.1 985.6L1207.8 977.5" stroke="#e4c322" stroke-width="1.9"/><path d="M1228.3 993.7L1233.5 985.6" stroke="#139a70" stroke-width="2.2"/><path d="M1233.5 985.6L1238.6 977.5" stroke="#cfa311" stroke-width="2.2"/><path d="M1228.3 993.7L1218.1 1001.8" stroke="#35c79f" stroke-width="1.9"/><path d="M1218.1 1001.8L1207.8 1009.9" stroke="#e4c322" stroke-width="1.9"/><path d="M1228.3 993.7L1233.5 1001.8" stroke="#139a70" stroke-width="2.2"/><path d="M1233.5 1001.8L1238.6 1009.9" stroke="#cfa311" stroke-width="2.2"/><path d="M1259.1 993.7L1248.9 985.6" stroke="#35c79f" stroke-width="1.9"/><path d="M1248.9 985.6L1238.6 977.5" stroke="#e4c322" stroke-width="1.9"/><path d="M1259.1 993.7L1264.3 985.6" stroke="#139a70" stroke-width="2.2"/><path d="M1264.3 985.6L1269.4 977.5" stroke="#cfa311" stroke-width="2.2"/><path d="M1259.1 993.7L1248.9 1001.8" stroke="#35c79f" stroke-width="1.9"/><path d="M1248.9 1001.8L1238.6 1009.9" stroke="#e4c322" stroke-width="1.9"/><path d="M1259.1 993.7L1264.3 1001.8" stroke="#139a70" stroke-width="2.2"/><path d="M1264.3 1001.8L1269.4 1009.9" stroke="#cfa311" stroke-width="2.2"/><path d="M1289.9 993.7L1279.7 985.6" stroke="#35c79f" stroke-width="1.9"/><path d="M1279.7 985.6L1269.4 977.5" stroke="#e4c322" stroke-width="1.9"/><path d="M1289.9 993.7L1295.1 985.6" stroke="#139a70" stroke-width="2.2"/><path d="M1295.1 985.6L1300.2 977.5" stroke="#cfa311" stroke-width="2.2"/><path d="M1289.9 993.7L1279.7 1001.8" stroke="#35c79f" stroke-width="1.9"/><path d="M1279.7 1001.8L1269.4 1009.9" stroke="#e4c322" stroke-width="1.9"/><path d="M1289.9 993.7L1295.1 1001.8" stroke="#139a70" stroke-width="2.2"/><path d="M1295.1 1001.8L1300.2 1009.9" stroke="#cfa311" stroke-width="2.2"/></g><circle cx="1115.4" cy="977.5" r="4.3" fill="url(#se)"/><circle cx="1115.4" cy="1009.9" r="4.3" fill="url(#se)"/><circle cx="1146.2" cy="977.5" r="4.3" fill="url(#se)"/><circle cx="1146.2" cy="1009.9" r="4.3" fill="url(#se)"/><circle cx="1177" cy="977.5" r="4.3" fill="url(#se)"/><circle cx="1177" cy="1009.9" r="4.3" fill="url(#se)"/><circle cx="1207.8" cy="977.5" r="4.3" fill="url(#se)"/><circle cx="1207.8" cy="1009.9" r="4.3" fill="url(#se)"/><circle cx="1238.6" cy="977.5" r="4.3" fill="url(#se)"/><circle cx="1238.6" cy="1009.9" r="4.3" fill="url(#se)"/><circle cx="1269.4" cy="977.5" r="4.3" fill="url(#se)"/><circle cx="1269.4" cy="1009.9" r="4.3" fill="url(#se)"/><circle cx="1300.2" cy="977.5" r="4.3" fill="url(#se)"/><circle cx="1300.2" cy="1009.9" r="4.3" fill="url(#se)"/><circle cx="1135.9" cy="993.7" r="5.9" fill="url(#nb)"/><circle cx="1166.7" cy="993.7" r="5.9" fill="url(#nb)"/><circle cx="1197.5" cy="993.7" r="5.9" fill="url(#nb)"/><circle cx="1228.3" cy="993.7" r="5.9" fill="url(#nb)"/><circle cx="1259.1" cy="993.7" r="5.9" fill="url(#nb)"/><circle cx="1289.9" cy="993.7" r="5.9" fill="url(#nb)"/>
<g fill="none" stroke-linecap="butt"><path d="M1124.8 1058.5L1114.6 1050.4" stroke="#35c79f" stroke-width="1.9"/><path d="M1114.6 1050.4L1104.3 1042.3" stroke="#e4c322" stroke-width="1.9"/><path d="M1124.8 1058.5L1130 1050.4" stroke="#139a70" stroke-width="2.2"/><path d="M1130 1050.4L1135.1 1042.3" stroke="#cfa311" stroke-width="2.2"/><path d="M1124.8 1058.5L1114.6 1066.6" stroke="#35c79f" stroke-width="1.9"/><path d="M1114.6 1066.6L1104.3 1074.7" stroke="#e4c322" stroke-width="1.9"/><path d="M1124.8 1058.5L1130 1066.6" stroke="#139a70" stroke-width="2.2"/><path d="M1130 1066.6L1135.1 1074.7" stroke="#cfa311" stroke-width="2.2"/><path d="M1155.6 1058.5L1145.4 1050.4" stroke="#35c79f" stroke-width="1.9"/><path d="M1145.4 1050.4L1135.1 1042.3" stroke="#e4c322" stroke-width="1.9"/><path d="M1155.6 1058.5L1160.8 1050.4" stroke="#139a70" stroke-width="2.2"/><path d="M1160.8 1050.4L1165.9 1042.3" stroke="#cfa311" stroke-width="2.2"/><path d="M1155.6 1058.5L1145.4 1066.6" stroke="#35c79f" stroke-width="1.9"/><path d="M1145.4 1066.6L1135.1 1074.7" stroke="#e4c322" stroke-width="1.9"/><path d="M1155.6 1058.5L1160.8 1066.6" stroke="#139a70" stroke-width="2.2"/><path d="M1160.8 1066.6L1165.9 1074.7" stroke="#cfa311" stroke-width="2.2"/><path d="M1186.4 1058.5L1176.2 1050.4" stroke="#35c79f" stroke-width="1.9"/><path d="M1176.2 1050.4L1165.9 1042.3" stroke="#e4c322" stroke-width="1.9"/><path d="M1186.4 1058.5L1191.6 1050.4" stroke="#139a70" stroke-width="2.2"/><path d="M1191.6 1050.4L1196.7 1042.3" stroke="#cfa311" stroke-width="2.2"/><path d="M1186.4 1058.5L1176.2 1066.6" stroke="#35c79f" stroke-width="1.9"/><path d="M1176.2 1066.6L1165.9 1074.7" stroke="#e4c322" stroke-width="1.9"/><path d="M1186.4 1058.5L1191.6 1066.6" stroke="#139a70" stroke-width="2.2"/><path d="M1191.6 1066.6L1196.7 1074.7" stroke="#cfa311" stroke-width="2.2"/><path d="M1217.2 1058.5L1207 1050.4" stroke="#35c79f" stroke-width="1.9"/><path d="M1207 1050.4L1196.7 1042.3" stroke="#e4c322" stroke-width="1.9"/><path d="M1217.2 1058.5L1222.4 1050.4" stroke="#139a70" stroke-width="2.2"/><path d="M1222.4 1050.4L1227.5 1042.3" stroke="#cfa311" stroke-width="2.2"/><path d="M1217.2 1058.5L1207 1066.6" stroke="#35c79f" stroke-width="1.9"/><path d="M1207 1066.6L1196.7 1074.7" stroke="#e4c322" stroke-width="1.9"/><path d="M1217.2 1058.5L1222.4 1066.6" stroke="#139a70" stroke-width="2.2"/><path d="M1222.4 1066.6L1227.5 1074.7" stroke="#cfa311" stroke-width="2.2"/><path d="M1248 1058.5L1237.8 1050.4" stroke="#35c79f" stroke-width="1.9"/><path d="M1237.8 1050.4L1227.5 1042.3" stroke="#e4c322" stroke-width="1.9"/><path d="M1248 1058.5L1253.2 1050.4" stroke="#139a70" stroke-width="2.2"/><path d="M1253.2 1050.4L1258.3 1042.3" stroke="#cfa311" stroke-width="2.2"/><path d="M1248 1058.5L1237.8 1066.6" stroke="#35c79f" stroke-width="1.9"/><path d="M1237.8 1066.6L1227.5 1074.7" stroke="#e4c322" stroke-width="1.9"/><path d="M1248 1058.5L1253.2 1066.6" stroke="#139a70" stroke-width="2.2"/><path d="M1253.2 1066.6L1258.3 1074.7" stroke="#cfa311" stroke-width="2.2"/><path d="M1278.8 1058.5L1268.6 1050.4" stroke="#35c79f" stroke-width="1.9"/><path d="M1268.6 1050.4L1258.3 1042.3" stroke="#e4c322" stroke-width="1.9"/><path d="M1278.8 1058.5L1284 1050.4" stroke="#139a70" stroke-width="2.2"/><path d="M1284 1050.4L1289.1 1042.3" stroke="#cfa311" stroke-width="2.2"/><path d="M1278.8 1058.5L1268.6 1066.6" stroke="#35c79f" stroke-width="1.9"/><path d="M1268.6 1066.6L1258.3 1074.7" stroke="#e4c322" stroke-width="1.9"/><path d="M1278.8 1058.5L1284 1066.6" stroke="#139a70" stroke-width="2.2"/><path d="M1284 1066.6L1289.1 1074.7" stroke="#cfa311" stroke-width="2.2"/></g><circle cx="1104.3" cy="1042.3" r="4.3" fill="url(#se)"/><circle cx="1104.3" cy="1074.7" r="4.3" fill="url(#se)"/><circle cx="1135.1" cy="1042.3" r="4.3" fill="url(#se)"/><circle cx="1135.1" cy="1074.7" r="4.3" fill="url(#se)"/><circle cx="1165.9" cy="1042.3" r="4.3" fill="url(#se)"/><circle cx="1165.9" cy="1074.7" r="4.3" fill="url(#se)"/><circle cx="1196.7" cy="1042.3" r="4.3" fill="url(#se)"/><circle cx="1196.7" cy="1074.7" r="4.3" fill="url(#se)"/><circle cx="1227.5" cy="1042.3" r="4.3" fill="url(#se)"/><circle cx="1227.5" cy="1074.7" r="4.3" fill="url(#se)"/><circle cx="1258.3" cy="1042.3" r="4.3" fill="url(#se)"/><circle cx="1258.3" cy="1074.7" r="4.3" fill="url(#se)"/><circle cx="1289.1" cy="1042.3" r="4.3" fill="url(#se)"/><circle cx="1289.1" cy="1074.7" r="4.3" fill="url(#se)"/><circle cx="1124.8" cy="1058.5" r="5.9" fill="url(#nb)"/><circle cx="1155.6" cy="1058.5" r="5.9" fill="url(#nb)"/><circle cx="1186.4" cy="1058.5" r="5.9" fill="url(#nb)"/><circle cx="1217.2" cy="1058.5" r="5.9" fill="url(#nb)"/><circle cx="1248" cy="1058.5" r="5.9" fill="url(#nb)"/><circle cx="1278.8" cy="1058.5" r="5.9" fill="url(#nb)"/>
<g fill="none" stroke-linecap="butt"><path d="M1115.3 1120.7L1105.1 1112.6" stroke="#35c79f" stroke-width="1.9"/><path d="M1105.1 1112.6L1094.8 1104.5" stroke="#e4c322" stroke-width="1.9"/><path d="M1115.3 1120.7L1120.5 1112.6" stroke="#139a70" stroke-width="2.2"/><path d="M1120.5 1112.6L1125.6 1104.5" stroke="#cfa311" stroke-width="2.2"/><path d="M1115.3 1120.7L1105.1 1128.8" stroke="#35c79f" stroke-width="1.9"/><path d="M1105.1 1128.8L1094.8 1136.9" stroke="#e4c322" stroke-width="1.9"/><path d="M1115.3 1120.7L1120.5 1128.8" stroke="#139a70" stroke-width="2.2"/><path d="M1120.5 1128.8L1125.6 1136.9" stroke="#cfa311" stroke-width="2.2"/><path d="M1146.1 1120.7L1135.9 1112.6" stroke="#35c79f" stroke-width="1.9"/><path d="M1135.9 1112.6L1125.6 1104.5" stroke="#e4c322" stroke-width="1.9"/><path d="M1146.1 1120.7L1151.3 1112.6" stroke="#139a70" stroke-width="2.2"/><path d="M1151.3 1112.6L1156.4 1104.5" stroke="#cfa311" stroke-width="2.2"/><path d="M1146.1 1120.7L1135.9 1128.8" stroke="#35c79f" stroke-width="1.9"/><path d="M1135.9 1128.8L1125.6 1136.9" stroke="#e4c322" stroke-width="1.9"/><path d="M1146.1 1120.7L1151.3 1128.8" stroke="#139a70" stroke-width="2.2"/><path d="M1151.3 1128.8L1156.4 1136.9" stroke="#cfa311" stroke-width="2.2"/><path d="M1176.9 1120.7L1166.7 1112.6" stroke="#35c79f" stroke-width="1.9"/><path d="M1166.7 1112.6L1156.4 1104.5" stroke="#e4c322" stroke-width="1.9"/><path d="M1176.9 1120.7L1182.1 1112.6" stroke="#139a70" stroke-width="2.2"/><path d="M1182.1 1112.6L1187.2 1104.5" stroke="#cfa311" stroke-width="2.2"/><path d="M1176.9 1120.7L1166.7 1128.8" stroke="#35c79f" stroke-width="1.9"/><path d="M1166.7 1128.8L1156.4 1136.9" stroke="#e4c322" stroke-width="1.9"/><path d="M1176.9 1120.7L1182.1 1128.8" stroke="#139a70" stroke-width="2.2"/><path d="M1182.1 1128.8L1187.2 1136.9" stroke="#cfa311" stroke-width="2.2"/><path d="M1207.7 1120.7L1197.5 1112.6" stroke="#35c79f" stroke-width="1.9"/><path d="M1197.5 1112.6L1187.2 1104.5" stroke="#e4c322" stroke-width="1.9"/><path d="M1207.7 1120.7L1212.9 1112.6" stroke="#139a70" stroke-width="2.2"/><path d="M1212.9 1112.6L1218 1104.5" stroke="#cfa311" stroke-width="2.2"/><path d="M1207.7 1120.7L1197.5 1128.8" stroke="#35c79f" stroke-width="1.9"/><path d="M1197.5 1128.8L1187.2 1136.9" stroke="#e4c322" stroke-width="1.9"/><path d="M1207.7 1120.7L1212.9 1128.8" stroke="#139a70" stroke-width="2.2"/><path d="M1212.9 1128.8L1218 1136.9" stroke="#cfa311" stroke-width="2.2"/><path d="M1238.5 1120.7L1228.3 1112.6" stroke="#35c79f" stroke-width="1.9"/><path d="M1228.3 1112.6L1218 1104.5" stroke="#e4c322" stroke-width="1.9"/><path d="M1238.5 1120.7L1243.7 1112.6" stroke="#139a70" stroke-width="2.2"/><path d="M1243.7 1112.6L1248.8 1104.5" stroke="#cfa311" stroke-width="2.2"/><path d="M1238.5 1120.7L1228.3 1128.8" stroke="#35c79f" stroke-width="1.9"/><path d="M1228.3 1128.8L1218 1136.9" stroke="#e4c322" stroke-width="1.9"/><path d="M1238.5 1120.7L1243.7 1128.8" stroke="#139a70" stroke-width="2.2"/><path d="M1243.7 1128.8L1248.8 1136.9" stroke="#cfa311" stroke-width="2.2"/><path d="M1269.3 1120.7L1259.1 1112.6" stroke="#35c79f" stroke-width="1.9"/><path d="M1259.1 1112.6L1248.8 1104.5" stroke="#e4c322" stroke-width="1.9"/><path d="M1269.3 1120.7L1274.5 1112.6" stroke="#139a70" stroke-width="2.2"/><path d="M1274.5 1112.6L1279.6 1104.5" stroke="#cfa311" stroke-width="2.2"/><path d="M1269.3 1120.7L1259.1 1128.8" stroke="#35c79f" stroke-width="1.9"/><path d="M1259.1 1128.8L1248.8 1136.9" stroke="#e4c322" stroke-width="1.9"/><path d="M1269.3 1120.7L1274.5 1128.8" stroke="#139a70" stroke-width="2.2"/><path d="M1274.5 1128.8L1279.6 1136.9" stroke="#cfa311" stroke-width="2.2"/></g><circle cx="1094.8" cy="1104.5" r="4.3" fill="url(#se)"/><circle cx="1094.8" cy="1136.9" r="4.3" fill="url(#se)"/><circle cx="1125.6" cy="1104.5" r="4.3" fill="url(#se)"/><circle cx="1125.6" cy="1136.9" r="4.3" fill="url(#se)"/><circle cx="1156.4" cy="1104.5" r="4.3" fill="url(#se)"/><circle cx="1156.4" cy="1136.9" r="4.3" fill="url(#se)"/><circle cx="1187.2" cy="1104.5" r="4.3" fill="url(#se)"/><circle cx="1187.2" cy="1136.9" r="4.3" fill="url(#se)"/><circle cx="1218" cy="1104.5" r="4.3" fill="url(#se)"/><circle cx="1218" cy="1136.9" r="4.3" fill="url(#se)"/><circle cx="1248.8" cy="1104.5" r="4.3" fill="url(#se)"/><circle cx="1248.8" cy="1136.9" r="4.3" fill="url(#se)"/><circle cx="1279.6" cy="1104.5" r="4.3" fill="url(#se)"/><circle cx="1279.6" cy="1136.9" r="4.3" fill="url(#se)"/><circle cx="1115.3" cy="1120.7" r="5.9" fill="url(#nb)"/><circle cx="1146.1" cy="1120.7" r="5.9" fill="url(#nb)"/><circle cx="1176.9" cy="1120.7" r="5.9" fill="url(#nb)"/><circle cx="1207.7" cy="1120.7" r="5.9" fill="url(#nb)"/><circle cx="1238.5" cy="1120.7" r="5.9" fill="url(#nb)"/><circle cx="1269.3" cy="1120.7" r="5.9" fill="url(#nb)"/>
<circle cx="1247.9" cy="832.6" r="6.4" fill="url(#ic)" stroke="url(#icr)" stroke-width="2.0"/>
<circle cx="1227.5" cy="961.1" r="6.4" fill="url(#ic)" stroke="url(#icr)" stroke-width="2.0"/>
<circle cx="1155.9" cy="1024.6" r="6.4" fill="url(#ic)" stroke="url(#icr)" stroke-width="2.0"/>
<rect x="1346.5" y="768.8" width="242.8" height="385.1" fill="#fff" stroke="#000" stroke-width="4.1" stroke-linejoin="round"/>
<g filter="url(#bl)">
<rect x="1371.7" y="828.8" width="198.1" height="9" rx="3" fill="#b5bff8"/>
<rect x="1367.1" y="893" width="197.8" height="9" rx="3" fill="#b5bff8"/>
<rect x="1367.1" y="957.3" width="197.8" height="9" rx="3" fill="#b5bff8"/>
<rect x="1366.3" y="1020.8" width="198.6" height="9" rx="3" fill="#b5bff8"/>
<rect x="1366.3" y="1084.8" width="198.6" height="9" rx="3" fill="#b5bff8"/>
</g>
<g fill="none" stroke-linecap="butt"><path d="M1405.9 802.1L1395.7 794" stroke="#35c79f" stroke-width="1.9"/><path d="M1395.7 794L1385.4 785.9" stroke="#e4c322" stroke-width="1.9"/><path d="M1405.9 802.1L1411.1 794" stroke="#139a70" stroke-width="2.2"/><path d="M1411.1 794L1416.2 785.9" stroke="#cfa311" stroke-width="2.2"/><path d="M1405.9 802.1L1395.7 810.2" stroke="#35c79f" stroke-width="1.9"/><path d="M1395.7 810.2L1385.4 818.3" stroke="#e4c322" stroke-width="1.9"/><path d="M1405.9 802.1L1411.1 810.2" stroke="#139a70" stroke-width="2.2"/><path d="M1411.1 810.2L1416.2 818.3" stroke="#cfa311" stroke-width="2.2"/><path d="M1436.7 802.1L1426.5 794" stroke="#35c79f" stroke-width="1.9"/><path d="M1426.5 794L1416.2 785.9" stroke="#e4c322" stroke-width="1.9"/><path d="M1436.7 802.1L1441.9 794" stroke="#139a70" stroke-width="2.2"/><path d="M1441.9 794L1447 785.9" stroke="#cfa311" stroke-width="2.2"/><path d="M1436.7 802.1L1426.5 810.2" stroke="#35c79f" stroke-width="1.9"/><path d="M1426.5 810.2L1416.2 818.3" stroke="#e4c322" stroke-width="1.9"/><path d="M1436.7 802.1L1441.9 810.2" stroke="#139a70" stroke-width="2.2"/><path d="M1441.9 810.2L1447 818.3" stroke="#cfa311" stroke-width="2.2"/><path d="M1467.5 802.1L1457.3 794" stroke="#35c79f" stroke-width="1.9"/><path d="M1457.3 794L1447 785.9" stroke="#e4c322" stroke-width="1.9"/><path d="M1467.5 802.1L1472.7 794" stroke="#139a70" stroke-width="2.2"/><path d="M1472.7 794L1477.8 785.9" stroke="#cfa311" stroke-width="2.2"/><path d="M1467.5 802.1L1457.3 810.2" stroke="#35c79f" stroke-width="1.9"/><path d="M1457.3 810.2L1447 818.3" stroke="#e4c322" stroke-width="1.9"/><path d="M1467.5 802.1L1472.7 810.2" stroke="#139a70" stroke-width="2.2"/><path d="M1472.7 810.2L1477.8 818.3" stroke="#cfa311" stroke-width="2.2"/><path d="M1498.3 802.1L1488.1 794" stroke="#35c79f" stroke-width="1.9"/><path d="M1488.1 794L1477.8 785.9" stroke="#e4c322" stroke-width="1.9"/><path d="M1498.3 802.1L1503.5 794" stroke="#139a70" stroke-width="2.2"/><path d="M1503.5 794L1508.6 785.9" stroke="#cfa311" stroke-width="2.2"/><path d="M1498.3 802.1L1488.1 810.2" stroke="#35c79f" stroke-width="1.9"/><path d="M1488.1 810.2L1477.8 818.3" stroke="#e4c322" stroke-width="1.9"/><path d="M1498.3 802.1L1503.5 810.2" stroke="#139a70" stroke-width="2.2"/><path d="M1503.5 810.2L1508.6 818.3" stroke="#cfa311" stroke-width="2.2"/><path d="M1529.1 802.1L1518.9 794" stroke="#35c79f" stroke-width="1.9"/><path d="M1518.9 794L1508.6 785.9" stroke="#e4c322" stroke-width="1.9"/><path d="M1529.1 802.1L1534.3 794" stroke="#139a70" stroke-width="2.2"/><path d="M1534.3 794L1539.4 785.9" stroke="#cfa311" stroke-width="2.2"/><path d="M1529.1 802.1L1518.9 810.2" stroke="#35c79f" stroke-width="1.9"/><path d="M1518.9 810.2L1508.6 818.3" stroke="#e4c322" stroke-width="1.9"/><path d="M1529.1 802.1L1534.3 810.2" stroke="#139a70" stroke-width="2.2"/><path d="M1534.3 810.2L1539.4 818.3" stroke="#cfa311" stroke-width="2.2"/><path d="M1559.9 802.1L1549.7 794" stroke="#35c79f" stroke-width="1.9"/><path d="M1549.7 794L1539.4 785.9" stroke="#e4c322" stroke-width="1.9"/><path d="M1559.9 802.1L1565.1 794" stroke="#139a70" stroke-width="2.2"/><path d="M1565.1 794L1570.2 785.9" stroke="#cfa311" stroke-width="2.2"/><path d="M1559.9 802.1L1549.7 810.2" stroke="#35c79f" stroke-width="1.9"/><path d="M1549.7 810.2L1539.4 818.3" stroke="#e4c322" stroke-width="1.9"/><path d="M1559.9 802.1L1565.1 810.2" stroke="#139a70" stroke-width="2.2"/><path d="M1565.1 810.2L1570.2 818.3" stroke="#cfa311" stroke-width="2.2"/></g><circle cx="1385.4" cy="785.9" r="4.3" fill="url(#se)"/><circle cx="1385.4" cy="818.3" r="4.3" fill="url(#se)"/><circle cx="1416.2" cy="785.9" r="4.3" fill="url(#se)"/><circle cx="1416.2" cy="818.3" r="4.3" fill="url(#se)"/><circle cx="1447" cy="785.9" r="4.3" fill="url(#se)"/><circle cx="1447" cy="818.3" r="4.3" fill="url(#se)"/><circle cx="1477.8" cy="785.9" r="4.3" fill="url(#se)"/><circle cx="1477.8" cy="818.3" r="4.3" fill="url(#se)"/><circle cx="1508.6" cy="785.9" r="4.3" fill="url(#se)"/><circle cx="1508.6" cy="818.3" r="4.3" fill="url(#se)"/><circle cx="1539.4" cy="785.9" r="4.3" fill="url(#se)"/><circle cx="1539.4" cy="818.3" r="4.3" fill="url(#se)"/><circle cx="1570.2" cy="785.9" r="4.3" fill="url(#se)"/><circle cx="1570.2" cy="818.3" r="4.3" fill="url(#se)"/><circle cx="1405.9" cy="802.1" r="5.9" fill="url(#nb)"/><circle cx="1436.7" cy="802.1" r="5.9" fill="url(#nb)"/><circle cx="1467.5" cy="802.1" r="5.9" fill="url(#nb)"/><circle cx="1498.3" cy="802.1" r="5.9" fill="url(#nb)"/><circle cx="1529.1" cy="802.1" r="5.9" fill="url(#nb)"/><circle cx="1559.9" cy="802.1" r="5.9" fill="url(#nb)"/>
<g fill="none" stroke-linecap="butt"><path d="M1394.8 866.7L1384.6 858.6" stroke="#35c79f" stroke-width="1.9"/><path d="M1384.6 858.6L1374.3 850.5" stroke="#e4c322" stroke-width="1.9"/><path d="M1394.8 866.7L1400 858.6" stroke="#139a70" stroke-width="2.2"/><path d="M1400 858.6L1405.1 850.5" stroke="#cfa311" stroke-width="2.2"/><path d="M1394.8 866.7L1384.6 874.8" stroke="#35c79f" stroke-width="1.9"/><path d="M1384.6 874.8L1374.3 882.9" stroke="#e4c322" stroke-width="1.9"/><path d="M1394.8 866.7L1400 874.8" stroke="#139a70" stroke-width="2.2"/><path d="M1400 874.8L1405.1 882.9" stroke="#cfa311" stroke-width="2.2"/><path d="M1425.6 866.7L1415.4 858.6" stroke="#35c79f" stroke-width="1.9"/><path d="M1415.4 858.6L1405.1 850.5" stroke="#e4c322" stroke-width="1.9"/><path d="M1425.6 866.7L1430.8 858.6" stroke="#139a70" stroke-width="2.2"/><path d="M1430.8 858.6L1435.9 850.5" stroke="#cfa311" stroke-width="2.2"/><path d="M1425.6 866.7L1415.4 874.8" stroke="#35c79f" stroke-width="1.9"/><path d="M1415.4 874.8L1405.1 882.9" stroke="#e4c322" stroke-width="1.9"/><path d="M1425.6 866.7L1430.8 874.8" stroke="#139a70" stroke-width="2.2"/><path d="M1430.8 874.8L1435.9 882.9" stroke="#cfa311" stroke-width="2.2"/><path d="M1456.4 866.7L1446.2 858.6" stroke="#35c79f" stroke-width="1.9"/><path d="M1446.2 858.6L1435.9 850.5" stroke="#e4c322" stroke-width="1.9"/><path d="M1456.4 866.7L1461.6 858.6" stroke="#139a70" stroke-width="2.2"/><path d="M1461.6 858.6L1466.7 850.5" stroke="#cfa311" stroke-width="2.2"/><path d="M1456.4 866.7L1446.2 874.8" stroke="#35c79f" stroke-width="1.9"/><path d="M1446.2 874.8L1435.9 882.9" stroke="#e4c322" stroke-width="1.9"/><path d="M1456.4 866.7L1461.6 874.8" stroke="#139a70" stroke-width="2.2"/><path d="M1461.6 874.8L1466.7 882.9" stroke="#cfa311" stroke-width="2.2"/><path d="M1487.2 866.7L1477 858.6" stroke="#35c79f" stroke-width="1.9"/><path d="M1477 858.6L1466.7 850.5" stroke="#e4c322" stroke-width="1.9"/><path d="M1487.2 866.7L1492.4 858.6" stroke="#139a70" stroke-width="2.2"/><path d="M1492.4 858.6L1497.5 850.5" stroke="#cfa311" stroke-width="2.2"/><path d="M1487.2 866.7L1477 874.8" stroke="#35c79f" stroke-width="1.9"/><path d="M1477 874.8L1466.7 882.9" stroke="#e4c322" stroke-width="1.9"/><path d="M1487.2 866.7L1492.4 874.8" stroke="#139a70" stroke-width="2.2"/><path d="M1492.4 874.8L1497.5 882.9" stroke="#cfa311" stroke-width="2.2"/><path d="M1518 866.7L1507.8 858.6" stroke="#35c79f" stroke-width="1.9"/><path d="M1507.8 858.6L1497.5 850.5" stroke="#e4c322" stroke-width="1.9"/><path d="M1518 866.7L1523.2 858.6" stroke="#139a70" stroke-width="2.2"/><path d="M1523.2 858.6L1528.3 850.5" stroke="#cfa311" stroke-width="2.2"/><path d="M1518 866.7L1507.8 874.8" stroke="#35c79f" stroke-width="1.9"/><path d="M1507.8 874.8L1497.5 882.9" stroke="#e4c322" stroke-width="1.9"/><path d="M1518 866.7L1523.2 874.8" stroke="#139a70" stroke-width="2.2"/><path d="M1523.2 874.8L1528.3 882.9" stroke="#cfa311" stroke-width="2.2"/><path d="M1548.8 866.7L1538.6 858.6" stroke="#35c79f" stroke-width="1.9"/><path d="M1538.6 858.6L1528.3 850.5" stroke="#e4c322" stroke-width="1.9"/><path d="M1548.8 866.7L1554 858.6" stroke="#139a70" stroke-width="2.2"/><path d="M1554 858.6L1559.1 850.5" stroke="#cfa311" stroke-width="2.2"/><path d="M1548.8 866.7L1538.6 874.8" stroke="#35c79f" stroke-width="1.9"/><path d="M1538.6 874.8L1528.3 882.9" stroke="#e4c322" stroke-width="1.9"/><path d="M1548.8 866.7L1554 874.8" stroke="#139a70" stroke-width="2.2"/><path d="M1554 874.8L1559.1 882.9" stroke="#cfa311" stroke-width="2.2"/></g><circle cx="1374.3" cy="850.5" r="4.3" fill="url(#se)"/><circle cx="1374.3" cy="882.9" r="4.3" fill="url(#se)"/><circle cx="1405.1" cy="850.5" r="4.3" fill="url(#se)"/><circle cx="1405.1" cy="882.9" r="4.3" fill="url(#se)"/><circle cx="1435.9" cy="850.5" r="4.3" fill="url(#se)"/><circle cx="1435.9" cy="882.9" r="4.3" fill="url(#se)"/><circle cx="1466.7" cy="850.5" r="4.3" fill="url(#se)"/><circle cx="1466.7" cy="882.9" r="4.3" fill="url(#se)"/><circle cx="1497.5" cy="850.5" r="4.3" fill="url(#se)"/><circle cx="1497.5" cy="882.9" r="4.3" fill="url(#se)"/><circle cx="1528.3" cy="850.5" r="4.3" fill="url(#se)"/><circle cx="1528.3" cy="882.9" r="4.3" fill="url(#se)"/><circle cx="1559.1" cy="850.5" r="4.3" fill="url(#se)"/><circle cx="1559.1" cy="882.9" r="4.3" fill="url(#se)"/><circle cx="1394.8" cy="866.7" r="5.9" fill="url(#nb)"/><circle cx="1425.6" cy="866.7" r="5.9" fill="url(#nb)"/><circle cx="1456.4" cy="866.7" r="5.9" fill="url(#nb)"/><circle cx="1487.2" cy="866.7" r="5.9" fill="url(#nb)"/><circle cx="1518" cy="866.7" r="5.9" fill="url(#nb)"/><circle cx="1548.8" cy="866.7" r="5.9" fill="url(#nb)"/>
<g fill="none" stroke-linecap="butt"><path d="M1385.3 929.8L1375.1 921.7" stroke="#35c79f" stroke-width="1.9"/><path d="M1375.1 921.7L1364.8 913.6" stroke="#e4c322" stroke-width="1.9"/><path d="M1385.3 929.8L1390.5 921.7" stroke="#139a70" stroke-width="2.2"/><path d="M1390.5 921.7L1395.6 913.6" stroke="#cfa311" stroke-width="2.2"/><path d="M1385.3 929.8L1375.1 937.9" stroke="#35c79f" stroke-width="1.9"/><path d="M1375.1 937.9L1364.8 946" stroke="#e4c322" stroke-width="1.9"/><path d="M1385.3 929.8L1390.5 937.9" stroke="#139a70" stroke-width="2.2"/><path d="M1390.5 937.9L1395.6 946" stroke="#cfa311" stroke-width="2.2"/><path d="M1416.1 929.8L1405.9 921.7" stroke="#35c79f" stroke-width="1.9"/><path d="M1405.9 921.7L1395.6 913.6" stroke="#e4c322" stroke-width="1.9"/><path d="M1416.1 929.8L1421.3 921.7" stroke="#139a70" stroke-width="2.2"/><path d="M1421.3 921.7L1426.4 913.6" stroke="#cfa311" stroke-width="2.2"/><path d="M1416.1 929.8L1405.9 937.9" stroke="#35c79f" stroke-width="1.9"/><path d="M1405.9 937.9L1395.6 946" stroke="#e4c322" stroke-width="1.9"/><path d="M1416.1 929.8L1421.3 937.9" stroke="#139a70" stroke-width="2.2"/><path d="M1421.3 937.9L1426.4 946" stroke="#cfa311" stroke-width="2.2"/><path d="M1446.9 929.8L1436.7 921.7" stroke="#35c79f" stroke-width="1.9"/><path d="M1436.7 921.7L1426.4 913.6" stroke="#e4c322" stroke-width="1.9"/><path d="M1446.9 929.8L1452.1 921.7" stroke="#139a70" stroke-width="2.2"/><path d="M1452.1 921.7L1457.2 913.6" stroke="#cfa311" stroke-width="2.2"/><path d="M1446.9 929.8L1436.7 937.9" stroke="#35c79f" stroke-width="1.9"/><path d="M1436.7 937.9L1426.4 946" stroke="#e4c322" stroke-width="1.9"/><path d="M1446.9 929.8L1452.1 937.9" stroke="#139a70" stroke-width="2.2"/><path d="M1452.1 937.9L1457.2 946" stroke="#cfa311" stroke-width="2.2"/><path d="M1477.7 929.8L1467.5 921.7" stroke="#35c79f" stroke-width="1.9"/><path d="M1467.5 921.7L1457.2 913.6" stroke="#e4c322" stroke-width="1.9"/><path d="M1477.7 929.8L1482.9 921.7" stroke="#139a70" stroke-width="2.2"/><path d="M1482.9 921.7L1488 913.6" stroke="#cfa311" stroke-width="2.2"/><path d="M1477.7 929.8L1467.5 937.9" stroke="#35c79f" stroke-width="1.9"/><path d="M1467.5 937.9L1457.2 946" stroke="#e4c322" stroke-width="1.9"/><path d="M1477.7 929.8L1482.9 937.9" stroke="#139a70" stroke-width="2.2"/><path d="M1482.9 937.9L1488 946" stroke="#cfa311" stroke-width="2.2"/><path d="M1508.5 929.8L1498.3 921.7" stroke="#35c79f" stroke-width="1.9"/><path d="M1498.3 921.7L1488 913.6" stroke="#e4c322" stroke-width="1.9"/><path d="M1508.5 929.8L1513.7 921.7" stroke="#139a70" stroke-width="2.2"/><path d="M1513.7 921.7L1518.8 913.6" stroke="#cfa311" stroke-width="2.2"/><path d="M1508.5 929.8L1498.3 937.9" stroke="#35c79f" stroke-width="1.9"/><path d="M1498.3 937.9L1488 946" stroke="#e4c322" stroke-width="1.9"/><path d="M1508.5 929.8L1513.7 937.9" stroke="#139a70" stroke-width="2.2"/><path d="M1513.7 937.9L1518.8 946" stroke="#cfa311" stroke-width="2.2"/><path d="M1539.3 929.8L1529.1 921.7" stroke="#35c79f" stroke-width="1.9"/><path d="M1529.1 921.7L1518.8 913.6" stroke="#e4c322" stroke-width="1.9"/><path d="M1539.3 929.8L1544.5 921.7" stroke="#139a70" stroke-width="2.2"/><path d="M1544.5 921.7L1549.6 913.6" stroke="#cfa311" stroke-width="2.2"/><path d="M1539.3 929.8L1529.1 937.9" stroke="#35c79f" stroke-width="1.9"/><path d="M1529.1 937.9L1518.8 946" stroke="#e4c322" stroke-width="1.9"/><path d="M1539.3 929.8L1544.5 937.9" stroke="#139a70" stroke-width="2.2"/><path d="M1544.5 937.9L1549.6 946" stroke="#cfa311" stroke-width="2.2"/></g><circle cx="1364.8" cy="913.6" r="4.3" fill="url(#se)"/><circle cx="1364.8" cy="946" r="4.3" fill="url(#se)"/><circle cx="1395.6" cy="913.6" r="4.3" fill="url(#se)"/><circle cx="1395.6" cy="946" r="4.3" fill="url(#se)"/><circle cx="1426.4" cy="913.6" r="4.3" fill="url(#se)"/><circle cx="1426.4" cy="946" r="4.3" fill="url(#se)"/><circle cx="1457.2" cy="913.6" r="4.3" fill="url(#se)"/><circle cx="1457.2" cy="946" r="4.3" fill="url(#se)"/><circle cx="1488" cy="913.6" r="4.3" fill="url(#se)"/><circle cx="1488" cy="946" r="4.3" fill="url(#se)"/><circle cx="1518.8" cy="913.6" r="4.3" fill="url(#se)"/><circle cx="1518.8" cy="946" r="4.3" fill="url(#se)"/><circle cx="1549.6" cy="913.6" r="4.3" fill="url(#se)"/><circle cx="1549.6" cy="946" r="4.3" fill="url(#se)"/><circle cx="1385.3" cy="929.8" r="5.9" fill="url(#nb)"/><circle cx="1416.1" cy="929.8" r="5.9" fill="url(#nb)"/><circle cx="1446.9" cy="929.8" r="5.9" fill="url(#nb)"/><circle cx="1477.7" cy="929.8" r="5.9" fill="url(#nb)"/><circle cx="1508.5" cy="929.8" r="5.9" fill="url(#nb)"/><circle cx="1539.3" cy="929.8" r="5.9" fill="url(#nb)"/>
<g fill="none" stroke-linecap="butt"><path d="M1405.9 993.7L1395.7 985.6" stroke="#35c79f" stroke-width="1.9"/><path d="M1395.7 985.6L1385.4 977.5" stroke="#e4c322" stroke-width="1.9"/><path d="M1405.9 993.7L1411.1 985.6" stroke="#139a70" stroke-width="2.2"/><path d="M1411.1 985.6L1416.2 977.5" stroke="#cfa311" stroke-width="2.2"/><path d="M1405.9 993.7L1395.7 1001.8" stroke="#35c79f" stroke-width="1.9"/><path d="M1395.7 1001.8L1385.4 1009.9" stroke="#e4c322" stroke-width="1.9"/><path d="M1405.9 993.7L1411.1 1001.8" stroke="#139a70" stroke-width="2.2"/><path d="M1411.1 1001.8L1416.2 1009.9" stroke="#cfa311" stroke-width="2.2"/><path d="M1436.7 993.7L1426.5 985.6" stroke="#35c79f" stroke-width="1.9"/><path d="M1426.5 985.6L1416.2 977.5" stroke="#e4c322" stroke-width="1.9"/><path d="M1436.7 993.7L1441.9 985.6" stroke="#139a70" stroke-width="2.2"/><path d="M1441.9 985.6L1447 977.5" stroke="#cfa311" stroke-width="2.2"/><path d="M1436.7 993.7L1426.5 1001.8" stroke="#35c79f" stroke-width="1.9"/><path d="M1426.5 1001.8L1416.2 1009.9" stroke="#e4c322" stroke-width="1.9"/><path d="M1436.7 993.7L1441.9 1001.8" stroke="#139a70" stroke-width="2.2"/><path d="M1441.9 1001.8L1447 1009.9" stroke="#cfa311" stroke-width="2.2"/><path d="M1467.5 993.7L1457.3 985.6" stroke="#35c79f" stroke-width="1.9"/><path d="M1457.3 985.6L1447 977.5" stroke="#e4c322" stroke-width="1.9"/><path d="M1467.5 993.7L1472.7 985.6" stroke="#139a70" stroke-width="2.2"/><path d="M1472.7 985.6L1477.8 977.5" stroke="#cfa311" stroke-width="2.2"/><path d="M1467.5 993.7L1457.3 1001.8" stroke="#35c79f" stroke-width="1.9"/><path d="M1457.3 1001.8L1447 1009.9" stroke="#e4c322" stroke-width="1.9"/><path d="M1467.5 993.7L1472.7 1001.8" stroke="#139a70" stroke-width="2.2"/><path d="M1472.7 1001.8L1477.8 1009.9" stroke="#cfa311" stroke-width="2.2"/><path d="M1498.3 993.7L1488.1 985.6" stroke="#35c79f" stroke-width="1.9"/><path d="M1488.1 985.6L1477.8 977.5" stroke="#e4c322" stroke-width="1.9"/><path d="M1498.3 993.7L1503.5 985.6" stroke="#139a70" stroke-width="2.2"/><path d="M1503.5 985.6L1508.6 977.5" stroke="#cfa311" stroke-width="2.2"/><path d="M1498.3 993.7L1488.1 1001.8" stroke="#35c79f" stroke-width="1.9"/><path d="M1488.1 1001.8L1477.8 1009.9" stroke="#e4c322" stroke-width="1.9"/><path d="M1498.3 993.7L1503.5 1001.8" stroke="#139a70" stroke-width="2.2"/><path d="M1503.5 1001.8L1508.6 1009.9" stroke="#cfa311" stroke-width="2.2"/><path d="M1529.1 993.7L1518.9 985.6" stroke="#35c79f" stroke-width="1.9"/><path d="M1518.9 985.6L1508.6 977.5" stroke="#e4c322" stroke-width="1.9"/><path d="M1529.1 993.7L1534.3 985.6" stroke="#139a70" stroke-width="2.2"/><path d="M1534.3 985.6L1539.4 977.5" stroke="#cfa311" stroke-width="2.2"/><path d="M1529.1 993.7L1518.9 1001.8" stroke="#35c79f" stroke-width="1.9"/><path d="M1518.9 1001.8L1508.6 1009.9" stroke="#e4c322" stroke-width="1.9"/><path d="M1529.1 993.7L1534.3 1001.8" stroke="#139a70" stroke-width="2.2"/><path d="M1534.3 1001.8L1539.4 1009.9" stroke="#cfa311" stroke-width="2.2"/><path d="M1559.9 993.7L1549.7 985.6" stroke="#35c79f" stroke-width="1.9"/><path d="M1549.7 985.6L1539.4 977.5" stroke="#e4c322" stroke-width="1.9"/><path d="M1559.9 993.7L1565.1 985.6" stroke="#139a70" stroke-width="2.2"/><path d="M1565.1 985.6L1570.2 977.5" stroke="#cfa311" stroke-width="2.2"/><path d="M1559.9 993.7L1549.7 1001.8" stroke="#35c79f" stroke-width="1.9"/><path d="M1549.7 1001.8L1539.4 1009.9" stroke="#e4c322" stroke-width="1.9"/><path d="M1559.9 993.7L1565.1 1001.8" stroke="#139a70" stroke-width="2.2"/><path d="M1565.1 1001.8L1570.2 1009.9" stroke="#cfa311" stroke-width="2.2"/></g><circle cx="1385.4" cy="977.5" r="4.3" fill="url(#se)"/><circle cx="1385.4" cy="1009.9" r="4.3" fill="url(#se)"/><circle cx="1416.2" cy="977.5" r="4.3" fill="url(#se)"/><circle cx="1416.2" cy="1009.9" r="4.3" fill="url(#se)"/><circle cx="1447" cy="977.5" r="4.3" fill="url(#se)"/><circle cx="1447" cy="1009.9" r="4.3" fill="url(#se)"/><circle cx="1477.8" cy="977.5" r="4.3" fill="url(#se)"/><circle cx="1477.8" cy="1009.9" r="4.3" fill="url(#se)"/><circle cx="1508.6" cy="977.5" r="4.3" fill="url(#se)"/><circle cx="1508.6" cy="1009.9" r="4.3" fill="url(#se)"/><circle cx="1539.4" cy="977.5" r="4.3" fill="url(#se)"/><circle cx="1539.4" cy="1009.9" r="4.3" fill="url(#se)"/><circle cx="1570.2" cy="977.5" r="4.3" fill="url(#se)"/><circle cx="1570.2" cy="1009.9" r="4.3" fill="url(#se)"/><circle cx="1405.9" cy="993.7" r="5.9" fill="url(#nb)"/><circle cx="1436.7" cy="993.7" r="5.9" fill="url(#nb)"/><circle cx="1467.5" cy="993.7" r="5.9" fill="url(#nb)"/><circle cx="1498.3" cy="993.7" r="5.9" fill="url(#nb)"/><circle cx="1529.1" cy="993.7" r="5.9" fill="url(#nb)"/><circle cx="1559.9" cy="993.7" r="5.9" fill="url(#nb)"/>
<g fill="none" stroke-linecap="butt"><path d="M1394.8 1058.5L1384.6 1050.4" stroke="#35c79f" stroke-width="1.9"/><path d="M1384.6 1050.4L1374.3 1042.3" stroke="#e4c322" stroke-width="1.9"/><path d="M1394.8 1058.5L1400 1050.4" stroke="#139a70" stroke-width="2.2"/><path d="M1400 1050.4L1405.1 1042.3" stroke="#cfa311" stroke-width="2.2"/><path d="M1394.8 1058.5L1384.6 1066.6" stroke="#35c79f" stroke-width="1.9"/><path d="M1384.6 1066.6L1374.3 1074.7" stroke="#e4c322" stroke-width="1.9"/><path d="M1394.8 1058.5L1400 1066.6" stroke="#139a70" stroke-width="2.2"/><path d="M1400 1066.6L1405.1 1074.7" stroke="#cfa311" stroke-width="2.2"/><path d="M1425.6 1058.5L1415.4 1050.4" stroke="#35c79f" stroke-width="1.9"/><path d="M1415.4 1050.4L1405.1 1042.3" stroke="#e4c322" stroke-width="1.9"/><path d="M1425.6 1058.5L1430.8 1050.4" stroke="#139a70" stroke-width="2.2"/><path d="M1430.8 1050.4L1435.9 1042.3" stroke="#cfa311" stroke-width="2.2"/><path d="M1425.6 1058.5L1415.4 1066.6" stroke="#35c79f" stroke-width="1.9"/><path d="M1415.4 1066.6L1405.1 1074.7" stroke="#e4c322" stroke-width="1.9"/><path d="M1425.6 1058.5L1430.8 1066.6" stroke="#139a70" stroke-width="2.2"/><path d="M1430.8 1066.6L1435.9 1074.7" stroke="#cfa311" stroke-width="2.2"/><path d="M1456.4 1058.5L1446.2 1050.4" stroke="#35c79f" stroke-width="1.9"/><path d="M1446.2 1050.4L1435.9 1042.3" stroke="#e4c322" stroke-width="1.9"/><path d="M1456.4 1058.5L1461.6 1050.4" stroke="#139a70" stroke-width="2.2"/><path d="M1461.6 1050.4L1466.7 1042.3" stroke="#cfa311" stroke-width="2.2"/><path d="M1456.4 1058.5L1446.2 1066.6" stroke="#35c79f" stroke-width="1.9"/><path d="M1446.2 1066.6L1435.9 1074.7" stroke="#e4c322" stroke-width="1.9"/><path d="M1456.4 1058.5L1461.6 1066.6" stroke="#139a70" stroke-width="2.2"/><path d="M1461.6 1066.6L1466.7 1074.7" stroke="#cfa311" stroke-width="2.2"/><path d="M1487.2 1058.5L1477 1050.4" stroke="#35c79f" stroke-width="1.9"/><path d="M1477 1050.4L1466.7 1042.3" stroke="#e4c322" stroke-width="1.9"/><path d="M1487.2 1058.5L1492.4 1050.4" stroke="#139a70" stroke-width="2.2"/><path d="M1492.4 1050.4L1497.5 1042.3" stroke="#cfa311" stroke-width="2.2"/><path d="M1487.2 1058.5L1477 1066.6" stroke="#35c79f" stroke-width="1.9"/><path d="M1477 1066.6L1466.7 1074.7" stroke="#e4c322" stroke-width="1.9"/><path d="M1487.2 1058.5L1492.4 1066.6" stroke="#139a70" stroke-width="2.2"/><path d="M1492.4 1066.6L1497.5 1074.7" stroke="#cfa311" stroke-width="2.2"/><path d="M1518 1058.5L1507.8 1050.4" stroke="#35c79f" stroke-width="1.9"/><path d="M1507.8 1050.4L1497.5 1042.3" stroke="#e4c322" stroke-width="1.9"/><path d="M1518 1058.5L1523.2 1050.4" stroke="#139a70" stroke-width="2.2"/><path d="M1523.2 1050.4L1528.3 1042.3" stroke="#cfa311" stroke-width="2.2"/><path d="M1518 1058.5L1507.8 1066.6" stroke="#35c79f" stroke-width="1.9"/><path d="M1507.8 1066.6L1497.5 1074.7" stroke="#e4c322" stroke-width="1.9"/><path d="M1518 1058.5L1523.2 1066.6" stroke="#139a70" stroke-width="2.2"/><path d="M1523.2 1066.6L1528.3 1074.7" stroke="#cfa311" stroke-width="2.2"/><path d="M1548.8 1058.5L1538.6 1050.4" stroke="#35c79f" stroke-width="1.9"/><path d="M1538.6 1050.4L1528.3 1042.3" stroke="#e4c322" stroke-width="1.9"/><path d="M1548.8 1058.5L1554 1050.4" stroke="#139a70" stroke-width="2.2"/><path d="M1554 1050.4L1559.1 1042.3" stroke="#cfa311" stroke-width="2.2"/><path d="M1548.8 1058.5L1538.6 1066.6" stroke="#35c79f" stroke-width="1.9"/><path d="M1538.6 1066.6L1528.3 1074.7" stroke="#e4c322" stroke-width="1.9"/><path d="M1548.8 1058.5L1554 1066.6" stroke="#139a70" stroke-width="2.2"/><path d="M1554 1066.6L1559.1 1074.7" stroke="#cfa311" stroke-width="2.2"/></g><circle cx="1374.3" cy="1042.3" r="4.3" fill="url(#se)"/><circle cx="1374.3" cy="1074.7" r="4.3" fill="url(#se)"/><circle cx="1405.1" cy="1042.3" r="4.3" fill="url(#se)"/><circle cx="1405.1" cy="1074.7" r="4.3" fill="url(#se)"/><circle cx="1435.9" cy="1042.3" r="4.3" fill="url(#se)"/><circle cx="1435.9" cy="1074.7" r="4.3" fill="url(#se)"/><circle cx="1466.7" cy="1042.3" r="4.3" fill="url(#se)"/><circle cx="1466.7" cy="1074.7" r="4.3" fill="url(#se)"/><circle cx="1497.5" cy="1042.3" r="4.3" fill="url(#se)"/><circle cx="1497.5" cy="1074.7" r="4.3" fill="url(#se)"/><circle cx="1528.3" cy="1042.3" r="4.3" fill="url(#se)"/><circle cx="1528.3" cy="1074.7" r="4.3" fill="url(#se)"/><circle cx="1559.1" cy="1042.3" r="4.3" fill="url(#se)"/><circle cx="1559.1" cy="1074.7" r="4.3" fill="url(#se)"/><circle cx="1394.8" cy="1058.5" r="5.9" fill="url(#nb)"/><circle cx="1425.6" cy="1058.5" r="5.9" fill="url(#nb)"/><circle cx="1456.4" cy="1058.5" r="5.9" fill="url(#nb)"/><circle cx="1487.2" cy="1058.5" r="5.9" fill="url(#nb)"/><circle cx="1518" cy="1058.5" r="5.9" fill="url(#nb)"/><circle cx="1548.8" cy="1058.5" r="5.9" fill="url(#nb)"/>
<g fill="none" stroke-linecap="butt"><path d="M1385.3 1120.7L1375.1 1112.6" stroke="#35c79f" stroke-width="1.9"/><path d="M1375.1 1112.6L1364.8 1104.5" stroke="#e4c322" stroke-width="1.9"/><path d="M1385.3 1120.7L1390.5 1112.6" stroke="#139a70" stroke-width="2.2"/><path d="M1390.5 1112.6L1395.6 1104.5" stroke="#cfa311" stroke-width="2.2"/><path d="M1385.3 1120.7L1375.1 1128.8" stroke="#35c79f" stroke-width="1.9"/><path d="M1375.1 1128.8L1364.8 1136.9" stroke="#e4c322" stroke-width="1.9"/><path d="M1385.3 1120.7L1390.5 1128.8" stroke="#139a70" stroke-width="2.2"/><path d="M1390.5 1128.8L1395.6 1136.9" stroke="#cfa311" stroke-width="2.2"/><path d="M1416.1 1120.7L1405.9 1112.6" stroke="#35c79f" stroke-width="1.9"/><path d="M1405.9 1112.6L1395.6 1104.5" stroke="#e4c322" stroke-width="1.9"/><path d="M1416.1 1120.7L1421.3 1112.6" stroke="#139a70" stroke-width="2.2"/><path d="M1421.3 1112.6L1426.4 1104.5" stroke="#cfa311" stroke-width="2.2"/><path d="M1416.1 1120.7L1405.9 1128.8" stroke="#35c79f" stroke-width="1.9"/><path d="M1405.9 1128.8L1395.6 1136.9" stroke="#e4c322" stroke-width="1.9"/><path d="M1416.1 1120.7L1421.3 1128.8" stroke="#139a70" stroke-width="2.2"/><path d="M1421.3 1128.8L1426.4 1136.9" stroke="#cfa311" stroke-width="2.2"/><path d="M1446.9 1120.7L1436.7 1112.6" stroke="#35c79f" stroke-width="1.9"/><path d="M1436.7 1112.6L1426.4 1104.5" stroke="#e4c322" stroke-width="1.9"/><path d="M1446.9 1120.7L1452.1 1112.6" stroke="#139a70" stroke-width="2.2"/><path d="M1452.1 1112.6L1457.2 1104.5" stroke="#cfa311" stroke-width="2.2"/><path d="M1446.9 1120.7L1436.7 1128.8" stroke="#35c79f" stroke-width="1.9"/><path d="M1436.7 1128.8L1426.4 1136.9" stroke="#e4c322" stroke-width="1.9"/><path d="M1446.9 1120.7L1452.1 1128.8" stroke="#139a70" stroke-width="2.2"/><path d="M1452.1 1128.8L1457.2 1136.9" stroke="#cfa311" stroke-width="2.2"/><path d="M1477.7 1120.7L1467.5 1112.6" stroke="#35c79f" stroke-width="1.9"/><path d="M1467.5 1112.6L1457.2 1104.5" stroke="#e4c322" stroke-width="1.9"/><path d="M1477.7 1120.7L1482.9 1112.6" stroke="#139a70" stroke-width="2.2"/><path d="M1482.9 1112.6L1488 1104.5" stroke="#cfa311" stroke-width="2.2"/><path d="M1477.7 1120.7L1467.5 1128.8" stroke="#35c79f" stroke-width="1.9"/><path d="M1467.5 1128.8L1457.2 1136.9" stroke="#e4c322" stroke-width="1.9"/><path d="M1477.7 1120.7L1482.9 1128.8" stroke="#139a70" stroke-width="2.2"/><path d="M1482.9 1128.8L1488 1136.9" stroke="#cfa311" stroke-width="2.2"/><path d="M1508.5 1120.7L1498.3 1112.6" stroke="#35c79f" stroke-width="1.9"/><path d="M1498.3 1112.6L1488 1104.5" stroke="#e4c322" stroke-width="1.9"/><path d="M1508.5 1120.7L1513.7 1112.6" stroke="#139a70" stroke-width="2.2"/><path d="M1513.7 1112.6L1518.8 1104.5" stroke="#cfa311" stroke-width="2.2"/><path d="M1508.5 1120.7L1498.3 1128.8" stroke="#35c79f" stroke-width="1.9"/><path d="M1498.3 1128.8L1488 1136.9" stroke="#e4c322" stroke-width="1.9"/><path d="M1508.5 1120.7L1513.7 1128.8" stroke="#139a70" stroke-width="2.2"/><path d="M1513.7 1128.8L1518.8 1136.9" stroke="#cfa311" stroke-width="2.2"/><path d="M1539.3 1120.7L1529.1 1112.6" stroke="#35c79f" stroke-width="1.9"/><path d="M1529.1 1112.6L1518.8 1104.5" stroke="#e4c322" stroke-width="1.9"/><path d="M1539.3 1120.7L1544.5 1112.6" stroke="#139a70" stroke-width="2.2"/><path d="M1544.5 1112.6L1549.6 1104.5" stroke="#cfa311" stroke-width="2.2"/><path d="M1539.3 1120.7L1529.1 1128.8" stroke="#35c79f" stroke-width="1.9"/><path d="M1529.1 1128.8L1518.8 1136.9" stroke="#e4c322" stroke-width="1.9"/><path d="M1539.3 1120.7L1544.5 1128.8" stroke="#139a70" stroke-width="2.2"/><path d="M1544.5 1128.8L1549.6 1136.9" stroke="#cfa311" stroke-width="2.2"/></g><circle cx="1364.8" cy="1104.5" r="4.3" fill="url(#se)"/><circle cx="1364.8" cy="1136.9" r="4.3" fill="url(#se)"/><circle cx="1395.6" cy="1104.5" r="4.3" fill="url(#se)"/><circle cx="1395.6" cy="1136.9" r="4.3" fill="url(#se)"/><circle cx="1426.4" cy="1104.5" r="4.3" fill="url(#se)"/><circle cx="1426.4" cy="1136.9" r="4.3" fill="url(#se)"/><circle cx="1457.2" cy="1104.5" r="4.3" fill="url(#se)"/><circle cx="1457.2" cy="1136.9" r="4.3" fill="url(#se)"/><circle cx="1488" cy="1104.5" r="4.3" fill="url(#se)"/><circle cx="1488" cy="1136.9" r="4.3" fill="url(#se)"/><circle cx="1518.8" cy="1104.5" r="4.3" fill="url(#se)"/><circle cx="1518.8" cy="1136.9" r="4.3" fill="url(#se)"/><circle cx="1549.6" cy="1104.5" r="4.3" fill="url(#se)"/><circle cx="1549.6" cy="1136.9" r="4.3" fill="url(#se)"/><circle cx="1385.3" cy="1120.7" r="5.9" fill="url(#nb)"/><circle cx="1416.1" cy="1120.7" r="5.9" fill="url(#nb)"/><circle cx="1446.9" cy="1120.7" r="5.9" fill="url(#nb)"/><circle cx="1477.7" cy="1120.7" r="5.9" fill="url(#nb)"/><circle cx="1508.5" cy="1120.7" r="5.9" fill="url(#nb)"/><circle cx="1539.3" cy="1120.7" r="5.9" fill="url(#nb)"/>
<circle cx="1426.2" cy="832.6" r="6.4" fill="url(#ic)" stroke="url(#icr)" stroke-width="2.0"/>
<circle cx="1517.9" cy="832.6" r="6.4" fill="url(#ic)" stroke="url(#icr)" stroke-width="2.0"/>
<circle cx="1477.5" cy="896.8" r="6.4" fill="url(#ic)" stroke="url(#icr)" stroke-width="2.0"/>
<circle cx="1405.8" cy="961.1" r="6.4" fill="url(#ic)" stroke="url(#icr)" stroke-width="2.0"/>
<circle cx="1497.5" cy="961.1" r="6.4" fill="url(#ic)" stroke="url(#icr)" stroke-width="2.0"/>
<circle cx="1425.9" cy="1024.6" r="6.4" fill="url(#ic)" stroke="url(#icr)" stroke-width="2.0"/>
<circle cx="1517.9" cy="1024.6" r="6.4" fill="url(#ic)" stroke="url(#icr)" stroke-width="2.0"/>
<circle cx="1385.4" cy="1088.6" r="6.4" fill="url(#ic)" stroke="url(#icr)" stroke-width="2.0"/>
<rect x="1616.7" y="768.8" width="242.8" height="385.1" fill="#fff" stroke="#000" stroke-width="4.1" stroke-linejoin="round"/>
<g filter="url(#bl)">
<rect x="1641.9" y="828.8" width="198.1" height="9" rx="3" fill="#b5bff8"/>
<rect x="1637.3" y="893" width="197.8" height="9" rx="3" fill="#b5bff8"/>
<rect x="1637.3" y="957.3" width="197.8" height="9" rx="3" fill="#b5bff8"/>
<rect x="1636.5" y="1020.8" width="198.6" height="9" rx="3" fill="#b5bff8"/>
<rect x="1636.5" y="1084.8" width="198.6" height="9" rx="3" fill="#b5bff8"/>
</g>
<g fill="none" stroke-linecap="butt"><path d="M1676.1 802.1L1665.9 794" stroke="#35c79f" stroke-width="1.9"/><path d="M1665.9 794L1655.6 785.9" stroke="#e4c322" stroke-width="1.9"/><path d="M1676.1 802.1L1681.3 794" stroke="#139a70" stroke-width="2.2"/><path d="M1681.3 794L1686.4 785.9" stroke="#cfa311" stroke-width="2.2"/><path d="M1676.1 802.1L1665.9 810.2" stroke="#35c79f" stroke-width="1.9"/><path d="M1665.9 810.2L1655.6 818.3" stroke="#e4c322" stroke-width="1.9"/><path d="M1676.1 802.1L1681.3 810.2" stroke="#139a70" stroke-width="2.2"/><path d="M1681.3 810.2L1686.4 818.3" stroke="#cfa311" stroke-width="2.2"/><path d="M1706.9 802.1L1696.7 794" stroke="#35c79f" stroke-width="1.9"/><path d="M1696.7 794L1686.4 785.9" stroke="#e4c322" stroke-width="1.9"/><path d="M1706.9 802.1L1712.1 794" stroke="#139a70" stroke-width="2.2"/><path d="M1712.1 794L1717.2 785.9" stroke="#cfa311" stroke-width="2.2"/><path d="M1706.9 802.1L1696.7 810.2" stroke="#35c79f" stroke-width="1.9"/><path d="M1696.7 810.2L1686.4 818.3" stroke="#e4c322" stroke-width="1.9"/><path d="M1706.9 802.1L1712.1 810.2" stroke="#139a70" stroke-width="2.2"/><path d="M1712.1 810.2L1717.2 818.3" stroke="#cfa311" stroke-width="2.2"/><path d="M1737.7 802.1L1727.5 794" stroke="#35c79f" stroke-width="1.9"/><path d="M1727.5 794L1717.2 785.9" stroke="#e4c322" stroke-width="1.9"/><path d="M1737.7 802.1L1742.9 794" stroke="#139a70" stroke-width="2.2"/><path d="M1742.9 794L1748 785.9" stroke="#cfa311" stroke-width="2.2"/><path d="M1737.7 802.1L1727.5 810.2" stroke="#35c79f" stroke-width="1.9"/><path d="M1727.5 810.2L1717.2 818.3" stroke="#e4c322" stroke-width="1.9"/><path d="M1737.7 802.1L1742.9 810.2" stroke="#139a70" stroke-width="2.2"/><path d="M1742.9 810.2L1748 818.3" stroke="#cfa311" stroke-width="2.2"/><path d="M1768.5 802.1L1758.3 794" stroke="#35c79f" stroke-width="1.9"/><path d="M1758.3 794L1748 785.9" stroke="#e4c322" stroke-width="1.9"/><path d="M1768.5 802.1L1773.7 794" stroke="#139a70" stroke-width="2.2"/><path d="M1773.7 794L1778.8 785.9" stroke="#cfa311" stroke-width="2.2"/><path d="M1768.5 802.1L1758.3 810.2" stroke="#35c79f" stroke-width="1.9"/><path d="M1758.3 810.2L1748 818.3" stroke="#e4c322" stroke-width="1.9"/><path d="M1768.5 802.1L1773.7 810.2" stroke="#139a70" stroke-width="2.2"/><path d="M1773.7 810.2L1778.8 818.3" stroke="#cfa311" stroke-width="2.2"/><path d="M1799.3 802.1L1789.1 794" stroke="#35c79f" stroke-width="1.9"/><path d="M1789.1 794L1778.8 785.9" stroke="#e4c322" stroke-width="1.9"/><path d="M1799.3 802.1L1804.5 794" stroke="#139a70" stroke-width="2.2"/><path d="M1804.5 794L1809.6 785.9" stroke="#cfa311" stroke-width="2.2"/><path d="M1799.3 802.1L1789.1 810.2" stroke="#35c79f" stroke-width="1.9"/><path d="M1789.1 810.2L1778.8 818.3" stroke="#e4c322" stroke-width="1.9"/><path d="M1799.3 802.1L1804.5 810.2" stroke="#139a70" stroke-width="2.2"/><path d="M1804.5 810.2L1809.6 818.3" stroke="#cfa311" stroke-width="2.2"/><path d="M1830.1 802.1L1819.9 794" stroke="#35c79f" stroke-width="1.9"/><path d="M1819.9 794L1809.6 785.9" stroke="#e4c322" stroke-width="1.9"/><path d="M1830.1 802.1L1835.3 794" stroke="#139a70" stroke-width="2.2"/><path d="M1835.3 794L1840.4 785.9" stroke="#cfa311" stroke-width="2.2"/><path d="M1830.1 802.1L1819.9 810.2" stroke="#35c79f" stroke-width="1.9"/><path d="M1819.9 810.2L1809.6 818.3" stroke="#e4c322" stroke-width="1.9"/><path d="M1830.1 802.1L1835.3 810.2" stroke="#139a70" stroke-width="2.2"/><path d="M1835.3 810.2L1840.4 818.3" stroke="#cfa311" stroke-width="2.2"/></g><circle cx="1655.6" cy="785.9" r="4.3" fill="url(#se)"/><circle cx="1655.6" cy="818.3" r="4.3" fill="url(#se)"/><circle cx="1686.4" cy="785.9" r="4.3" fill="url(#se)"/><circle cx="1686.4" cy="818.3" r="4.3" fill="url(#se)"/><circle cx="1717.2" cy="785.9" r="4.3" fill="url(#se)"/><circle cx="1717.2" cy="818.3" r="4.3" fill="url(#se)"/><circle cx="1748" cy="785.9" r="4.3" fill="url(#se)"/><circle cx="1748" cy="818.3" r="4.3" fill="url(#se)"/><circle cx="1778.8" cy="785.9" r="4.3" fill="url(#se)"/><circle cx="1778.8" cy="818.3" r="4.3" fill="url(#se)"/><circle cx="1809.6" cy="785.9" r="4.3" fill="url(#se)"/><circle cx="1809.6" cy="818.3" r="4.3" fill="url(#se)"/><circle cx="1840.4" cy="785.9" r="4.3" fill="url(#se)"/><circle cx="1840.4" cy="818.3" r="4.3" fill="url(#se)"/><circle cx="1676.1" cy="802.1" r="5.9" fill="url(#nb)"/><circle cx="1706.9" cy="802.1" r="5.9" fill="url(#nb)"/><circle cx="1737.7" cy="802.1" r="5.9" fill="url(#nb)"/><circle cx="1768.5" cy="802.1" r="5.9" fill="url(#nb)"/><circle cx="1799.3" cy="802.1" r="5.9" fill="url(#nb)"/><circle cx="1830.1" cy="802.1" r="5.9" fill="url(#nb)"/>
<g fill="none" stroke-linecap="butt"><path d="M1665 866.7L1654.8 858.6" stroke="#35c79f" stroke-width="1.9"/><path d="M1654.8 858.6L1644.5 850.5" stroke="#e4c322" stroke-width="1.9"/><path d="M1665 866.7L1670.2 858.6" stroke="#139a70" stroke-width="2.2"/><path d="M1670.2 858.6L1675.3 850.5" stroke="#cfa311" stroke-width="2.2"/><path d="M1665 866.7L1654.8 874.8" stroke="#35c79f" stroke-width="1.9"/><path d="M1654.8 874.8L1644.5 882.9" stroke="#e4c322" stroke-width="1.9"/><path d="M1665 866.7L1670.2 874.8" stroke="#139a70" stroke-width="2.2"/><path d="M1670.2 874.8L1675.3 882.9" stroke="#cfa311" stroke-width="2.2"/><path d="M1695.8 866.7L1685.6 858.6" stroke="#35c79f" stroke-width="1.9"/><path d="M1685.6 858.6L1675.3 850.5" stroke="#e4c322" stroke-width="1.9"/><path d="M1695.8 866.7L1701 858.6" stroke="#139a70" stroke-width="2.2"/><path d="M1701 858.6L1706.1 850.5" stroke="#cfa311" stroke-width="2.2"/><path d="M1695.8 866.7L1685.6 874.8" stroke="#35c79f" stroke-width="1.9"/><path d="M1685.6 874.8L1675.3 882.9" stroke="#e4c322" stroke-width="1.9"/><path d="M1695.8 866.7L1701 874.8" stroke="#139a70" stroke-width="2.2"/><path d="M1701 874.8L1706.1 882.9" stroke="#cfa311" stroke-width="2.2"/><path d="M1726.6 866.7L1716.4 858.6" stroke="#35c79f" stroke-width="1.9"/><path d="M1716.4 858.6L1706.1 850.5" stroke="#e4c322" stroke-width="1.9"/><path d="M1726.6 866.7L1731.8 858.6" stroke="#139a70" stroke-width="2.2"/><path d="M1731.8 858.6L1736.9 850.5" stroke="#cfa311" stroke-width="2.2"/><path d="M1726.6 866.7L1716.4 874.8" stroke="#35c79f" stroke-width="1.9"/><path d="M1716.4 874.8L1706.1 882.9" stroke="#e4c322" stroke-width="1.9"/><path d="M1726.6 866.7L1731.8 874.8" stroke="#139a70" stroke-width="2.2"/><path d="M1731.8 874.8L1736.9 882.9" stroke="#cfa311" stroke-width="2.2"/><path d="M1757.4 866.7L1747.2 858.6" stroke="#35c79f" stroke-width="1.9"/><path d="M1747.2 858.6L1736.9 850.5" stroke="#e4c322" stroke-width="1.9"/><path d="M1757.4 866.7L1762.6 858.6" stroke="#139a70" stroke-width="2.2"/><path d="M1762.6 858.6L1767.7 850.5" stroke="#cfa311" stroke-width="2.2"/><path d="M1757.4 866.7L1747.2 874.8" stroke="#35c79f" stroke-width="1.9"/><path d="M1747.2 874.8L1736.9 882.9" stroke="#e4c322" stroke-width="1.9"/><path d="M1757.4 866.7L1762.6 874.8" stroke="#139a70" stroke-width="2.2"/><path d="M1762.6 874.8L1767.7 882.9" stroke="#cfa311" stroke-width="2.2"/><path d="M1788.2 866.7L1778 858.6" stroke="#35c79f" stroke-width="1.9"/><path d="M1778 858.6L1767.7 850.5" stroke="#e4c322" stroke-width="1.9"/><path d="M1788.2 866.7L1793.4 858.6" stroke="#139a70" stroke-width="2.2"/><path d="M1793.4 858.6L1798.5 850.5" stroke="#cfa311" stroke-width="2.2"/><path d="M1788.2 866.7L1778 874.8" stroke="#35c79f" stroke-width="1.9"/><path d="M1778 874.8L1767.7 882.9" stroke="#e4c322" stroke-width="1.9"/><path d="M1788.2 866.7L1793.4 874.8" stroke="#139a70" stroke-width="2.2"/><path d="M1793.4 874.8L1798.5 882.9" stroke="#cfa311" stroke-width="2.2"/><path d="M1819 866.7L1808.8 858.6" stroke="#35c79f" stroke-width="1.9"/><path d="M1808.8 858.6L1798.5 850.5" stroke="#e4c322" stroke-width="1.9"/><path d="M1819 866.7L1824.2 858.6" stroke="#139a70" stroke-width="2.2"/><path d="M1824.2 858.6L1829.3 850.5" stroke="#cfa311" stroke-width="2.2"/><path d="M1819 866.7L1808.8 874.8" stroke="#35c79f" stroke-width="1.9"/><path d="M1808.8 874.8L1798.5 882.9" stroke="#e4c322" stroke-width="1.9"/><path d="M1819 866.7L1824.2 874.8" stroke="#139a70" stroke-width="2.2"/><path d="M1824.2 874.8L1829.3 882.9" stroke="#cfa311" stroke-width="2.2"/></g><circle cx="1644.5" cy="850.5" r="4.3" fill="url(#se)"/><circle cx="1644.5" cy="882.9" r="4.3" fill="url(#se)"/><circle cx="1675.3" cy="850.5" r="4.3" fill="url(#se)"/><circle cx="1675.3" cy="882.9" r="4.3" fill="url(#se)"/><circle cx="1706.1" cy="850.5" r="4.3" fill="url(#se)"/><circle cx="1706.1" cy="882.9" r="4.3" fill="url(#se)"/><circle cx="1736.9" cy="850.5" r="4.3" fill="url(#se)"/><circle cx="1736.9" cy="882.9" r="4.3" fill="url(#se)"/><circle cx="1767.7" cy="850.5" r="4.3" fill="url(#se)"/><circle cx="1767.7" cy="882.9" r="4.3" fill="url(#se)"/><circle cx="1798.5" cy="850.5" r="4.3" fill="url(#se)"/><circle cx="1798.5" cy="882.9" r="4.3" fill="url(#se)"/><circle cx="1829.3" cy="850.5" r="4.3" fill="url(#se)"/><circle cx="1829.3" cy="882.9" r="4.3" fill="url(#se)"/><circle cx="1665" cy="866.7" r="5.9" fill="url(#nb)"/><circle cx="1695.8" cy="866.7" r="5.9" fill="url(#nb)"/><circle cx="1726.6" cy="866.7" r="5.9" fill="url(#nb)"/><circle cx="1757.4" cy="866.7" r="5.9" fill="url(#nb)"/><circle cx="1788.2" cy="866.7" r="5.9" fill="url(#nb)"/><circle cx="1819" cy="866.7" r="5.9" fill="url(#nb)"/>
<g fill="none" stroke-linecap="butt"><path d="M1655.5 929.8L1645.3 921.7" stroke="#35c79f" stroke-width="1.9"/><path d="M1645.3 921.7L1635 913.6" stroke="#e4c322" stroke-width="1.9"/><path d="M1655.5 929.8L1660.7 921.7" stroke="#139a70" stroke-width="2.2"/><path d="M1660.7 921.7L1665.8 913.6" stroke="#cfa311" stroke-width="2.2"/><path d="M1655.5 929.8L1645.3 937.9" stroke="#35c79f" stroke-width="1.9"/><path d="M1645.3 937.9L1635 946" stroke="#e4c322" stroke-width="1.9"/><path d="M1655.5 929.8L1660.7 937.9" stroke="#139a70" stroke-width="2.2"/><path d="M1660.7 937.9L1665.8 946" stroke="#cfa311" stroke-width="2.2"/><path d="M1686.3 929.8L1676.1 921.7" stroke="#35c79f" stroke-width="1.9"/><path d="M1676.1 921.7L1665.8 913.6" stroke="#e4c322" stroke-width="1.9"/><path d="M1686.3 929.8L1691.5 921.7" stroke="#139a70" stroke-width="2.2"/><path d="M1691.5 921.7L1696.6 913.6" stroke="#cfa311" stroke-width="2.2"/><path d="M1686.3 929.8L1676.1 937.9" stroke="#35c79f" stroke-width="1.9"/><path d="M1676.1 937.9L1665.8 946" stroke="#e4c322" stroke-width="1.9"/><path d="M1686.3 929.8L1691.5 937.9" stroke="#139a70" stroke-width="2.2"/><path d="M1691.5 937.9L1696.6 946" stroke="#cfa311" stroke-width="2.2"/><path d="M1717.1 929.8L1706.9 921.7" stroke="#35c79f" stroke-width="1.9"/><path d="M1706.9 921.7L1696.6 913.6" stroke="#e4c322" stroke-width="1.9"/><path d="M1717.1 929.8L1722.3 921.7" stroke="#139a70" stroke-width="2.2"/><path d="M1722.3 921.7L1727.4 913.6" stroke="#cfa311" stroke-width="2.2"/><path d="M1717.1 929.8L1706.9 937.9" stroke="#35c79f" stroke-width="1.9"/><path d="M1706.9 937.9L1696.6 946" stroke="#e4c322" stroke-width="1.9"/><path d="M1717.1 929.8L1722.3 937.9" stroke="#139a70" stroke-width="2.2"/><path d="M1722.3 937.9L1727.4 946" stroke="#cfa311" stroke-width="2.2"/><path d="M1747.9 929.8L1737.7 921.7" stroke="#35c79f" stroke-width="1.9"/><path d="M1737.7 921.7L1727.4 913.6" stroke="#e4c322" stroke-width="1.9"/><path d="M1747.9 929.8L1753.1 921.7" stroke="#139a70" stroke-width="2.2"/><path d="M1753.1 921.7L1758.2 913.6" stroke="#cfa311" stroke-width="2.2"/><path d="M1747.9 929.8L1737.7 937.9" stroke="#35c79f" stroke-width="1.9"/><path d="M1737.7 937.9L1727.4 946" stroke="#e4c322" stroke-width="1.9"/><path d="M1747.9 929.8L1753.1 937.9" stroke="#139a70" stroke-width="2.2"/><path d="M1753.1 937.9L1758.2 946" stroke="#cfa311" stroke-width="2.2"/><path d="M1778.7 929.8L1768.5 921.7" stroke="#35c79f" stroke-width="1.9"/><path d="M1768.5 921.7L1758.2 913.6" stroke="#e4c322" stroke-width="1.9"/><path d="M1778.7 929.8L1783.9 921.7" stroke="#139a70" stroke-width="2.2"/><path d="M1783.9 921.7L1789 913.6" stroke="#cfa311" stroke-width="2.2"/><path d="M1778.7 929.8L1768.5 937.9" stroke="#35c79f" stroke-width="1.9"/><path d="M1768.5 937.9L1758.2 946" stroke="#e4c322" stroke-width="1.9"/><path d="M1778.7 929.8L1783.9 937.9" stroke="#139a70" stroke-width="2.2"/><path d="M1783.9 937.9L1789 946" stroke="#cfa311" stroke-width="2.2"/><path d="M1809.5 929.8L1799.3 921.7" stroke="#35c79f" stroke-width="1.9"/><path d="M1799.3 921.7L1789 913.6" stroke="#e4c322" stroke-width="1.9"/><path d="M1809.5 929.8L1814.7 921.7" stroke="#139a70" stroke-width="2.2"/><path d="M1814.7 921.7L1819.8 913.6" stroke="#cfa311" stroke-width="2.2"/><path d="M1809.5 929.8L1799.3 937.9" stroke="#35c79f" stroke-width="1.9"/><path d="M1799.3 937.9L1789 946" stroke="#e4c322" stroke-width="1.9"/><path d="M1809.5 929.8L1814.7 937.9" stroke="#139a70" stroke-width="2.2"/><path d="M1814.7 937.9L1819.8 946" stroke="#cfa311" stroke-width="2.2"/></g><circle cx="1635" cy="913.6" r="4.3" fill="url(#se)"/><circle cx="1635" cy="946" r="4.3" fill="url(#se)"/><circle cx="1665.8" cy="913.6" r="4.3" fill="url(#se)"/><circle cx="1665.8" cy="946" r="4.3" fill="url(#se)"/><circle cx="1696.6" cy="913.6" r="4.3" fill="url(#se)"/><circle cx="1696.6" cy="946" r="4.3" fill="url(#se)"/><circle cx="1727.4" cy="913.6" r="4.3" fill="url(#se)"/><circle cx="1727.4" cy="946" r="4.3" fill="url(#se)"/><circle cx="1758.2" cy="913.6" r="4.3" fill="url(#se)"/><circle cx="1758.2" cy="946" r="4.3" fill="url(#se)"/><circle cx="1789" cy="913.6" r="4.3" fill="url(#se)"/><circle cx="1789" cy="946" r="4.3" fill="url(#se)"/><circle cx="1819.8" cy="913.6" r="4.3" fill="url(#se)"/><circle cx="1819.8" cy="946" r="4.3" fill="url(#se)"/><circle cx="1655.5" cy="929.8" r="5.9" fill="url(#nb)"/><circle cx="1686.3" cy="929.8" r="5.9" fill="url(#nb)"/><circle cx="1717.1" cy="929.8" r="5.9" fill="url(#nb)"/><circle cx="1747.9" cy="929.8" r="5.9" fill="url(#nb)"/><circle cx="1778.7" cy="929.8" r="5.9" fill="url(#nb)"/><circle cx="1809.5" cy="929.8" r="5.9" fill="url(#nb)"/>
<g fill="none" stroke-linecap="butt"><path d="M1676.1 993.7L1665.9 985.6" stroke="#35c79f" stroke-width="1.9"/><path d="M1665.9 985.6L1655.6 977.5" stroke="#e4c322" stroke-width="1.9"/><path d="M1676.1 993.7L1681.3 985.6" stroke="#139a70" stroke-width="2.2"/><path d="M1681.3 985.6L1686.4 977.5" stroke="#cfa311" stroke-width="2.2"/><path d="M1676.1 993.7L1665.9 1001.8" stroke="#35c79f" stroke-width="1.9"/><path d="M1665.9 1001.8L1655.6 1009.9" stroke="#e4c322" stroke-width="1.9"/><path d="M1676.1 993.7L1681.3 1001.8" stroke="#139a70" stroke-width="2.2"/><path d="M1681.3 1001.8L1686.4 1009.9" stroke="#cfa311" stroke-width="2.2"/><path d="M1706.9 993.7L1696.7 985.6" stroke="#35c79f" stroke-width="1.9"/><path d="M1696.7 985.6L1686.4 977.5" stroke="#e4c322" stroke-width="1.9"/><path d="M1706.9 993.7L1712.1 985.6" stroke="#139a70" stroke-width="2.2"/><path d="M1712.1 985.6L1717.2 977.5" stroke="#cfa311" stroke-width="2.2"/><path d="M1706.9 993.7L1696.7 1001.8" stroke="#35c79f" stroke-width="1.9"/><path d="M1696.7 1001.8L1686.4 1009.9" stroke="#e4c322" stroke-width="1.9"/><path d="M1706.9 993.7L1712.1 1001.8" stroke="#139a70" stroke-width="2.2"/><path d="M1712.1 1001.8L1717.2 1009.9" stroke="#cfa311" stroke-width="2.2"/><path d="M1737.7 993.7L1727.5 985.6" stroke="#35c79f" stroke-width="1.9"/><path d="M1727.5 985.6L1717.2 977.5" stroke="#e4c322" stroke-width="1.9"/><path d="M1737.7 993.7L1742.9 985.6" stroke="#139a70" stroke-width="2.2"/><path d="M1742.9 985.6L1748 977.5" stroke="#cfa311" stroke-width="2.2"/><path d="M1737.7 993.7L1727.5 1001.8" stroke="#35c79f" stroke-width="1.9"/><path d="M1727.5 1001.8L1717.2 1009.9" stroke="#e4c322" stroke-width="1.9"/><path d="M1737.7 993.7L1742.9 1001.8" stroke="#139a70" stroke-width="2.2"/><path d="M1742.9 1001.8L1748 1009.9" stroke="#cfa311" stroke-width="2.2"/><path d="M1768.5 993.7L1758.3 985.6" stroke="#35c79f" stroke-width="1.9"/><path d="M1758.3 985.6L1748 977.5" stroke="#e4c322" stroke-width="1.9"/><path d="M1768.5 993.7L1773.7 985.6" stroke="#139a70" stroke-width="2.2"/><path d="M1773.7 985.6L1778.8 977.5" stroke="#cfa311" stroke-width="2.2"/><path d="M1768.5 993.7L1758.3 1001.8" stroke="#35c79f" stroke-width="1.9"/><path d="M1758.3 1001.8L1748 1009.9" stroke="#e4c322" stroke-width="1.9"/><path d="M1768.5 993.7L1773.7 1001.8" stroke="#139a70" stroke-width="2.2"/><path d="M1773.7 1001.8L1778.8 1009.9" stroke="#cfa311" stroke-width="2.2"/><path d="M1799.3 993.7L1789.1 985.6" stroke="#35c79f" stroke-width="1.9"/><path d="M1789.1 985.6L1778.8 977.5" stroke="#e4c322" stroke-width="1.9"/><path d="M1799.3 993.7L1804.5 985.6" stroke="#139a70" stroke-width="2.2"/><path d="M1804.5 985.6L1809.6 977.5" stroke="#cfa311" stroke-width="2.2"/><path d="M1799.3 993.7L1789.1 1001.8" stroke="#35c79f" stroke-width="1.9"/><path d="M1789.1 1001.8L1778.8 1009.9" stroke="#e4c322" stroke-width="1.9"/><path d="M1799.3 993.7L1804.5 1001.8" stroke="#139a70" stroke-width="2.2"/><path d="M1804.5 1001.8L1809.6 1009.9" stroke="#cfa311" stroke-width="2.2"/><path d="M1830.1 993.7L1819.9 985.6" stroke="#35c79f" stroke-width="1.9"/><path d="M1819.9 985.6L1809.6 977.5" stroke="#e4c322" stroke-width="1.9"/><path d="M1830.1 993.7L1835.3 985.6" stroke="#139a70" stroke-width="2.2"/><path d="M1835.3 985.6L1840.4 977.5" stroke="#cfa311" stroke-width="2.2"/><path d="M1830.1 993.7L1819.9 1001.8" stroke="#35c79f" stroke-width="1.9"/><path d="M1819.9 1001.8L1809.6 1009.9" stroke="#e4c322" stroke-width="1.9"/><path d="M1830.1 993.7L1835.3 1001.8" stroke="#139a70" stroke-width="2.2"/><path d="M1835.3 1001.8L1840.4 1009.9" stroke="#cfa311" stroke-width="2.2"/></g><circle cx="1655.6" cy="977.5" r="4.3" fill="url(#se)"/><circle cx="1655.6" cy="1009.9" r="4.3" fill="url(#se)"/><circle cx="1686.4" cy="977.5" r="4.3" fill="url(#se)"/><circle cx="1686.4" cy="1009.9" r="4.3" fill="url(#se)"/><circle cx="1717.2" cy="977.5" r="4.3" fill="url(#se)"/><circle cx="1717.2" cy="1009.9" r="4.3" fill="url(#se)"/><circle cx="1748" cy="977.5" r="4.3" fill="url(#se)"/><circle cx="1748" cy="1009.9" r="4.3" fill="url(#se)"/><circle cx="1778.8" cy="977.5" r="4.3" fill="url(#se)"/><circle cx="1778.8" cy="1009.9" r="4.3" fill="url(#se)"/><circle cx="1809.6" cy="977.5" r="4.3" fill="url(#se)"/><circle cx="1809.6" cy="1009.9" r="4.3" fill="url(#se)"/><circle cx="1840.4" cy="977.5" r="4.3" fill="url(#se)"/><circle cx="1840.4" cy="1009.9" r="4.3" fill="url(#se)"/><circle cx="1676.1" cy="993.7" r="5.9" fill="url(#nb)"/><circle cx="1706.9" cy="993.7" r="5.9" fill="url(#nb)"/><circle cx="1737.7" cy="993.7" r="5.9" fill="url(#nb)"/><circle cx="1768.5" cy="993.7" r="5.9" fill="url(#nb)"/><circle cx="1799.3" cy="993.7" r="5.9" fill="url(#nb)"/><circle cx="1830.1" cy="993.7" r="5.9" fill="url(#nb)"/>
<g fill="none" stroke-linecap="butt"><path d="M1665 1058.5L1654.8 1050.4" stroke="#35c79f" stroke-width="1.9"/><path d="M1654.8 1050.4L1644.5 1042.3" stroke="#e4c322" stroke-width="1.9"/><path d="M1665 1058.5L1670.2 1050.4" stroke="#139a70" stroke-width="2.2"/><path d="M1670.2 1050.4L1675.3 1042.3" stroke="#cfa311" stroke-width="2.2"/><path d="M1665 1058.5L1654.8 1066.6" stroke="#35c79f" stroke-width="1.9"/><path d="M1654.8 1066.6L1644.5 1074.7" stroke="#e4c322" stroke-width="1.9"/><path d="M1665 1058.5L1670.2 1066.6" stroke="#139a70" stroke-width="2.2"/><path d="M1670.2 1066.6L1675.3 1074.7" stroke="#cfa311" stroke-width="2.2"/><path d="M1695.8 1058.5L1685.6 1050.4" stroke="#35c79f" stroke-width="1.9"/><path d="M1685.6 1050.4L1675.3 1042.3" stroke="#e4c322" stroke-width="1.9"/><path d="M1695.8 1058.5L1701 1050.4" stroke="#139a70" stroke-width="2.2"/><path d="M1701 1050.4L1706.1 1042.3" stroke="#cfa311" stroke-width="2.2"/><path d="M1695.8 1058.5L1685.6 1066.6" stroke="#35c79f" stroke-width="1.9"/><path d="M1685.6 1066.6L1675.3 1074.7" stroke="#e4c322" stroke-width="1.9"/><path d="M1695.8 1058.5L1701 1066.6" stroke="#139a70" stroke-width="2.2"/><path d="M1701 1066.6L1706.1 1074.7" stroke="#cfa311" stroke-width="2.2"/><path d="M1726.6 1058.5L1716.4 1050.4" stroke="#35c79f" stroke-width="1.9"/><path d="M1716.4 1050.4L1706.1 1042.3" stroke="#e4c322" stroke-width="1.9"/><path d="M1726.6 1058.5L1731.8 1050.4" stroke="#139a70" stroke-width="2.2"/><path d="M1731.8 1050.4L1736.9 1042.3" stroke="#cfa311" stroke-width="2.2"/><path d="M1726.6 1058.5L1716.4 1066.6" stroke="#35c79f" stroke-width="1.9"/><path d="M1716.4 1066.6L1706.1 1074.7" stroke="#e4c322" stroke-width="1.9"/><path d="M1726.6 1058.5L1731.8 1066.6" stroke="#139a70" stroke-width="2.2"/><path d="M1731.8 1066.6L1736.9 1074.7" stroke="#cfa311" stroke-width="2.2"/><path d="M1757.4 1058.5L1747.2 1050.4" stroke="#35c79f" stroke-width="1.9"/><path d="M1747.2 1050.4L1736.9 1042.3" stroke="#e4c322" stroke-width="1.9"/><path d="M1757.4 1058.5L1762.6 1050.4" stroke="#139a70" stroke-width="2.2"/><path d="M1762.6 1050.4L1767.7 1042.3" stroke="#cfa311" stroke-width="2.2"/><path d="M1757.4 1058.5L1747.2 1066.6" stroke="#35c79f" stroke-width="1.9"/><path d="M1747.2 1066.6L1736.9 1074.7" stroke="#e4c322" stroke-width="1.9"/><path d="M1757.4 1058.5L1762.6 1066.6" stroke="#139a70" stroke-width="2.2"/><path d="M1762.6 1066.6L1767.7 1074.7" stroke="#cfa311" stroke-width="2.2"/><path d="M1788.2 1058.5L1778 1050.4" stroke="#35c79f" stroke-width="1.9"/><path d="M1778 1050.4L1767.7 1042.3" stroke="#e4c322" stroke-width="1.9"/><path d="M1788.2 1058.5L1793.4 1050.4" stroke="#139a70" stroke-width="2.2"/><path d="M1793.4 1050.4L1798.5 1042.3" stroke="#cfa311" stroke-width="2.2"/><path d="M1788.2 1058.5L1778 1066.6" stroke="#35c79f" stroke-width="1.9"/><path d="M1778 1066.6L1767.7 1074.7" stroke="#e4c322" stroke-width="1.9"/><path d="M1788.2 1058.5L1793.4 1066.6" stroke="#139a70" stroke-width="2.2"/><path d="M1793.4 1066.6L1798.5 1074.7" stroke="#cfa311" stroke-width="2.2"/><path d="M1819 1058.5L1808.8 1050.4" stroke="#35c79f" stroke-width="1.9"/><path d="M1808.8 1050.4L1798.5 1042.3" stroke="#e4c322" stroke-width="1.9"/><path d="M1819 1058.5L1824.2 1050.4" stroke="#139a70" stroke-width="2.2"/><path d="M1824.2 1050.4L1829.3 1042.3" stroke="#cfa311" stroke-width="2.2"/><path d="M1819 1058.5L1808.8 1066.6" stroke="#35c79f" stroke-width="1.9"/><path d="M1808.8 1066.6L1798.5 1074.7" stroke="#e4c322" stroke-width="1.9"/><path d="M1819 1058.5L1824.2 1066.6" stroke="#139a70" stroke-width="2.2"/><path d="M1824.2 1066.6L1829.3 1074.7" stroke="#cfa311" stroke-width="2.2"/></g><circle cx="1644.5" cy="1042.3" r="4.3" fill="url(#se)"/><circle cx="1644.5" cy="1074.7" r="4.3" fill="url(#se)"/><circle cx="1675.3" cy="1042.3" r="4.3" fill="url(#se)"/><circle cx="1675.3" cy="1074.7" r="4.3" fill="url(#se)"/><circle cx="1706.1" cy="1042.3" r="4.3" fill="url(#se)"/><circle cx="1706.1" cy="1074.7" r="4.3" fill="url(#se)"/><circle cx="1736.9" cy="1042.3" r="4.3" fill="url(#se)"/><circle cx="1736.9" cy="1074.7" r="4.3" fill="url(#se)"/><circle cx="1767.7" cy="1042.3" r="4.3" fill="url(#se)"/><circle cx="1767.7" cy="1074.7" r="4.3" fill="url(#se)"/><circle cx="1798.5" cy="1042.3" r="4.3" fill="url(#se)"/><circle cx="1798.5" cy="1074.7" r="4.3" fill="url(#se)"/><circle cx="1829.3" cy="1042.3" r="4.3" fill="url(#se)"/><circle cx="1829.3" cy="1074.7" r="4.3" fill="url(#se)"/><circle cx="1665" cy="1058.5" r="5.9" fill="url(#nb)"/><circle cx="1695.8" cy="1058.5" r="5.9" fill="url(#nb)"/><circle cx="1726.6" cy="1058.5" r="5.9" fill="url(#nb)"/><circle cx="1757.4" cy="1058.5" r="5.9" fill="url(#nb)"/><circle cx="1788.2" cy="1058.5" r="5.9" fill="url(#nb)"/><circle cx="1819" cy="1058.5" r="5.9" fill="url(#nb)"/>
<g fill="none" stroke-linecap="butt"><path d="M1655.5 1120.7L1645.3 1112.6" stroke="#35c79f" stroke-width="1.9"/><path d="M1645.3 1112.6L1635 1104.5" stroke="#e4c322" stroke-width="1.9"/><path d="M1655.5 1120.7L1660.7 1112.6" stroke="#139a70" stroke-width="2.2"/><path d="M1660.7 1112.6L1665.8 1104.5" stroke="#cfa311" stroke-width="2.2"/><path d="M1655.5 1120.7L1645.3 1128.8" stroke="#35c79f" stroke-width="1.9"/><path d="M1645.3 1128.8L1635 1136.9" stroke="#e4c322" stroke-width="1.9"/><path d="M1655.5 1120.7L1660.7 1128.8" stroke="#139a70" stroke-width="2.2"/><path d="M1660.7 1128.8L1665.8 1136.9" stroke="#cfa311" stroke-width="2.2"/><path d="M1686.3 1120.7L1676.1 1112.6" stroke="#35c79f" stroke-width="1.9"/><path d="M1676.1 1112.6L1665.8 1104.5" stroke="#e4c322" stroke-width="1.9"/><path d="M1686.3 1120.7L1691.5 1112.6" stroke="#139a70" stroke-width="2.2"/><path d="M1691.5 1112.6L1696.6 1104.5" stroke="#cfa311" stroke-width="2.2"/><path d="M1686.3 1120.7L1676.1 1128.8" stroke="#35c79f" stroke-width="1.9"/><path d="M1676.1 1128.8L1665.8 1136.9" stroke="#e4c322" stroke-width="1.9"/><path d="M1686.3 1120.7L1691.5 1128.8" stroke="#139a70" stroke-width="2.2"/><path d="M1691.5 1128.8L1696.6 1136.9" stroke="#cfa311" stroke-width="2.2"/><path d="M1717.1 1120.7L1706.9 1112.6" stroke="#35c79f" stroke-width="1.9"/><path d="M1706.9 1112.6L1696.6 1104.5" stroke="#e4c322" stroke-width="1.9"/><path d="M1717.1 1120.7L1722.3 1112.6" stroke="#139a70" stroke-width="2.2"/><path d="M1722.3 1112.6L1727.4 1104.5" stroke="#cfa311" stroke-width="2.2"/><path d="M1717.1 1120.7L1706.9 1128.8" stroke="#35c79f" stroke-width="1.9"/><path d="M1706.9 1128.8L1696.6 1136.9" stroke="#e4c322" stroke-width="1.9"/><path d="M1717.1 1120.7L1722.3 1128.8" stroke="#139a70" stroke-width="2.2"/><path d="M1722.3 1128.8L1727.4 1136.9" stroke="#cfa311" stroke-width="2.2"/><path d="M1747.9 1120.7L1737.7 1112.6" stroke="#35c79f" stroke-width="1.9"/><path d="M1737.7 1112.6L1727.4 1104.5" stroke="#e4c322" stroke-width="1.9"/><path d="M1747.9 1120.7L1753.1 1112.6" stroke="#139a70" stroke-width="2.2"/><path d="M1753.1 1112.6L1758.2 1104.5" stroke="#cfa311" stroke-width="2.2"/><path d="M1747.9 1120.7L1737.7 1128.8" stroke="#35c79f" stroke-width="1.9"/><path d="M1737.7 1128.8L1727.4 1136.9" stroke="#e4c322" stroke-width="1.9"/><path d="M1747.9 1120.7L1753.1 1128.8" stroke="#139a70" stroke-width="2.2"/><path d="M1753.1 1128.8L1758.2 1136.9" stroke="#cfa311" stroke-width="2.2"/><path d="M1778.7 1120.7L1768.5 1112.6" stroke="#35c79f" stroke-width="1.9"/><path d="M1768.5 1112.6L1758.2 1104.5" stroke="#e4c322" stroke-width="1.9"/><path d="M1778.7 1120.7L1783.9 1112.6" stroke="#139a70" stroke-width="2.2"/><path d="M1783.9 1112.6L1789 1104.5" stroke="#cfa311" stroke-width="2.2"/><path d="M1778.7 1120.7L1768.5 1128.8" stroke="#35c79f" stroke-width="1.9"/><path d="M1768.5 1128.8L1758.2 1136.9" stroke="#e4c322" stroke-width="1.9"/><path d="M1778.7 1120.7L1783.9 1128.8" stroke="#139a70" stroke-width="2.2"/><path d="M1783.9 1128.8L1789 1136.9" stroke="#cfa311" stroke-width="2.2"/><path d="M1809.5 1120.7L1799.3 1112.6" stroke="#35c79f" stroke-width="1.9"/><path d="M1799.3 1112.6L1789 1104.5" stroke="#e4c322" stroke-width="1.9"/><path d="M1809.5 1120.7L1814.7 1112.6" stroke="#139a70" stroke-width="2.2"/><path d="M1814.7 1112.6L1819.8 1104.5" stroke="#cfa311" stroke-width="2.2"/><path d="M1809.5 1120.7L1799.3 1128.8" stroke="#35c79f" stroke-width="1.9"/><path d="M1799.3 1128.8L1789 1136.9" stroke="#e4c322" stroke-width="1.9"/><path d="M1809.5 1120.7L1814.7 1128.8" stroke="#139a70" stroke-width="2.2"/><path d="M1814.7 1128.8L1819.8 1136.9" stroke="#cfa311" stroke-width="2.2"/></g><circle cx="1635" cy="1104.5" r="4.3" fill="url(#se)"/><circle cx="1635" cy="1136.9" r="4.3" fill="url(#se)"/><circle cx="1665.8" cy="1104.5" r="4.3" fill="url(#se)"/><circle cx="1665.8" cy="1136.9" r="4.3" fill="url(#se)"/><circle cx="1696.6" cy="1104.5" r="4.3" fill="url(#se)"/><circle cx="1696.6" cy="1136.9" r="4.3" fill="url(#se)"/><circle cx="1727.4" cy="1104.5" r="4.3" fill="url(#se)"/><circle cx="1727.4" cy="1136.9" r="4.3" fill="url(#se)"/><circle cx="1758.2" cy="1104.5" r="4.3" fill="url(#se)"/><circle cx="1758.2" cy="1136.9" r="4.3" fill="url(#se)"/><circle cx="1789" cy="1104.5" r="4.3" fill="url(#se)"/><circle cx="1789" cy="1136.9" r="4.3" fill="url(#se)"/><circle cx="1819.8" cy="1104.5" r="4.3" fill="url(#se)"/><circle cx="1819.8" cy="1136.9" r="4.3" fill="url(#se)"/><circle cx="1655.5" cy="1120.7" r="5.9" fill="url(#nb)"/><circle cx="1686.3" cy="1120.7" r="5.9" fill="url(#nb)"/><circle cx="1717.1" cy="1120.7" r="5.9" fill="url(#nb)"/><circle cx="1747.9" cy="1120.7" r="5.9" fill="url(#nb)"/><circle cx="1778.7" cy="1120.7" r="5.9" fill="url(#nb)"/><circle cx="1809.5" cy="1120.7" r="5.9" fill="url(#nb)"/>
<circle cx="1696.2" cy="832.6" r="6.4" fill="url(#ic)" stroke="url(#icr)" stroke-width="2.0"/>
<circle cx="1787.9" cy="832.6" r="6.4" fill="url(#ic)" stroke="url(#icr)" stroke-width="2.0"/>
<circle cx="1747.5" cy="896.8" r="6.4" fill="url(#ic)" stroke="url(#icr)" stroke-width="2.0"/>
<circle cx="1808.9" cy="896.8" r="6.4" fill="url(#ic)" stroke="url(#icr)" stroke-width="2.0"/>
<circle cx="1675.8" cy="961.1" r="6.4" fill="url(#ic)" stroke="url(#icr)" stroke-width="2.0"/>
<circle cx="1767.5" cy="961.1" r="6.4" fill="url(#ic)" stroke="url(#icr)" stroke-width="2.0"/>
<circle cx="1830" cy="961.1" r="6.4" fill="url(#ic)" stroke="url(#icr)" stroke-width="2.0"/>
<circle cx="1695.9" cy="1024.6" r="6.4" fill="url(#ic)" stroke="url(#icr)" stroke-width="2.0"/>
<circle cx="1787.9" cy="1024.6" r="6.4" fill="url(#ic)" stroke="url(#icr)" stroke-width="2.0"/>
<circle cx="1655.4" cy="1088.6" r="6.4" fill="url(#ic)" stroke="url(#icr)" stroke-width="2.0"/>
<circle cx="1747.2" cy="1088.6" r="6.4" fill="url(#ic)" stroke="url(#icr)" stroke-width="2.0"/>
<text x="793.5" y="655.7" font-size="29.5" font-weight="bold">CVT</text>
<text x="738.5" y="698.8" font-size="38" font-weight="bold">d</text>
<text x="814" y="712.6" font-size="29.5" fill="#ff0012">180°</text>
<text x="1364.5" y="712.6" font-size="29.5" fill="#0a32ff">0°</text>
<text x="781.5" y="1219.3" font-size="30"><tspan font-style="italic">x</tspan> = 0</text>
<text x="1063" y="1221.5" font-size="30"><tspan font-style="italic">x</tspan> ~ 0.11</text>
<text x="1244.3" y="1220.3" font-size="30"><tspan font-style="italic">x</tspan> ~ 0.17</text>
<text x="1387.5" y="1219.3" font-size="30"><tspan font-style="italic">x</tspan> ~ 0.20</text>
</g>
</svg></body></html>
